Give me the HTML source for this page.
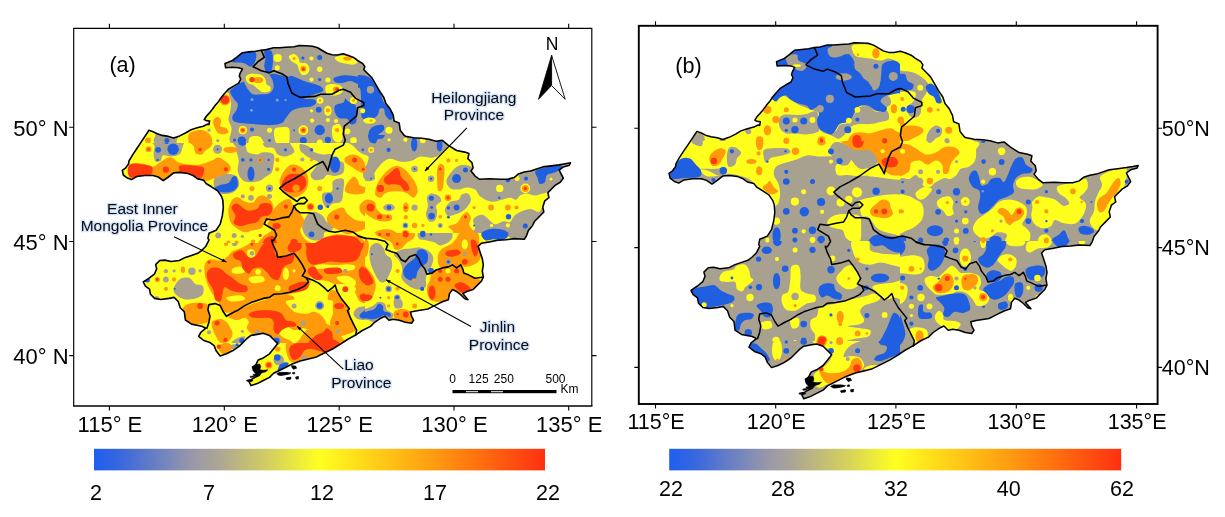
<!DOCTYPE html>
<html><head><meta charset="utf-8"><title>Figure</title>
<style>
html,body{margin:0;padding:0;background:#fff;}
body{width:1225px;height:517px;position:relative;overflow:hidden;font-family:"Liberation Sans",sans-serif;color:#000;}
text{font-family:"Liberation Sans",sans-serif;fill:#000;}
text.h{stroke:#d3e3f6;stroke-width:2.6px;paint-order:stroke;stroke-linejoin:round;fill:#0a0a14;}
</style></head><body>
<svg width="1225" height="517" viewBox="0 0 1225 517" style="position:absolute;left:0;top:0">
<defs><linearGradient id="cb" x1="0" x2="1" y1="0" y2="0"><stop offset="0" stop-color="#1f5ff0"/><stop offset="0.05" stop-color="#3565e0"/><stop offset="0.22" stop-color="#9a98a8"/><stop offset="0.27" stop-color="#aaa498"/><stop offset="0.40" stop-color="#d8d458"/><stop offset="0.5" stop-color="#ffff20"/><stop offset="0.75" stop-color="#ff9d10"/><stop offset="1" stop-color="#ff3010"/></linearGradient></defs>
<rect width="1225" height="517" fill="#fff"/>
<clipPath id="ca"><path d="M225.0,63.6L232.5,60.5L236.6,57.4L242.4,52.7L248.9,51.9L255.5,51.3L261.3,50.3L266.4,49.6L273.6,47.8L279.7,47.8L285.9,47.2L294.1,46.8L299.2,45.5L306.4,45.7L312.5,46.2L317.7,47.8L321.8,50.3L326.9,53.3L332.0,54.8L337.1,55.0L343.3,53.7L348.4,55.4L353.5,57.4L357.6,60.5L362.8,63.6L364.8,66.7L363.8,69.7L367.9,73.8L372.0,77.9L375.6,84.1L379.7,91.3L383.8,97.4L385.9,103.6L390.0,108.7L393.1,114.9L394.1,121.0L399.2,123.1L400.2,130.2L404.3,135.4L405.4,136.2L413.6,137.8L421.8,138.2L429.0,139.2L436.1,141.3L442.3,140.3L448.4,145.4L456.6,150.5L464.8,152.1L468.9,153.6L467.9,158.7L472.0,162.8L473.1,167.9L471.0,171.0L475.1,176.1L479.2,179.2L489.5,178.8L499.7,179.2L507.9,179.2L514.1,177.6L518.2,174.1L524.3,172.0L530.5,171.0L536.6,169.0L542.8,166.9L551.0,165.9L559.2,164.9L565.3,163.8L570.5,162.8L569.4,165.3L563.3,166.9L559.2,170.0L561.2,174.1L563.3,178.2L560.2,182.3L555.1,185.4L551.0,189.5L547.9,192.6L548.9,197.7L544.8,200.8L542.8,206.9L543.8,212.0L538.7,217.2L534.6,221.3L532.5,225.4L528.4,230.5L526.4,236.0L524.3,239.2L514.1,238.6L505.9,239.8L497.7,240.3L489.5,241.9L481.3,243.3L478.2,246.4L480.2,252.6L482.3,258.7L483.3,264.9L482.3,271.0L483.3,277.2L481.3,281.3L477.2,285.4L473.1,289.5L466.9,291.5L462.8,293.6L467.9,299.7L464.8,298.7L460.7,294.6L456.6,291.5L452.5,289.5L449.5,293.6L448.4,299.7L442.3,301.8L436.1,304.9L432.0,306.9L427.9,309.0L421.8,310.0L415.6,311.0L410.5,312.0L411.5,316.1L413.6,320.2L411.5,323.3L405.4,322.3L399.2,320.2L393.1,319.2L389.0,320.2L384.9,316.1L380.8,318.2L374.6,322.3L370.5,326.4L362.3,330.5L356.2,334.6L347.4,339.5L341.2,343.6L333.0,348.7L324.8,352.8L316.6,356.9L308.4,359.0L300.2,361.0L292.0,364.1L285.9,367.2L279.7,370.2L273.6,373.3L269.5,377.4L263.3,380.5L257.2,383.6L251.0,385.6L248.9,381.5L253.1,378.4L259.2,375.4L261.3,372.3L256.1,371.3L253.1,368.2L256.1,364.1L258.2,360.0L263.3,357.9L269.5,353.8L273.6,348.7L277.7,343.6L273.6,339.5L269.5,335.4L263.3,333.3L257.2,334.4L251.0,335.4L246.9,338.5L242.8,342.6L238.7,346.7L232.5,350.8L226.4,353.8L220.2,355.9L216.1,350.8L214.1,345.6L210.0,342.6L203.8,340.5L198.7,336.4L200.8,332.3L205.9,328.2L201.8,326.2L191.5,324.1L185.4,320.0L184.3,311.8L180.2,307.7L178.2,301.5L174.1,297.4L169.0,298.4L160.8,299.5L154.6,298.4L150.5,294.3L149.5,289.2L145.4,286.1L143.3,282.0L149.5,277.9L154.6,273.8L156.7,268.7L155.6,264.6L159.7,260.5L164.9,260.1L171.0,261.5L179.2,260.5L185.4,257.4L191.5,255.4L197.7,253.3L201.8,250.3L205.9,246.2L209.0,240.0L207.9,238.4L209.0,233.3L216.1,230.2L220.2,224.1L222.3,215.9L223.3,207.7L222.8,200.1L221.3,196.0L217.7,190.9L211.5,186.8L206.4,183.7L203.3,180.1L197.2,178.6L193.1,175.5L187.9,173.5L179.7,172.4L173.6,172.9L168.4,177.0L163.3,180.6L158.2,177.0L153.1,175.5L144.9,175.5L136.7,176.5L131.5,179.6L127.4,178.1L123.3,175.0L122.3,170.4L125.4,168.2L128.5,164.1L129.0,161.0L132.6,154.9L136.7,148.7L140.8,142.6L144.9,136.4L149.0,130.3L153.1,131.8L157.2,133.8L162.3,135.4L168.4,136.4L173.6,137.9L179.7,135.9L185.9,132.8L191.0,129.7L197.2,127.7L203.3,126.2L207.4,124.1L209.0,124.5L209.6,121.0L206.3,120.6L204.2,119.6L206.3,116.3L209.0,113.4L212.0,109.7L215.1,105.6L218.6,101.5L221.3,97.4L224.3,93.7L228.4,89.2L233.6,86.1L238.7,83.1L240.7,79.0L239.3,75.9L240.3,72.8L242.4,69.1L238.7,67.7L232.5,67.3L225.6,67.7Z"/></clipPath>
<g clip-path="url(#ca)"><path d="M225.0,63.6L232.5,60.5L236.6,57.4L242.4,52.7L248.9,51.9L255.5,51.3L261.3,50.3L266.4,49.6L273.6,47.8L279.7,47.8L285.9,47.2L294.1,46.8L299.2,45.5L306.4,45.7L312.5,46.2L317.7,47.8L321.8,50.3L326.9,53.3L332.0,54.8L337.1,55.0L343.3,53.7L348.4,55.4L353.5,57.4L357.6,60.5L362.8,63.6L364.8,66.7L363.8,69.7L367.9,73.8L372.0,77.9L375.6,84.1L379.7,91.3L383.8,97.4L385.9,103.6L390.0,108.7L393.1,114.9L394.1,121.0L399.2,123.1L400.2,130.2L404.3,135.4L405.4,136.2L413.6,137.8L421.8,138.2L429.0,139.2L436.1,141.3L442.3,140.3L448.4,145.4L456.6,150.5L464.8,152.1L468.9,153.6L467.9,158.7L472.0,162.8L473.1,167.9L471.0,171.0L475.1,176.1L479.2,179.2L489.5,178.8L499.7,179.2L507.9,179.2L514.1,177.6L518.2,174.1L524.3,172.0L530.5,171.0L536.6,169.0L542.8,166.9L551.0,165.9L559.2,164.9L565.3,163.8L570.5,162.8L569.4,165.3L563.3,166.9L559.2,170.0L561.2,174.1L563.3,178.2L560.2,182.3L555.1,185.4L551.0,189.5L547.9,192.6L548.9,197.7L544.8,200.8L542.8,206.9L543.8,212.0L538.7,217.2L534.6,221.3L532.5,225.4L528.4,230.5L526.4,236.0L524.3,239.2L514.1,238.6L505.9,239.8L497.7,240.3L489.5,241.9L481.3,243.3L478.2,246.4L480.2,252.6L482.3,258.7L483.3,264.9L482.3,271.0L483.3,277.2L481.3,281.3L477.2,285.4L473.1,289.5L466.9,291.5L462.8,293.6L467.9,299.7L464.8,298.7L460.7,294.6L456.6,291.5L452.5,289.5L449.5,293.6L448.4,299.7L442.3,301.8L436.1,304.9L432.0,306.9L427.9,309.0L421.8,310.0L415.6,311.0L410.5,312.0L411.5,316.1L413.6,320.2L411.5,323.3L405.4,322.3L399.2,320.2L393.1,319.2L389.0,320.2L384.9,316.1L380.8,318.2L374.6,322.3L370.5,326.4L362.3,330.5L356.2,334.6L347.4,339.5L341.2,343.6L333.0,348.7L324.8,352.8L316.6,356.9L308.4,359.0L300.2,361.0L292.0,364.1L285.9,367.2L279.7,370.2L273.6,373.3L269.5,377.4L263.3,380.5L257.2,383.6L251.0,385.6L248.9,381.5L253.1,378.4L259.2,375.4L261.3,372.3L256.1,371.3L253.1,368.2L256.1,364.1L258.2,360.0L263.3,357.9L269.5,353.8L273.6,348.7L277.7,343.6L273.6,339.5L269.5,335.4L263.3,333.3L257.2,334.4L251.0,335.4L246.9,338.5L242.8,342.6L238.7,346.7L232.5,350.8L226.4,353.8L220.2,355.9L216.1,350.8L214.1,345.6L210.0,342.6L203.8,340.5L198.7,336.4L200.8,332.3L205.9,328.2L201.8,326.2L191.5,324.1L185.4,320.0L184.3,311.8L180.2,307.7L178.2,301.5L174.1,297.4L169.0,298.4L160.8,299.5L154.6,298.4L150.5,294.3L149.5,289.2L145.4,286.1L143.3,282.0L149.5,277.9L154.6,273.8L156.7,268.7L155.6,264.6L159.7,260.5L164.9,260.1L171.0,261.5L179.2,260.5L185.4,257.4L191.5,255.4L197.7,253.3L201.8,250.3L205.9,246.2L209.0,240.0L207.9,238.4L209.0,233.3L216.1,230.2L220.2,224.1L222.3,215.9L223.3,207.7L222.8,200.1L221.3,196.0L217.7,190.9L211.5,186.8L206.4,183.7L203.3,180.1L197.2,178.6L193.1,175.5L187.9,173.5L179.7,172.4L173.6,172.9L168.4,177.0L163.3,180.6L158.2,177.0L153.1,175.5L144.9,175.5L136.7,176.5L131.5,179.6L127.4,178.1L123.3,175.0L122.3,170.4L125.4,168.2L128.5,164.1L129.0,161.0L132.6,154.9L136.7,148.7L140.8,142.6L144.9,136.4L149.0,130.3L153.1,131.8L157.2,133.8L162.3,135.4L168.4,136.4L173.6,137.9L179.7,135.9L185.9,132.8L191.0,129.7L197.2,127.7L203.3,126.2L207.4,124.1L209.0,124.5L209.6,121.0L206.3,120.6L204.2,119.6L206.3,116.3L209.0,113.4L212.0,109.7L215.1,105.6L218.6,101.5L221.3,97.4L224.3,93.7L228.4,89.2L233.6,86.1L238.7,83.1L240.7,79.0L239.3,75.9L240.3,72.8L242.4,69.1L238.7,67.7L232.5,67.3L225.6,67.7Z" fill="#a9a18f"/>
<clipPath id="cat0"><rect x="0" y="0" width="358" height="143"/></clipPath>
<g clip-path="url(#cat0)"><rect x="0" y="0" width="358" height="143" fill="#a9a18f"/>
<path d="M232.5,61.5C233.2,60.0 238.6,54.9 242.4,53.3C246.1,51.8 252.9,51.1 255.1,52.3C257.3,53.5 256.2,58.1 255.5,60.5C254.8,62.9 252.8,66.1 251.0,66.7C249.2,67.2 246.9,64.3 244.8,63.6C242.8,62.9 240.7,62.9 238.7,62.6C236.6,62.2 231.9,63.1 232.5,61.5Z" fill="#1f5fe0"/>
<path d="M264.3,51.3C265.4,50.1 270.1,49.7 271.5,51.3C272.9,52.8 272.9,57.3 272.9,60.5C272.9,63.8 272.4,68.5 271.5,70.8C270.6,73.0 268.6,74.5 267.4,73.8C266.2,73.2 264.7,69.2 264.3,66.7C264.0,64.1 265.4,61.0 265.4,58.5C265.4,55.9 263.3,52.5 264.3,51.3Z" fill="#1f5fe0"/>
<path d="M230.1,91.3C230.6,89.1 234.5,87.1 236.6,85.5C238.8,84.0 240.1,82.8 242.8,82.0C245.5,81.3 249.3,81.9 253.1,81.0C256.8,80.2 261.9,78.1 265.4,76.9C268.8,75.7 270.0,73.8 273.6,73.8C277.1,73.8 283.8,76.6 286.9,76.9C290.0,77.3 289.1,75.2 292.0,75.9C294.9,76.6 300.6,79.6 304.3,81.0C308.1,82.4 311.7,83.1 314.6,84.1C317.5,85.1 320.4,86.0 321.8,87.2C323.1,88.4 324.0,90.1 322.8,91.3C321.6,92.5 317.7,93.2 314.6,94.3C311.5,95.5 304.3,97.6 304.3,98.4C304.3,99.3 312.7,98.6 314.6,99.5C316.5,100.3 316.3,102.4 315.6,103.6C314.9,104.8 313.0,106.0 310.5,106.7C307.9,107.3 303.3,107.0 300.2,107.7C297.1,108.4 294.4,109.0 292.0,110.8C289.6,112.5 287.6,115.9 285.9,117.9C284.2,120.0 284.2,121.9 281.8,123.1C279.4,124.3 276.3,124.9 271.5,125.1C266.7,125.3 258.2,124.4 253.1,124.1C247.9,123.7 244.0,123.6 240.7,123.1C237.5,122.5 234.9,122.2 233.6,121.0C232.2,119.8 232.0,117.8 232.5,115.9C233.1,114.0 235.8,111.8 236.6,109.7C237.5,107.7 238.2,105.5 237.7,103.6C237.2,101.7 234.8,100.5 233.6,98.4C232.3,96.4 229.6,93.4 230.1,91.3Z" fill="#1f5fe0"/>
<path d="M241.8,72.8C243.3,71.1 249.1,70.8 253.1,70.8C257.0,70.8 262.3,71.6 265.4,72.8C268.4,74.0 270.1,75.5 271.5,77.9C272.9,80.3 273.9,84.6 273.6,87.2C273.2,89.7 271.5,92.1 269.5,93.3C267.4,94.5 264.0,94.2 261.3,94.3C258.5,94.5 255.3,95.2 253.1,94.3C250.8,93.5 249.5,91.4 247.9,89.2C246.4,87.0 244.8,83.8 243.8,81.0C242.8,78.3 240.2,74.5 241.8,72.8Z" fill="#a9a18f"/>
<path d="M245.9,76.9C246.4,75.4 248.4,74.2 251.0,73.8C253.6,73.5 258.9,74.0 261.3,74.9C263.6,75.7 264.5,77.4 265.4,79.0C266.2,80.5 265.5,82.7 266.4,84.1C267.2,85.5 270.0,86.0 270.5,87.2C271.0,88.4 270.7,90.4 269.5,91.3C268.3,92.1 265.2,92.6 263.3,92.3C261.4,92.0 259.9,90.4 258.2,89.2C256.5,88.0 254.8,86.1 253.1,85.1C251.3,84.1 249.1,84.4 247.9,83.1C246.7,81.7 245.4,78.5 245.9,76.9Z" fill="#ffff1e"/>
<ellipse cx="258.2" cy="80.0" rx="5.1" ry="3.1" fill="#ff9a0a"/>
<circle cx="252.0" cy="79.6" r="2.7" fill="#ff3a0e"/>
<path d="M334.1,77.9C335.8,76.8 341.4,75.5 345.3,75.3C349.3,75.0 354.2,76.5 357.6,76.5C361.1,76.5 364.0,74.9 365.8,75.3C367.7,75.7 369.6,77.5 368.9,79.0C368.2,80.4 364.0,83.4 361.7,84.1C359.5,84.8 357.5,83.6 355.6,83.1C353.7,82.6 352.9,81.0 350.5,81.0C348.1,81.0 343.8,82.9 341.2,83.1C338.7,83.2 336.3,82.9 335.1,82.0C333.9,81.2 332.4,79.1 334.1,77.9Z" fill="#1f5fe0"/>
<path d="M365.8,88.2C367.0,86.8 371.7,85.6 374.1,86.1C376.4,86.7 379.0,87.3 380.0,91.3C381.0,95.2 380.8,106.1 380.0,109.7C379.2,113.3 376.6,112.6 375.1,112.8C373.6,113.0 371.8,112.6 371.0,110.8C370.1,108.9 370.6,104.3 370.0,101.5C369.3,98.8 367.6,96.6 366.9,94.3C366.2,92.1 364.7,89.6 365.8,88.2Z" fill="#1f5fe0"/>
<circle cx="372.0" cy="90.2" r="3.7" fill="#a9a18f"/>
<path d="M335.1,105.6C336.5,103.9 341.6,103.7 343.3,102.6C345.0,101.4 344.5,98.6 345.3,98.4C346.2,98.3 346.7,100.3 348.4,101.5C350.1,102.7 354.2,103.2 355.6,105.6C357.0,108.0 356.6,113.0 356.6,115.9C356.6,118.8 356.6,121.7 355.6,123.1C354.6,124.4 351.8,124.8 350.5,124.1C349.1,123.4 349.3,120.0 347.4,119.0C345.5,117.9 341.2,119.0 339.2,117.9C337.1,116.9 335.8,114.9 335.1,112.8C334.4,110.8 333.7,107.3 335.1,105.6Z" fill="#1f5fe0"/>
<circle cx="319.7" cy="130.2" r="5.1" fill="#1f5fe0"/>
<circle cx="241.8" cy="140.5" r="4.1" fill="#1f5fe0"/>
<circle cx="303.3" cy="140.5" r="3.5" fill="#1f5fe0"/>
<circle cx="327.9" cy="139.9" r="3.1" fill="#1f5fe0"/>
<circle cx="234.6" cy="140.1" r="1.6" fill="#1f5fe0"/>
<circle cx="269.5" cy="140.5" r="1.4" fill="#1f5fe0"/>
<circle cx="252.0" cy="129.6" r="2.1" fill="#1f5fe0"/>
<circle cx="318.7" cy="109.7" r="2.9" fill="#1f5fe0"/>
<circle cx="319.7" cy="57.4" r="2.5" fill="#1f5fe0"/>
<circle cx="302.9" cy="58.0" r="1.6" fill="#1f5fe0"/>
<circle cx="319.7" cy="79.6" r="1.6" fill="#1f5fe0"/>
<circle cx="294.1" cy="130.2" r="1.0" fill="#1f5fe0"/>
<path d="M371.0,130.2C372.8,128.5 378.5,124.1 380.0,126.1C381.5,128.2 381.3,139.8 380.0,142.5C378.7,145.3 373.8,143.6 372.0,142.5C370.2,141.5 369.1,138.4 368.9,136.4C368.8,134.3 369.1,131.9 371.0,130.2Z" fill="#1f5fe0"/>
<circle cx="277.7" cy="58.0" r="4.1" fill="#ffff1e"/>
<circle cx="277.3" cy="67.7" r="2.5" fill="#ffff1e"/>
<path d="M288.9,56.4C289.3,55.1 292.5,53.8 294.1,53.9C295.6,54.1 297.1,56.0 298.2,57.4C299.2,58.9 298.9,61.5 300.2,62.6C301.6,63.6 304.8,62.6 306.4,63.6C307.9,64.6 309.3,67.0 309.5,68.7C309.6,70.4 308.6,72.8 307.4,73.8C306.2,74.9 303.6,75.4 302.3,74.9C300.9,74.4 300.1,72.5 299.2,70.8C298.3,69.1 298.3,66.1 297.1,64.6C295.9,63.1 293.4,62.9 292.0,61.5C290.7,60.2 288.6,57.7 288.9,56.4Z" fill="#ffff1e"/>
<circle cx="294.1" cy="58.5" r="1.6" fill="#ff9a0a"/>
<circle cx="303.3" cy="68.7" r="2.9" fill="#ff9a0a"/>
<circle cx="303.3" cy="69.1" r="1.6" fill="#ff3a0e"/>
<circle cx="311.5" cy="58.5" r="2.1" fill="#ffff1e"/>
<circle cx="319.7" cy="69.3" r="2.7" fill="#ffff1e"/>
<circle cx="311.5" cy="79.6" r="2.1" fill="#ffff1e"/>
<circle cx="327.9" cy="80.0" r="2.5" fill="#ffff1e"/>
<path d="M335.1,57.4C335.9,56.4 340.6,55.4 343.3,55.4C346.0,55.4 349.1,56.4 351.5,57.4C353.9,58.5 357.3,60.3 357.6,61.5C358.0,62.7 355.6,64.3 353.5,64.6C351.5,65.0 347.9,64.1 345.3,63.6C342.8,63.1 339.9,62.6 338.2,61.5C336.5,60.5 334.2,58.5 335.1,57.4Z" fill="#ffff1e"/>
<ellipse cx="347.4" cy="58.5" rx="4.1" ry="2.1" fill="#ff9a0a"/>
<path d="M325.9,86.1C326.9,84.5 330.5,84.1 333.0,84.1C335.6,84.1 339.7,84.8 341.2,86.1C342.8,87.5 343.3,90.8 342.3,92.3C341.2,93.8 337.6,95.1 335.1,95.4C332.5,95.6 328.4,95.3 326.9,93.7C325.3,92.2 324.8,87.8 325.9,86.1Z" fill="#ffff1e"/>
<circle cx="336.1" cy="89.6" r="3.1" fill="#ff9a0a"/>
<circle cx="337.1" cy="89.2" r="1.8" fill="#ff3a0e"/>
<circle cx="320.1" cy="100.5" r="3.3" fill="#ffff1e"/>
<circle cx="320.1" cy="100.5" r="1.2" fill="#ff9a0a"/>
<ellipse cx="327.9" cy="110.8" rx="3.7" ry="5.1" fill="#ffff1e"/>
<circle cx="327.9" cy="110.3" r="2.1" fill="#ff9a0a"/>
<circle cx="311.5" cy="110.8" r="1.6" fill="#ffff1e"/>
<circle cx="312.1" cy="120.6" r="2.1" fill="#ffff1e"/>
<circle cx="327.9" cy="120.0" r="2.1" fill="#ffff1e"/>
<circle cx="336.1" cy="121.0" r="2.1" fill="#ffff1e"/>
<circle cx="353.5" cy="100.5" r="3.5" fill="#ffff1e"/>
<circle cx="353.5" cy="100.5" r="1.4" fill="#ff9a0a"/>
<circle cx="362.8" cy="110.8" r="2.9" fill="#ffff1e"/>
<path d="M361.7,119.0C362.8,117.9 367.7,116.9 370.0,116.9C372.2,116.9 374.2,117.9 375.1,119.0C375.9,120.0 375.9,122.1 375.1,123.1C374.2,124.0 371.8,124.5 370.0,124.5C368.1,124.5 365.2,124.0 363.8,123.1C362.4,122.1 360.7,120.0 361.7,119.0Z" fill="#ffff1e"/>
<circle cx="371.0" cy="120.6" r="1.6" fill="#ff9a0a"/>
<circle cx="347.4" cy="131.3" r="2.9" fill="#ffff1e"/>
<circle cx="353.5" cy="140.5" r="3.3" fill="#ffff1e"/>
<path d="M333.0,126.1C334.2,124.6 337.6,123.4 339.2,124.1C340.7,124.8 341.8,127.8 342.3,130.2C342.8,132.6 342.8,136.4 342.3,138.4C341.8,140.5 340.6,142.2 339.2,142.5C337.8,142.9 335.3,142.0 334.1,140.5C332.9,139.0 332.2,135.7 332.0,133.3C331.8,130.9 331.8,127.7 333.0,126.1Z" fill="#ffff1e"/>
<circle cx="337.1" cy="130.2" r="2.1" fill="#ff9a0a"/>
<path d="M274.6,129.2C275.8,127.3 279.4,127.3 281.8,127.2C284.2,127.0 287.6,126.3 288.9,128.2C290.2,130.1 289.7,135.9 289.6,138.4C289.4,141.0 289.9,142.7 287.9,143.6C285.9,144.4 279.9,144.4 277.7,143.6C275.4,142.7 275.1,140.8 274.6,138.4C274.1,136.0 273.4,131.1 274.6,129.2Z" fill="#ffff1e"/>
<circle cx="269.5" cy="130.2" r="2.5" fill="#ffff1e"/>
<path d="M250.0,137.4C251.5,135.8 257.0,135.7 259.2,136.4C261.4,137.1 262.3,139.9 263.3,141.5C264.3,143.1 267.6,145.3 265.4,146.0C263.1,146.8 252.5,147.5 250.0,146.0C247.4,144.6 248.4,139.0 250.0,137.4Z" fill="#ffff1e"/>
<circle cx="303.3" cy="130.2" r="4.9" fill="#ffff1e"/>
<circle cx="303.3" cy="130.2" r="3.1" fill="#ff9a0a"/>
<circle cx="303.3" cy="130.2" r="1.6" fill="#ff3a0e"/>
<circle cx="242.8" cy="130.2" r="4.1" fill="#ffff1e"/>
<circle cx="242.8" cy="130.2" r="2.7" fill="#ff9a0a"/>
<circle cx="242.8" cy="130.2" r="1.4" fill="#ff3a0e"/>
<circle cx="319.7" cy="142.5" r="2.9" fill="#ffff1e"/>
<path d="M211.0,110.8C213.6,107.2 218.5,100.9 221.3,97.8C224.0,94.8 225.8,91.7 227.4,92.3C229.0,92.9 230.5,98.3 230.9,101.5C231.3,104.8 230.5,108.7 230.1,111.8C229.7,114.9 228.2,117.2 228.4,120.0C228.7,122.7 231.3,125.1 231.5,128.2C231.7,131.3 230.3,135.5 229.5,138.4C228.6,141.4 234.4,144.8 226.4,146.0C218.4,147.3 189.1,147.8 181.3,146.0C173.4,144.3 177.5,138.1 179.2,135.4C180.9,132.6 186.6,131.3 191.5,129.4C196.5,127.5 206.6,125.8 209.0,124.1C211.4,122.3 205.5,121.2 205.9,119.0C206.2,116.7 208.4,114.3 211.0,110.8Z" fill="#ffff1e"/>
<circle cx="225.0" cy="99.9" r="5.5" fill="#ff9a0a"/>
<circle cx="225.0" cy="99.9" r="4.1" fill="#ff3a0e"/>
<path d="M214.1,119.0C214.9,117.9 217.0,116.6 218.2,116.9C219.4,117.2 220.9,119.5 221.3,121.0C221.6,122.5 219.4,124.9 220.2,126.1C221.1,127.3 225.0,127.2 226.4,128.2C227.8,129.2 228.8,131.3 228.4,132.3C228.1,133.3 226.0,134.2 224.3,134.3C222.6,134.5 219.7,134.3 218.2,133.3C216.6,132.3 216.0,129.9 215.1,128.2C214.3,126.5 213.2,124.6 213.1,123.1C212.9,121.5 213.2,120.0 214.1,119.0Z" fill="#ff9a0a"/>
<path d="M189.5,133.3C191.0,131.6 194.9,130.6 197.7,130.2C200.4,129.9 203.7,130.2 205.9,131.3C208.1,132.3 210.0,134.5 211.0,136.4C212.0,138.3 212.5,140.9 212.0,142.5C211.5,144.1 211.4,145.4 207.9,146.0C204.5,146.6 194.8,147.0 191.5,146.0C188.3,145.1 188.8,142.6 188.4,140.5C188.1,138.4 187.9,135.0 189.5,133.3Z" fill="#ff9a0a"/>
<path d="M139.2,146.0C138.0,143.8 145.6,135.2 147.4,132.7C149.3,130.2 149.1,131.2 150.5,131.3C151.9,131.4 155.1,131.8 155.6,133.3C156.1,134.9 153.8,138.4 153.6,140.5C153.4,142.6 157.0,145.1 154.6,146.0C152.2,147.0 140.4,148.3 139.2,146.0Z" fill="#ffff1e"/>
<circle cx="148.0" cy="140.5" r="2.9" fill="#ff9a0a"/>
<circle cx="166.9" cy="140.5" r="2.5" fill="#1f5fe0"/>
<circle cx="209.0" cy="130.2" r="1.6" fill="#a9a18f"/>
<circle cx="217.8" cy="140.5" r="1.6" fill="#a9a18f"/>
<circle cx="277.3" cy="100.1" r="1.6" fill="#7f9fdc"/>
<circle cx="285.5" cy="100.1" r="1.2" fill="#7f9fdc"/>
<circle cx="251.4" cy="110.3" r="1.4" fill="#7f9fdc"/>
<circle cx="252.0" cy="99.5" r="1.6" fill="#7f9fdc"/></g>
<clipPath id="cat1"><rect x="0" y="143" width="365" height="100"/></clipPath>
<g clip-path="url(#cat1)"><rect x="0" y="143" width="365" height="100" fill="#ffff1e"/>
<path d="M152.6,140.0C157.0,139.0 176.3,138.6 181.3,140.0C186.2,141.4 182.6,145.8 182.3,148.2C182.0,150.6 181.1,153.0 179.2,154.4C177.3,155.7 173.8,156.2 171.0,156.4C168.3,156.6 164.5,154.7 162.8,155.4C161.1,156.1 162.0,159.5 160.8,160.5C159.6,161.5 156.8,162.6 155.6,161.5C154.4,160.5 153.8,156.9 153.6,154.4C153.4,151.8 154.8,148.5 154.6,146.2C154.4,143.8 148.1,141.0 152.6,140.0Z" fill="#a9a18f"/>
<circle cx="158.1" cy="149.8" r="2.9" fill="#1f5fe0"/>
<circle cx="173.1" cy="149.2" r="5.7" fill="#1f5fe0"/>
<circle cx="166.5" cy="141.6" r="2.5" fill="#1f5fe0"/>
<circle cx="157.7" cy="159.9" r="1.2" fill="#1f5fe0"/>
<circle cx="217.6" cy="149.2" r="4.5" fill="#a9a18f"/>
<circle cx="217.6" cy="149.2" r="1.0" fill="#1f5fe0"/>
<path d="M236.6,146.2C238.0,145.0 243.0,144.1 244.8,145.1C246.7,146.2 245.9,150.8 247.9,152.3C250.0,153.8 254.6,154.4 257.2,154.4C259.7,154.4 260.6,152.3 263.3,152.3C266.0,152.3 271.9,152.3 273.6,154.4C275.3,156.4 273.9,161.5 273.6,164.6C273.2,167.7 272.9,170.8 271.5,172.8C270.1,174.9 267.4,175.5 265.4,176.9C263.3,178.3 262.3,180.2 259.2,181.0C256.1,181.9 250.0,182.6 246.9,182.0C243.8,181.5 242.3,179.8 240.7,177.9C239.2,176.1 238.0,173.7 237.7,170.8C237.3,167.9 238.9,163.6 238.7,160.5C238.5,157.4 237.0,154.7 236.6,152.3C236.3,149.9 235.3,147.3 236.6,146.2Z" fill="#a9a18f"/>
<path d="M232.5,140.0C233.9,138.8 242.8,139.0 244.8,140.0C246.9,141.0 246.2,145.0 244.8,146.2C243.5,147.3 238.7,148.2 236.6,147.2C234.6,146.2 231.2,141.2 232.5,140.0Z" fill="#a9a18f"/>
<path d="M263.3,142.1C264.7,140.9 269.8,140.3 273.6,140.0C277.3,139.7 282.8,139.0 285.9,140.0C288.9,141.0 290.7,144.1 292.0,146.2C293.4,148.2 295.1,150.6 294.1,152.3C293.0,154.0 288.6,156.1 285.9,156.4C283.1,156.7 279.7,155.7 277.7,154.4C275.6,153.0 275.6,149.4 273.6,148.2C271.5,147.0 267.1,148.2 265.4,147.2C263.6,146.2 261.9,143.2 263.3,142.1Z" fill="#a9a18f"/>
<circle cx="242.4" cy="141.6" r="4.1" fill="#1f5fe0"/>
<circle cx="242.8" cy="159.9" r="1.8" fill="#1f5fe0"/>
<circle cx="251.0" cy="159.9" r="1.6" fill="#1f5fe0"/>
<circle cx="268.6" cy="159.9" r="1.2" fill="#1f5fe0"/>
<circle cx="268.6" cy="169.3" r="1.6" fill="#1f5fe0"/>
<circle cx="285.5" cy="149.8" r="1.6" fill="#1f5fe0"/>
<ellipse cx="251.0" cy="173.8" rx="3.5" ry="7.2" fill="#1f5fe0"/>
<path d="M214.1,179.0C215.0,176.7 217.8,175.7 220.2,174.9C222.6,174.0 225.7,173.6 228.4,173.8C231.2,174.1 234.9,174.6 236.6,176.5C238.4,178.4 239.8,182.4 239.1,185.1C238.4,187.8 235.7,191.3 232.5,192.7C229.4,194.1 223.2,194.4 220.2,193.7C217.3,193.0 215.7,191.1 214.7,188.6C213.7,186.1 213.2,181.3 214.1,179.0Z" fill="#a9a18f"/>
<path d="M215.1,188.2C214.8,187.0 218.0,186.0 220.2,185.1C222.5,184.3 226.4,184.4 228.4,183.1C230.5,181.7 231.2,177.9 232.5,176.9C233.9,175.9 235.8,175.4 236.6,176.9C237.5,178.5 238.4,183.8 237.7,186.1C237.0,188.5 235.1,190.2 232.5,191.3C230.0,192.3 225.2,192.8 222.3,192.3C219.4,191.8 215.5,189.4 215.1,188.2Z" fill="#1f5fe0"/>
<circle cx="269.5" cy="188.2" r="3.7" fill="#a9a18f"/>
<circle cx="269.5" cy="188.6" r="1.4" fill="#1f5fe0"/>
<circle cx="269.5" cy="196.4" r="2.5" fill="#a9a18f"/>
<path d="M300.2,144.1C301.6,143.4 306.0,144.8 308.4,146.2C310.8,147.5 312.2,150.9 314.6,152.3C317.0,153.7 319.9,154.0 322.8,154.4C325.7,154.7 330.0,153.3 332.0,154.4C334.1,155.4 333.2,159.1 335.1,160.5C337.0,161.9 341.9,160.5 343.3,162.6C344.7,164.6 344.7,170.6 343.3,172.8C341.9,175.0 337.8,175.5 335.1,175.9C332.4,176.2 328.9,174.4 326.9,174.9C324.8,175.4 324.8,178.1 322.8,179.0C320.7,179.8 316.6,180.7 314.6,180.0C312.5,179.3 310.5,176.7 310.5,174.9C310.5,173.0 313.2,170.8 314.6,168.7C315.9,166.7 319.4,164.3 318.7,162.6C318.0,160.9 312.9,159.8 310.5,158.5C308.1,157.1 306.0,155.7 304.3,154.4C302.6,153.0 300.9,152.0 300.2,150.3C299.5,148.5 298.9,144.8 300.2,144.1Z" fill="#a9a18f"/>
<ellipse cx="335.1" cy="164.6" rx="5.1" ry="8.2" fill="#1f5fe0"/>
<circle cx="311.5" cy="149.8" r="1.8" fill="#1f5fe0"/>
<circle cx="302.3" cy="159.5" r="2.1" fill="#a9a18f"/>
<path d="M347.4,140.0C351.8,139.0 374.6,139.0 380.0,140.0C385.4,141.0 381.3,144.8 380.0,146.2C378.7,147.5 374.4,146.8 372.0,148.2C369.6,149.6 367.9,153.7 365.8,154.4C363.8,155.0 361.7,153.7 359.7,152.3C357.6,150.9 355.6,148.2 353.5,146.2C351.5,144.1 343.0,141.0 347.4,140.0Z" fill="#a9a18f"/>
<circle cx="371.6" cy="141.0" r="3.5" fill="#1f5fe0"/>
<circle cx="362.8" cy="149.8" r="1.4" fill="#1f5fe0"/>
<path d="M333.0,181.0C334.9,179.0 341.6,177.3 343.3,179.0C345.0,180.7 343.6,187.5 343.3,191.3C342.9,195.0 342.9,199.5 341.2,201.5C339.5,203.6 335.4,202.6 333.0,203.6C330.6,204.6 328.6,208.0 326.9,207.7C325.2,207.3 323.5,203.9 322.8,201.5C322.1,199.1 321.2,195.0 322.8,193.3C324.3,191.6 330.3,193.3 332.0,191.3C333.7,189.2 331.2,183.1 333.0,181.0Z" fill="#a9a18f"/>
<ellipse cx="328.9" cy="198.4" rx="4.1" ry="5.1" fill="#1f5fe0"/>
<circle cx="320.3" cy="207.3" r="2.7" fill="#1f5fe0"/>
<circle cx="327.9" cy="206.7" r="1.4" fill="#1f5fe0"/>
<circle cx="337.5" cy="188.6" r="1.2" fill="#1f5fe0"/>
<path d="M308.4,213.8C310.1,212.5 312.2,211.4 314.6,211.8C317.0,212.1 320.7,214.2 322.8,215.9C324.8,217.6 325.2,220.7 326.9,222.0C328.6,223.4 332.2,222.7 333.0,224.1C333.9,225.5 333.4,228.9 332.0,230.2C330.6,231.6 326.4,230.9 324.8,232.3C323.3,233.7 324.5,237.1 322.8,238.4C321.1,239.8 317.3,240.8 314.6,240.5C311.8,240.2 308.4,238.4 306.4,236.4C304.3,234.3 302.6,230.9 302.3,228.2C301.9,225.5 303.3,222.4 304.3,220.0C305.3,217.6 306.7,215.2 308.4,213.8Z" fill="#a9a18f"/>
<circle cx="311.5" cy="234.3" r="2.9" fill="#1f5fe0"/>
<path d="M363.8,170.8C365.2,168.5 369.3,166.0 372.0,164.6C374.7,163.2 378.7,159.8 380.0,162.6C381.3,165.3 381.7,177.9 380.0,181.0C378.3,184.1 372.7,181.5 370.0,181.0C367.3,180.5 364.8,179.6 363.8,177.9C362.8,176.2 362.4,173.0 363.8,170.8Z" fill="#a9a18f"/>
<circle cx="371.0" cy="178.4" r="0.8" fill="#1f5fe0"/>
<circle cx="242.8" cy="196.4" r="2.1" fill="#a9a18f"/>
<circle cx="251.0" cy="197.8" r="2.9" fill="#a9a18f"/>
<circle cx="234.2" cy="235.4" r="2.5" fill="#a9a18f"/>
<circle cx="218.2" cy="235.4" r="2.9" fill="#a9a18f"/>
<circle cx="242.4" cy="236.4" r="1.6" fill="#a9a18f"/>
<path d="M188.4,140.0C191.5,139.0 208.3,139.0 212.0,140.0C215.8,141.0 212.0,144.4 211.0,146.2C210.0,147.9 207.4,148.9 205.9,150.3C204.3,151.6 203.5,153.8 201.8,154.4C200.1,154.9 197.0,154.7 195.6,153.3C194.3,152.0 194.8,148.4 193.6,146.2C192.4,143.9 185.4,141.0 188.4,140.0Z" fill="#ff9a0a"/>
<circle cx="200.1" cy="149.6" r="1.8" fill="#ff3a0e"/>
<ellipse cx="230.5" cy="149.8" rx="7.2" ry="3.1" fill="#ff9a0a"/>
<path d="M162.8,160.5C165.9,159.0 168.3,157.1 171.0,157.4C173.8,157.8 176.1,161.4 179.2,162.6C182.3,163.8 186.1,164.3 189.5,164.6C192.9,165.0 196.0,165.3 199.7,164.6C203.5,163.9 209.0,161.7 212.0,160.5C215.1,159.3 216.1,157.4 218.2,157.4C220.2,157.4 222.3,159.0 224.3,160.5C226.4,162.0 229.8,164.6 230.5,166.7C231.2,168.7 230.2,171.3 228.4,172.8C226.7,174.4 223.0,174.9 220.2,175.9C217.5,176.9 214.4,178.1 212.0,179.0C209.6,179.8 208.3,181.2 205.9,181.0C203.5,180.8 200.4,179.1 197.7,177.9C194.9,176.7 192.6,174.5 189.5,173.8C186.4,173.2 182.3,173.5 179.2,173.8C176.1,174.2 173.8,174.9 171.0,175.9C168.3,176.9 166.2,179.8 162.8,180.0C159.4,180.2 153.9,177.4 150.5,176.9C147.1,176.4 145.7,176.7 142.3,176.9C138.9,177.1 132.1,180.0 130.0,177.9C127.9,175.9 127.9,167.0 130.0,164.6C132.1,162.2 138.5,163.2 142.3,163.6C146.1,163.9 149.1,167.2 152.6,166.7C156.0,166.1 159.7,162.0 162.8,160.5Z" fill="#ff9a0a"/>
<path d="M130.0,164.6C133.2,162.7 145.7,164.6 149.5,165.6C153.2,166.7 152.7,169.1 152.6,170.8C152.4,172.5 152.2,174.9 148.5,175.9C144.7,176.9 133.1,178.8 130.0,176.9C126.9,175.0 126.8,166.5 130.0,164.6Z" fill="#ff3a0e"/>
<path d="M180.2,165.6C183.7,164.6 197.8,165.5 201.8,166.7C205.7,167.9 204.2,170.9 203.8,172.8C203.5,174.7 202.1,177.8 199.7,177.9C197.3,178.1 192.6,174.7 189.5,173.8C186.4,173.0 182.8,174.2 181.3,172.8C179.7,171.4 176.8,166.7 180.2,165.6Z" fill="#ff3a0e"/>
<circle cx="165.9" cy="169.7" r="3.1" fill="#ff3a0e"/>
<circle cx="226.0" cy="169.3" r="2.1" fill="#ff3a0e"/>
<circle cx="148.5" cy="149.2" r="2.9" fill="#ff9a0a"/>
<circle cx="148.5" cy="149.2" r="1.2" fill="#ff3a0e"/>
<circle cx="277.3" cy="159.9" r="2.1" fill="#ff9a0a"/>
<circle cx="260.2" cy="159.9" r="2.1" fill="#ff9a0a"/>
<circle cx="260.2" cy="159.9" r="1.0" fill="#ff3a0e"/>
<circle cx="277.3" cy="169.3" r="2.1" fill="#ff9a0a"/>
<path d="M281.8,174.9C282.8,172.8 284.2,170.4 285.9,168.7C287.6,167.0 289.6,165.0 292.0,164.6C294.4,164.3 297.8,165.3 300.2,166.7C302.6,168.0 305.0,170.4 306.4,172.8C307.7,175.2 308.4,178.3 308.4,181.0C308.4,183.8 307.7,186.8 306.4,189.2C305.0,191.6 302.6,194.0 300.2,195.4C297.8,196.7 294.4,197.8 292.0,197.4C289.6,197.1 287.7,194.9 285.9,193.3C284.0,191.8 281.8,190.2 280.7,188.2C279.7,186.1 279.5,183.2 279.7,181.0C279.9,178.8 280.7,176.9 281.8,174.9Z" fill="#ff9a0a"/>
<path d="M282.8,181.0C283.8,179.0 285.7,176.1 287.9,174.9C290.1,173.7 293.4,173.5 296.1,173.8C298.9,174.2 302.6,175.2 304.3,176.9C306.0,178.6 306.7,181.9 306.4,184.1C306.0,186.3 304.3,188.9 302.3,190.2C300.2,191.6 296.8,192.1 294.1,192.3C291.3,192.5 287.9,192.1 285.9,191.3C283.8,190.4 282.3,188.9 281.8,187.2C281.3,185.5 281.8,183.1 282.8,181.0Z" fill="#ff3a0e"/>
<circle cx="296.1" cy="188.2" r="3.7" fill="#ff9a0a"/>
<circle cx="294.1" cy="169.7" r="2.1" fill="#ff3a0e"/>
<circle cx="319.7" cy="188.6" r="2.5" fill="#ff9a0a"/>
<circle cx="311.5" cy="159.9" r="1.6" fill="#ff9a0a"/>
<path d="M345.3,157.4C346.7,156.1 350.8,154.2 353.5,154.4C356.3,154.5 359.7,156.4 361.7,158.5C363.8,160.5 365.5,164.3 365.8,166.7C366.2,169.1 365.2,172.1 363.8,172.8C362.4,173.5 359.7,171.8 357.6,170.8C355.6,169.7 353.5,168.0 351.5,166.7C349.4,165.3 346.4,164.1 345.3,162.6C344.3,161.0 344.0,158.8 345.3,157.4Z" fill="#ff9a0a"/>
<circle cx="354.6" cy="159.9" r="2.5" fill="#ff3a0e"/>
<circle cx="363.2" cy="169.3" r="1.6" fill="#ff3a0e"/>
<path d="M347.4,183.1C348.8,180.7 351.8,177.4 353.5,176.9C355.3,176.4 356.6,178.6 357.6,180.0C358.7,181.4 358.3,183.8 359.7,185.1C361.1,186.5 365.2,186.8 365.8,188.2C366.5,189.6 365.8,192.3 363.8,193.3C361.7,194.3 356.6,194.7 353.5,194.3C350.5,194.0 346.4,193.2 345.3,191.3C344.3,189.4 346.0,185.5 347.4,183.1Z" fill="#ff9a0a"/>
<path d="M374.1,189.2C375.4,186.5 379.0,175.5 380.0,181.0C381.0,186.5 381.3,215.5 380.0,222.0C378.7,228.5 375.0,221.4 372.0,220.0C369.0,218.6 363.8,216.2 361.7,213.8C359.7,211.4 359.0,208.0 359.7,205.6C360.4,203.2 363.8,200.8 365.8,199.5C367.9,198.1 370.6,199.1 372.0,197.4C373.4,195.7 372.7,192.0 374.1,189.2Z" fill="#ff9a0a"/>
<circle cx="370.4" cy="207.3" r="3.7" fill="#ff3a0e"/>
<circle cx="378.2" cy="188.2" r="3.1" fill="#ff3a0e"/>
<path d="M335.1,209.7C337.5,208.7 341.2,207.0 343.3,207.7C345.3,208.4 345.3,211.8 347.4,213.8C349.4,215.9 352.5,218.6 355.6,220.0C358.7,221.4 364.1,220.7 365.8,222.0C367.6,223.4 367.6,226.5 365.8,228.2C364.1,229.9 358.7,231.3 355.6,232.3C352.5,233.3 350.1,234.7 347.4,234.3C344.7,234.0 341.9,231.6 339.2,230.2C336.5,228.9 333.0,227.8 331.0,226.1C328.9,224.4 327.2,222.0 326.9,220.0C326.5,217.9 327.6,215.5 328.9,213.8C330.3,212.1 332.7,210.8 335.1,209.7Z" fill="#ff9a0a"/>
<circle cx="336.7" cy="216.9" r="2.5" fill="#ff3a0e"/>
<path d="M228.4,209.7C228.8,206.0 230.8,201.5 232.5,199.5C234.3,197.4 236.6,197.1 238.7,197.4C240.7,197.8 242.5,200.7 244.8,201.5C247.2,202.4 251.0,203.2 253.1,202.6C255.1,201.9 255.4,198.6 257.2,197.4C258.9,196.2 260.9,194.7 263.3,195.4C265.7,196.1 269.8,199.1 271.5,201.5C273.2,203.9 273.6,207.0 273.6,209.7C273.6,212.5 272.9,215.9 271.5,217.9C270.1,220.0 267.1,220.3 265.4,222.0C263.6,223.7 263.3,226.8 261.3,228.2C259.2,229.6 255.8,229.6 253.1,230.2C250.3,230.9 247.6,232.6 244.8,232.3C242.1,231.9 239.0,229.9 236.6,228.2C234.3,226.5 231.9,225.1 230.5,222.0C229.1,219.0 228.1,213.5 228.4,209.7Z" fill="#ff9a0a"/>
<path d="M231.5,207.7C231.7,205.6 234.8,203.6 236.6,203.6C238.5,203.6 240.7,206.5 242.8,207.7C244.8,208.9 246.6,210.6 248.9,210.8C251.3,210.9 255.1,209.9 257.2,208.7C259.2,207.5 259.2,204.4 261.3,203.6C263.3,202.7 267.6,202.7 269.5,203.6C271.3,204.4 272.5,206.8 272.5,208.7C272.5,210.6 271.3,213.5 269.5,214.9C267.6,216.2 263.3,215.7 261.3,216.9C259.2,218.1 259.2,220.8 257.2,222.0C255.1,223.2 251.7,223.4 248.9,224.1C246.2,224.8 243.3,226.3 240.7,226.1C238.2,226.0 234.4,224.8 233.6,223.1C232.7,221.4 236.0,218.4 235.6,215.9C235.3,213.3 231.3,209.7 231.5,207.7Z" fill="#ff3a0e"/>
<path d="M273.6,209.7C275.3,207.0 279.0,203.2 281.8,201.5C284.5,199.8 287.9,198.4 290.0,199.5C292.0,200.5 292.4,205.3 294.1,207.7C295.8,210.1 298.5,211.4 300.2,213.8C301.9,216.2 304.3,219.3 304.3,222.0C304.3,224.8 300.2,227.5 300.2,230.2C300.2,233.0 302.6,235.8 304.3,238.4C306.0,241.1 317.7,244.8 310.5,246.0C303.3,247.3 269.1,247.6 261.3,246.0C253.4,244.4 261.6,239.0 263.3,236.4C265.0,233.8 270.8,232.3 271.5,230.2C272.2,228.2 267.4,226.1 267.4,224.1C267.4,222.0 270.5,220.3 271.5,217.9C272.5,215.5 271.9,212.5 273.6,209.7Z" fill="#ff9a0a"/>
<circle cx="285.9" cy="206.7" r="2.1" fill="#ff3a0e"/>
<circle cx="310.5" cy="206.7" r="3.7" fill="#ff9a0a"/>
<circle cx="310.5" cy="206.7" r="2.5" fill="#ff3a0e"/>
<path d="M265.4,238.4C267.1,236.8 271.7,235.1 273.6,236.4C275.4,237.7 278.3,244.4 276.6,246.0C274.9,247.6 265.2,247.3 263.3,246.0C261.4,244.8 263.6,240.0 265.4,238.4Z" fill="#ff3a0e"/>
<circle cx="294.1" cy="242.5" r="3.7" fill="#ff3a0e"/>
<ellipse cx="276.6" cy="226.1" rx="4.1" ry="3.1" fill="#ff3a0e"/>
<path d="M320.7,246.0C314.2,244.8 324.5,240.4 326.9,238.4C329.3,236.5 331.7,234.9 335.1,234.3C338.5,233.8 343.6,235.0 347.4,235.4C351.2,235.7 354.9,235.5 357.6,236.4C360.4,237.2 362.4,238.9 363.8,240.5C365.2,242.1 373.0,245.1 365.8,246.0C358.7,247.0 327.2,247.3 320.7,246.0Z" fill="#ff9a0a"/>
<path d="M316.6,246.0C309.9,244.9 318.3,241.1 320.7,239.5C323.1,237.8 326.9,236.7 331.0,236.0C335.1,235.3 341.2,235.1 345.3,235.4C349.4,235.6 353.0,236.2 355.6,237.4C358.2,238.6 359.8,241.1 360.7,242.5C361.7,244.0 368.7,245.4 361.3,246.0C354.0,246.6 323.4,247.1 316.6,246.0Z" fill="#ff3a0e"/>
<circle cx="228.4" cy="242.5" r="2.1" fill="#ff9a0a"/>
<circle cx="236.6" cy="242.5" r="2.1" fill="#ff9a0a"/>
<circle cx="253.1" cy="241.5" r="2.1" fill="#ff9a0a"/>
<circle cx="260.2" cy="235.4" r="1.6" fill="#ff3a0e"/>
<circle cx="252.0" cy="188.6" r="2.5" fill="#ff9a0a"/></g>
<clipPath id="cat2"><rect x="0" y="243" width="365" height="100"/></clipPath>
<g clip-path="url(#cat2)"><rect x="0" y="243" width="365" height="100" fill="#ffff1e"/>
<path d="M174.1,287.2C175.1,284.9 177.7,280.5 180.2,279.0C182.8,277.4 186.9,277.1 189.5,277.9C192.0,278.8 193.4,282.7 195.6,284.1C197.8,285.5 201.6,284.4 202.8,286.1C204.0,287.9 204.0,292.3 202.8,294.3C201.6,296.4 198.5,297.6 195.6,298.4C192.7,299.3 188.3,299.8 185.4,299.5C182.5,299.1 180.1,297.6 178.2,296.4C176.3,295.2 174.8,293.8 174.1,292.3C173.4,290.8 173.1,289.4 174.1,287.2Z" fill="#a9a18f"/>
<circle cx="174.7" cy="288.8" r="1.0" fill="#1f5fe0"/>
<circle cx="191.9" cy="271.2" r="3.7" fill="#a9a18f"/>
<circle cx="165.9" cy="271.2" r="2.1" fill="#a9a18f"/>
<circle cx="174.1" cy="270.8" r="1.6" fill="#a9a18f"/>
<circle cx="200.1" cy="270.8" r="1.6" fill="#a9a18f"/>
<circle cx="165.9" cy="279.4" r="2.9" fill="#a9a18f"/>
<circle cx="156.7" cy="298.4" r="2.5" fill="#a9a18f"/>
<circle cx="234.6" cy="243.1" r="3.1" fill="#a9a18f"/>
<circle cx="318.7" cy="242.1" r="3.7" fill="#a9a18f"/>
<circle cx="147.4" cy="280.0" r="2.5" fill="#1f5fe0"/>
<circle cx="157.3" cy="279.4" r="2.5" fill="#ff9a0a"/>
<circle cx="157.3" cy="279.4" r="1.4" fill="#ff3a0e"/>
<ellipse cx="182.9" cy="269.7" rx="2.1" ry="3.3" fill="#ff9a0a"/>
<circle cx="174.1" cy="279.4" r="2.1" fill="#ff9a0a"/>
<circle cx="165.9" cy="288.8" r="2.1" fill="#ff9a0a"/>
<path d="M204.9,264.6C205.7,262.0 207.4,260.2 210.0,259.5C212.5,258.8 217.3,261.0 220.2,260.5C223.1,260.0 225.4,257.9 227.4,256.4C229.5,254.9 230.3,252.6 232.5,251.3C234.8,249.9 238.0,249.4 240.7,248.2C243.5,247.0 246.2,245.5 248.9,244.1C251.7,242.7 248.6,240.7 257.2,240.0C265.7,239.3 292.7,238.6 300.2,240.0C307.7,241.4 301.2,244.8 302.3,248.2C303.3,251.6 305.3,256.4 306.4,260.5C307.4,264.6 307.7,269.4 308.4,272.8C309.1,276.2 310.8,278.3 310.5,281.0C310.1,283.8 309.1,287.2 306.4,289.2C303.6,291.3 298.9,292.1 294.1,293.3C289.3,294.5 283.1,295.4 277.7,296.4C272.2,297.4 266.7,297.9 261.3,299.5C255.8,301.0 249.6,303.6 244.8,305.6C240.1,307.7 236.0,310.8 232.5,311.8C229.1,312.8 226.7,313.5 224.3,311.8C221.9,310.1 220.2,304.6 218.2,301.5C216.1,298.4 213.7,296.1 212.0,293.3C210.3,290.6 209.1,288.2 207.9,285.1C206.7,282.0 205.4,278.3 204.9,274.9C204.3,271.4 204.0,267.2 204.9,264.6Z" fill="#ff9a0a"/>
<path d="M232.5,268.7C233.9,267.7 238.7,266.1 240.7,266.7C242.8,267.2 245.2,270.6 244.8,271.8C244.5,273.0 240.7,273.7 238.7,273.8C236.6,274.0 233.6,273.7 232.5,272.8C231.5,272.0 231.2,269.7 232.5,268.7Z" fill="#ffff1e"/>
<path d="M248.9,277.9C250.3,276.7 258.7,275.4 261.3,275.9C263.8,276.4 265.7,279.8 264.3,281.0C263.0,282.2 255.6,283.6 253.1,283.1C250.5,282.6 247.6,279.1 248.9,277.9Z" fill="#ffff1e"/>
<circle cx="258.2" cy="271.8" r="2.9" fill="#ffff1e"/>
<ellipse cx="285.9" cy="273.8" rx="3.1" ry="6.2" fill="#ffff1e"/>
<circle cx="294.1" cy="270.8" r="1.6" fill="#ffff1e"/>
<circle cx="277.7" cy="288.2" r="2.9" fill="#ffff1e"/>
<path d="M226.4,297.4C227.8,296.4 237.7,295.0 240.7,295.4C243.8,295.7 246.2,298.4 244.8,299.5C243.5,300.5 235.6,301.9 232.5,301.5C229.5,301.2 225.0,298.4 226.4,297.4Z" fill="#ffff1e"/>
<circle cx="251.0" cy="253.3" r="4.1" fill="#ffff1e"/>
<circle cx="252.0" cy="253.3" r="2.3" fill="#a9a18f"/>
<path d="M182.3,309.7C183.0,307.0 185.5,304.6 189.5,303.6C193.4,302.6 202.6,302.6 205.9,303.6C209.1,304.6 208.6,306.7 209.0,309.7C209.3,312.8 210.8,319.6 207.9,322.0C205.0,324.4 195.3,324.4 191.5,324.1C187.8,323.7 186.9,322.4 185.4,320.0C183.8,317.6 181.6,312.5 182.3,309.7Z" fill="#ff9a0a"/>
<circle cx="200.1" cy="306.0" r="2.9" fill="#ff3a0e"/>
<path d="M228.4,316.3C228.8,314.6 234.6,311.8 238.7,309.7C242.8,307.6 247.9,305.5 253.1,303.6C258.2,301.7 264.0,299.9 269.5,298.4C274.9,297.0 281.8,295.1 285.9,295.0C290.0,294.8 293.0,295.6 294.1,297.4C295.1,299.2 292.0,303.2 292.0,305.6C292.0,308.0 291.7,310.4 294.1,311.8C296.5,313.1 303.0,313.8 306.4,313.8C309.8,313.8 311.8,311.3 314.6,311.8C317.3,312.3 320.7,314.5 322.8,316.9C324.8,319.3 327.1,323.2 326.9,326.1C326.7,329.0 324.1,332.5 321.8,334.3C319.4,336.2 314.7,338.1 312.5,337.4C310.3,336.7 310.1,331.8 308.4,330.2C306.7,328.7 304.7,328.2 302.3,328.2C299.9,328.2 296.8,330.6 294.1,330.2C291.3,329.9 288.6,326.1 285.9,326.1C283.1,326.1 278.3,328.5 277.7,330.2C277.0,331.9 279.7,334.7 281.8,336.4C283.8,338.1 287.9,338.9 290.0,340.5C292.0,342.1 297.1,345.1 294.1,346.0C291.0,347.0 275.3,347.3 271.5,346.0C267.7,344.8 272.9,340.6 271.5,338.4C270.1,336.3 266.4,334.0 263.3,333.3C260.2,332.6 255.8,335.2 253.1,334.3C250.3,333.5 247.6,330.2 246.9,328.2C246.2,326.1 249.3,323.7 248.9,322.0C248.6,320.3 246.9,318.3 244.8,317.9C242.8,317.6 239.4,320.3 236.6,320.0C233.9,319.7 228.1,318.0 228.4,316.3Z" fill="#ff9a0a"/>
<path d="M212.0,322.0C213.2,320.2 217.8,319.0 220.2,319.0C222.6,319.0 224.7,320.5 226.4,322.0C228.1,323.6 229.5,326.1 230.5,328.2C231.5,330.2 232.9,332.1 232.5,334.3C232.2,336.6 230.5,340.2 228.4,341.5C226.4,342.9 222.3,343.4 220.2,342.5C218.2,341.7 217.3,338.4 216.1,336.4C214.9,334.3 213.7,332.6 213.1,330.2C212.4,327.8 210.8,323.9 212.0,322.0Z" fill="#ff9a0a"/>
<path d="M300.2,240.0C311.2,238.3 356.3,237.9 367.9,240.0C379.5,242.1 369.3,247.9 370.0,252.3C370.6,256.7 371.0,262.2 372.0,266.7C373.0,271.1 375.8,275.5 376.1,279.0C376.4,282.4 373.4,285.1 374.1,287.2C374.7,289.2 379.0,288.9 380.0,291.3C381.0,293.7 381.7,299.5 380.0,301.5C378.3,303.6 373.3,303.6 370.0,303.6C366.6,303.6 362.1,303.2 359.7,301.5C357.3,299.8 357.0,296.1 355.6,293.3C354.2,290.6 353.5,286.7 351.5,285.1C349.4,283.6 346.0,284.3 343.3,284.1C340.6,283.9 337.8,284.6 335.1,284.1C332.4,283.6 330.3,281.9 326.9,281.0C323.5,280.2 317.7,280.7 314.6,279.0C311.5,277.3 310.1,273.8 308.4,270.8C306.7,267.7 305.3,263.9 304.3,260.5C303.3,257.1 303.0,253.7 302.3,250.3C301.6,246.8 289.3,241.7 300.2,240.0Z" fill="#ff9a0a"/>
<path d="M314.6,265.6C315.9,264.9 319.4,264.3 322.8,264.2C326.2,264.1 331.0,265.0 335.1,265.0C339.2,265.0 344.1,264.1 347.4,264.2C350.6,264.3 353.5,264.7 354.6,265.6C355.6,266.6 355.4,268.9 353.5,269.7C351.7,270.6 346.4,270.9 343.3,270.8C340.2,270.6 338.5,269.1 335.1,268.7C331.7,268.4 326.2,268.7 322.8,268.7C319.4,268.7 315.9,269.2 314.6,268.7C313.2,268.2 313.2,266.4 314.6,265.6Z" fill="#ffff1e"/>
<path d="M337.1,276.9C338.5,276.1 344.3,275.2 347.4,275.9C350.5,276.6 354.6,279.1 355.6,281.0C356.6,282.9 355.3,286.7 353.5,287.2C351.8,287.7 347.7,285.1 345.3,284.1C342.9,283.1 340.6,282.2 339.2,281.0C337.8,279.8 335.8,277.8 337.1,276.9Z" fill="#ffff1e"/>
<circle cx="353.5" cy="289.2" r="2.5" fill="#ffff1e"/>
<path d="M330.0,291.3C331.5,289.9 335.3,290.1 337.1,291.3C339.0,292.5 339.9,296.4 341.2,298.4C342.6,300.5 344.0,301.9 345.3,303.6C346.7,305.3 348.6,306.3 349.4,308.7C350.3,311.1 349.8,315.4 350.5,317.9C351.2,320.5 352.7,322.0 353.5,324.1C354.4,326.1 356.6,328.5 355.6,330.2C354.6,331.9 350.5,333.3 347.4,334.3C344.3,335.4 339.7,337.1 337.1,336.4C334.6,335.7 333.2,332.6 332.0,330.2C330.8,327.8 329.8,324.8 330.0,322.0C330.1,319.3 332.7,316.6 333.0,313.8C333.4,311.1 332.9,308.0 332.0,305.6C331.2,303.2 328.2,301.9 327.9,299.5C327.6,297.1 328.4,292.6 330.0,291.3Z" fill="#ff9a0a"/>
<ellipse cx="339.2" cy="306.0" rx="5.1" ry="3.1" fill="#ff3a0e"/>
<path d="M333.0,320.0C334.1,318.3 339.2,317.2 341.2,317.9C343.3,318.6 345.3,322.0 345.3,324.1C345.3,326.1 342.9,329.6 341.2,330.2C339.5,330.9 336.5,329.9 335.1,328.2C333.7,326.5 332.0,321.7 333.0,320.0Z" fill="#ff9a0a"/>
<circle cx="337.1" cy="323.1" r="2.1" fill="#ff3a0e"/>
<path d="M306.4,330.2C308.8,328.2 311.2,327.2 314.6,326.1C318.0,325.1 323.5,323.4 326.9,324.1C330.3,324.8 332.7,328.2 335.1,330.2C337.5,332.3 339.9,333.8 341.2,336.4C342.6,339.0 350.5,344.4 343.3,346.0C336.1,347.6 305.3,347.3 298.2,346.0C291.0,344.8 298.9,341.1 300.2,338.4C301.6,335.8 304.0,332.3 306.4,330.2Z" fill="#ff9a0a"/>
<path d="M308.4,346.0C304.7,344.4 312.2,338.7 314.6,336.4C317.0,334.1 320.7,333.7 322.8,332.3C324.8,330.9 325.3,328.2 326.9,328.2C328.4,328.2 331.0,330.6 332.0,332.3C333.0,334.0 331.8,336.7 333.0,338.4C334.2,340.2 338.5,341.3 339.2,342.5C339.9,343.8 342.3,345.4 337.1,346.0C332.0,346.6 312.2,347.6 308.4,346.0Z" fill="#ff3a0e"/>
<path d="M206.9,272.8C207.6,270.6 209.8,268.4 212.0,267.7C214.3,267.0 217.8,267.7 220.2,268.7C222.6,269.7 224.3,272.3 226.4,273.8C228.4,275.4 230.2,276.2 232.5,277.9C234.9,279.6 238.4,282.7 240.7,284.1C243.1,285.5 245.9,284.9 246.9,286.1C247.9,287.3 248.3,290.2 246.9,291.3C245.5,292.3 241.4,292.5 238.7,292.3C236.0,292.1 232.9,291.1 230.5,290.2C228.1,289.4 225.7,286.3 224.3,287.2C223.0,288.0 223.0,293.0 222.3,295.4C221.6,297.8 221.4,300.8 220.2,301.5C219.0,302.2 216.3,301.5 215.1,299.5C213.9,297.4 214.3,292.3 213.1,289.2C211.9,286.1 209.0,283.8 207.9,281.0C206.9,278.3 206.2,275.0 206.9,272.8Z" fill="#ff3a0e"/>
<path d="M233.6,253.3C234.8,252.0 239.2,249.6 241.8,250.3C244.3,250.9 246.7,256.4 248.9,257.4C251.2,258.5 253.4,257.6 255.1,256.4C256.8,255.2 257.8,252.3 259.2,250.3C260.6,248.2 261.3,245.8 263.3,244.1C265.4,242.4 269.8,239.3 271.5,240.0C273.2,240.7 272.7,245.6 273.6,248.2C274.4,250.8 274.6,254.0 276.6,255.4C278.7,256.7 283.0,256.6 285.9,256.4C288.8,256.2 293.0,253.3 294.1,254.4C295.1,255.4 293.7,260.5 292.0,262.6C290.3,264.6 285.7,264.6 283.8,266.7C281.9,268.7 281.8,272.6 280.7,274.9C279.7,277.1 279.2,279.5 277.7,280.0C276.1,280.5 273.2,279.1 271.5,277.9C269.8,276.7 269.1,274.5 267.4,272.8C265.7,271.1 263.6,268.4 261.3,267.7C258.9,267.0 255.1,267.7 253.1,268.7C251.0,269.7 250.7,273.8 248.9,273.8C247.2,273.8 244.2,270.8 242.8,268.7C241.4,266.7 242.1,263.2 240.7,261.5C239.4,259.8 235.8,259.8 234.6,258.5C233.4,257.1 232.4,254.7 233.6,253.3Z" fill="#ff3a0e"/>
<path d="M287.9,246.2C288.8,244.3 292.0,241.0 294.1,240.0C296.1,239.0 299.0,238.6 300.2,240.0C301.4,241.4 302.3,246.2 301.2,248.2C300.2,250.3 296.1,251.8 294.1,252.3C292.0,252.8 290.0,252.3 288.9,251.3C287.9,250.3 287.1,248.0 287.9,246.2Z" fill="#ff3a0e"/>
<path d="M290.0,286.1C291.8,284.8 297.1,282.6 300.2,282.0C303.3,281.5 307.4,281.9 308.4,283.1C309.5,284.3 308.8,287.7 306.4,289.2C304.0,290.8 297.0,292.1 294.1,292.3C291.2,292.5 289.6,291.3 288.9,290.2C288.3,289.2 288.1,287.5 290.0,286.1Z" fill="#ff3a0e"/>
<path d="M248.9,313.8C250.0,312.8 253.1,311.3 257.2,310.8C261.3,310.2 269.5,310.2 273.6,310.8C277.7,311.3 279.7,312.3 281.8,313.8C283.8,315.4 283.8,318.6 285.9,320.0C287.9,321.4 292.4,321.0 294.1,322.0C295.8,323.1 297.1,325.3 296.1,326.1C295.1,327.0 290.3,326.5 287.9,327.2C285.5,327.8 283.5,329.0 281.8,330.2C280.1,331.4 279.0,334.3 277.7,334.3C276.3,334.3 274.2,332.3 273.6,330.2C272.9,328.2 274.2,324.1 273.6,322.0C272.9,320.0 272.2,318.6 269.5,317.9C266.7,317.2 260.2,318.1 257.2,317.9C254.1,317.8 252.4,317.6 251.0,316.9C249.6,316.2 247.9,314.9 248.9,313.8Z" fill="#ff3a0e"/>
<path d="M310.5,240.0C319.4,238.6 351.3,237.9 359.7,240.0C368.1,242.1 361.4,248.9 360.7,252.3C360.0,255.7 358.5,258.8 355.6,260.5C352.7,262.2 347.4,262.4 343.3,262.6C339.2,262.7 334.7,261.4 331.0,261.5C327.2,261.7 323.8,263.1 320.7,263.6C317.7,264.1 314.7,265.3 312.5,264.6C310.3,263.9 308.4,262.2 307.4,259.5C306.4,256.7 305.9,251.5 306.4,248.2C306.9,245.0 301.6,241.4 310.5,240.0Z" fill="#ff3a0e"/>
<path d="M308.4,268.7C309.5,267.5 312.9,266.0 314.6,266.7C316.3,267.3 317.3,271.1 318.7,272.8C320.0,274.5 322.8,275.7 322.8,276.9C322.8,278.1 320.4,279.8 318.7,280.0C317.0,280.2 314.2,279.0 312.5,277.9C310.8,276.9 309.1,275.4 308.4,273.8C307.7,272.3 307.4,269.9 308.4,268.7Z" fill="#ff3a0e"/>
<path d="M324.8,268.7C326.9,267.7 336.5,267.0 339.2,267.7C341.9,268.4 343.3,271.8 341.2,272.8C339.2,273.8 329.6,274.5 326.9,273.8C324.1,273.2 322.8,269.7 324.8,268.7Z" fill="#ff3a0e"/>
<path d="M358.7,270.8C359.0,268.5 361.2,266.3 362.8,266.7C364.3,267.0 366.2,271.1 367.9,272.8C369.6,274.5 372.2,275.2 373.0,276.9C373.9,278.6 374.2,281.9 373.0,283.1C371.8,284.3 367.9,284.6 365.8,284.1C363.8,283.6 361.9,282.2 360.7,280.0C359.5,277.8 358.3,273.0 358.7,270.8Z" fill="#ff3a0e"/>
<path d="M359.7,295.4C360.4,294.2 363.8,293.2 365.8,293.3C367.9,293.5 371.7,295.2 372.0,296.4C372.3,297.6 369.6,299.8 367.9,300.5C366.2,301.2 363.1,301.4 361.7,300.5C360.4,299.6 359.0,296.6 359.7,295.4Z" fill="#ff3a0e"/>
<circle cx="345.3" cy="289.2" r="2.9" fill="#ff3a0e"/>
<circle cx="209.0" cy="262.1" r="1.6" fill="#ff3a0e"/>
<circle cx="217.2" cy="323.1" r="2.5" fill="#ff3a0e"/>
<circle cx="225.4" cy="339.9" r="2.1" fill="#ff3a0e"/>
<circle cx="252.0" cy="244.1" r="1.6" fill="#ff3a0e"/>
<circle cx="226.0" cy="244.1" r="2.1" fill="#ff9a0a"/>
<path d="M368.9,252.3C369.3,248.5 370.2,245.8 372.0,244.1C373.8,242.4 378.7,236.6 380.0,242.1C381.3,247.5 381.0,271.4 380.0,276.9C379.0,282.4 375.7,276.6 374.1,274.9C372.4,273.2 370.8,270.4 370.0,266.7C369.1,262.9 368.6,256.1 368.9,252.3Z" fill="#a9a18f"/>
<circle cx="371.6" cy="253.3" r="1.0" fill="#1f5fe0"/>
<path d="M353.5,313.8C353.5,312.0 355.3,309.0 357.6,307.7C360.0,306.3 364.8,306.7 367.9,305.6C371.0,304.6 374.1,302.2 376.1,301.5C378.1,300.8 379.4,298.8 380.0,301.5C380.6,304.3 382.0,314.9 380.0,317.9C378.0,321.0 371.6,319.8 367.9,320.0C364.2,320.2 360.0,320.0 357.6,319.0C355.3,317.9 353.5,315.7 353.5,313.8Z" fill="#a9a18f"/>
<path d="M359.7,314.9C360.4,313.4 363.1,311.1 365.8,309.7C368.6,308.4 373.7,307.3 376.1,306.7C378.5,306.0 379.4,304.1 380.0,305.6C380.6,307.2 381.7,313.8 380.0,315.9C378.3,317.9 373.0,317.5 370.0,317.9C366.9,318.3 363.5,318.9 361.7,318.3C360.0,317.8 359.0,316.3 359.7,314.9Z" fill="#1f5fe0"/>
<path d="M231.5,342.5C232.4,341.3 234.4,339.5 236.6,338.4C238.9,337.4 243.8,335.7 244.8,336.4C245.9,337.1 243.8,340.9 242.8,342.5C241.8,344.1 240.6,345.4 238.7,346.0C236.8,346.6 232.7,346.6 231.5,346.0C230.3,345.4 230.7,343.8 231.5,342.5Z" fill="#a9a18f"/>
<circle cx="241.8" cy="340.5" r="2.5" fill="#1f5fe0"/>
<circle cx="257.2" cy="332.3" r="2.5" fill="#a9a18f"/>
<circle cx="276.6" cy="340.9" r="4.5" fill="#a9a18f"/>
<circle cx="276.6" cy="340.9" r="3.1" fill="#1f5fe0"/>
<circle cx="319.7" cy="305.6" r="6.2" fill="#ffff1e"/>
<circle cx="319.7" cy="305.6" r="4.5" fill="#a9a18f"/>
<circle cx="319.7" cy="305.6" r="2.9" fill="#1f5fe0"/>
<circle cx="294.1" cy="306.0" r="2.5" fill="#a9a18f"/>
<circle cx="303.3" cy="323.1" r="2.5" fill="#a9a18f"/>
<circle cx="345.3" cy="270.8" r="2.1" fill="#a9a18f"/>
<circle cx="337.5" cy="331.3" r="2.1" fill="#a9a18f"/>
<circle cx="209.0" cy="332.3" r="2.1" fill="#a9a18f"/>
<circle cx="242.4" cy="331.3" r="1.6" fill="#a9a18f"/>
<path d="M285.9,301.5C286.5,300.2 291.0,300.2 294.1,299.5C297.1,298.8 301.9,298.8 304.3,297.4C306.7,296.1 306.7,292.6 308.4,291.3C310.1,289.9 312.5,288.9 314.6,289.2C316.6,289.6 318.7,291.6 320.7,293.3C322.8,295.0 324.8,298.1 326.9,299.5C328.9,300.8 332.4,299.8 333.0,301.5C333.7,303.2 332.7,307.7 331.0,309.7C329.3,311.8 325.5,313.7 322.8,313.8C320.0,314.0 317.3,310.9 314.6,310.8C311.8,310.6 309.5,312.6 306.4,312.8C303.3,313.0 298.9,312.6 296.1,311.8C293.4,310.9 291.7,309.4 290.0,307.7C288.3,306.0 285.2,302.9 285.9,301.5Z" fill="#ffff1e"/>
<circle cx="294.1" cy="306.0" r="2.5" fill="#a9a18f"/>
<circle cx="319.7" cy="305.6" r="6.2" fill="#ffff1e"/>
<circle cx="319.7" cy="305.6" r="4.5" fill="#a9a18f"/>
<circle cx="319.7" cy="305.6" r="2.9" fill="#1f5fe0"/></g>
<clipPath id="cat3"><rect x="0" y="343" width="380" height="83"/></clipPath>
<g clip-path="url(#cat3)"><rect x="0" y="343" width="380" height="83" fill="#ffff1e"/>
<path d="M218.2,346.7C218.9,344.8 224.0,342.6 226.4,342.6C228.8,342.6 232.2,345.0 232.5,346.7C232.9,348.4 230.2,351.6 228.4,352.8C226.7,354.0 224.0,354.9 222.3,353.8C220.6,352.8 217.5,348.5 218.2,346.7Z" fill="#ff9a0a"/>
<circle cx="218.8" cy="346.7" r="2.1" fill="#ff3a0e"/>
<circle cx="233.6" cy="346.7" r="2.5" fill="#a9a18f"/>
<circle cx="237.1" cy="345.0" r="1.8" fill="#1f5fe0"/>
<path d="M285.9,344.6C286.9,341.2 290.7,338.1 294.1,336.4C297.5,334.7 303.0,335.0 306.4,334.4C309.8,333.7 311.8,333.3 314.6,332.3C317.3,331.3 319.4,328.5 322.8,328.2C326.2,327.9 331.3,328.5 335.1,330.3C338.8,332.0 344.7,335.7 345.3,338.5C346.0,341.2 341.6,344.3 339.2,346.7C336.8,349.1 334.1,351.3 331.0,352.8C327.9,354.4 324.1,354.9 320.7,355.9C317.3,356.9 313.9,358.1 310.5,359.0C307.1,359.8 303.3,360.5 300.2,361.0C297.1,361.5 294.1,362.7 292.0,362.0C290.0,361.4 288.9,359.8 287.9,356.9C286.9,354.0 284.8,348.0 285.9,344.6Z" fill="#ff9a0a"/>
<path d="M290.0,346.7C291.3,344.6 295.4,343.8 298.2,342.6C300.9,341.4 303.6,339.5 306.4,339.5C309.1,339.5 311.8,343.1 314.6,342.6C317.3,342.0 320.7,338.5 322.8,336.4C324.8,334.4 324.8,330.6 326.9,330.3C328.9,329.9 332.7,332.6 335.1,334.4C337.5,336.1 341.2,338.1 341.2,340.5C341.2,342.9 337.5,346.7 335.1,348.7C332.7,350.8 329.6,352.5 326.9,352.8C324.1,353.2 321.4,351.4 318.7,350.8C315.9,350.1 312.9,348.7 310.5,348.7C308.1,348.7 306.0,349.4 304.3,350.8C302.6,352.1 301.9,355.4 300.2,356.9C298.5,358.5 295.8,360.3 294.1,360.0C292.4,359.6 290.7,357.1 290.0,354.9C289.3,352.6 288.6,348.7 290.0,346.7Z" fill="#ff3a0e"/>
<circle cx="276.6" cy="340.5" r="4.5" fill="#a9a18f"/>
<circle cx="276.6" cy="340.5" r="3.1" fill="#1f5fe0"/>
<circle cx="277.7" cy="349.1" r="2.7" fill="#ff9a0a"/>
<circle cx="278.7" cy="360.0" r="5.3" fill="#a9a18f"/>
<circle cx="277.3" cy="357.5" r="3.3" fill="#1f5fe0"/>
<circle cx="283.4" cy="365.5" r="4.1" fill="#a9a18f"/>
<path d="M280.7,364.1C282.4,362.8 287.4,362.1 288.3,362.7C289.2,363.2 288.0,366.3 286.3,367.6C284.6,368.9 279.0,371.0 278.1,370.5C277.1,369.9 279.0,365.4 280.7,364.1Z" fill="#1f5fe0"/>
<circle cx="268.8" cy="365.1" r="3.7" fill="#ff9a0a"/>
<circle cx="268.8" cy="365.1" r="2.3" fill="#ff3a0e"/>
<circle cx="303.9" cy="357.5" r="2.5" fill="#a9a18f"/></g>
<clipPath id="cat4"><rect x="358" y="0" width="242" height="135"/></clipPath>
<g clip-path="url(#cat4)"><rect x="358" y="0" width="242" height="135" fill="#a9a18f"/>
<path d="M356.2,75.9C358.2,74.1 365.2,75.4 368.5,76.9C371.7,78.5 373.6,82.2 375.6,85.1C377.7,88.0 379.4,91.4 380.8,94.3C382.1,97.3 382.3,100.0 383.8,102.6C385.4,105.1 388.5,107.3 390.0,109.7C391.5,112.1 392.7,115.2 392.7,116.9C392.7,118.6 391.2,120.3 390.0,120.0C388.8,119.6 386.3,116.7 385.3,114.9C384.2,113.0 384.8,109.7 383.8,108.7C382.9,107.7 380.8,107.7 379.7,108.7C378.7,109.7 379.1,113.1 377.7,114.9C376.3,116.6 374.1,118.4 371.5,119.0C369.0,119.5 364.0,119.8 362.3,117.9C360.6,116.1 361.6,112.5 361.3,107.7C360.9,102.9 361.1,92.6 360.3,89.2C359.4,85.9 356.8,89.8 356.2,87.6C355.5,85.4 354.1,77.7 356.2,75.9Z" fill="#1f5fe0"/>
<circle cx="370.5" cy="89.8" r="3.7" fill="#a9a18f"/>
<path d="M369.5,130.2C370.5,128.7 372.4,127.0 374.6,126.1C376.8,125.3 381.3,124.4 382.8,125.1C384.4,125.8 384.5,128.7 383.8,130.2C383.2,131.8 380.1,132.6 378.7,134.3C377.3,136.0 377.2,139.3 375.6,140.5C374.1,141.7 370.7,142.4 369.5,141.5C368.3,140.7 368.5,137.2 368.5,135.4C368.5,133.5 368.5,131.8 369.5,130.2Z" fill="#1f5fe0"/>
<circle cx="413.6" cy="141.5" r="2.9" fill="#1f5fe0"/>
<ellipse cx="369.5" cy="120.6" rx="6.2" ry="3.1" fill="#ffff1e"/>
<circle cx="371.1" cy="120.6" r="1.4" fill="#ff9a0a"/>
<circle cx="362.7" cy="110.8" r="2.5" fill="#ffff1e"/>
<circle cx="389.0" cy="130.2" r="3.5" fill="#ffff1e"/>
<circle cx="389.0" cy="140.1" r="1.6" fill="#ffff1e"/>
<circle cx="405.4" cy="140.1" r="2.1" fill="#ffff1e"/>
<circle cx="422.8" cy="140.5" r="2.9" fill="#ffff1e"/></g>
<clipPath id="cat5"><rect x="365" y="135" width="235" height="98"/></clipPath>
<g clip-path="url(#cat5)"><rect x="365" y="135" width="235" height="98" fill="#ffff1e"/>
<path d="M362.3,134.1C375.6,131.0 427.9,132.4 442.3,134.1C456.6,135.8 448.8,140.9 448.4,144.4C448.1,147.8 443.0,152.4 440.2,154.6C437.5,156.8 435.5,157.3 432.0,157.7C428.6,158.0 423.1,156.1 419.7,156.7C416.3,157.2 414.6,159.9 411.5,160.8C408.4,161.6 404.7,162.1 401.3,161.8C397.9,161.4 393.8,158.9 391.0,158.7C388.3,158.5 386.9,159.4 384.9,160.8C382.8,162.1 380.4,164.9 378.7,166.9C377.0,169.0 375.3,171.0 374.6,173.1C373.9,175.1 375.6,177.9 374.6,179.2C373.6,180.6 370.5,181.3 368.5,181.3C366.4,181.3 363.7,180.9 362.3,179.2C360.9,177.5 359.6,173.4 360.3,171.0C360.9,168.6 365.0,167.3 366.4,164.9C367.8,162.5 369.1,158.7 368.5,156.7C367.8,154.6 363.3,156.3 362.3,152.6C361.3,148.8 349.0,137.2 362.3,134.1Z" fill="#a9a18f"/>
<circle cx="371.1" cy="178.6" r="1.0" fill="#1f5fe0"/>
<path d="M369.5,134.1C372.0,133.4 381.6,133.4 383.8,134.1C386.1,134.8 383.8,137.3 382.8,138.2C381.8,139.1 378.9,138.4 377.7,139.2C376.5,140.1 376.8,142.8 375.6,143.3C374.4,143.8 371.7,143.2 370.5,142.3C369.3,141.5 368.6,139.6 368.5,138.2C368.3,136.8 366.9,134.8 369.5,134.1Z" fill="#1f5fe0"/>
<ellipse cx="414.2" cy="144.4" rx="3.1" ry="7.2" fill="#1f5fe0"/>
<ellipse cx="439.6" cy="145.4" rx="2.9" ry="6.2" fill="#1f5fe0"/>
<circle cx="388.6" cy="149.9" r="2.1" fill="#1f5fe0"/>
<circle cx="362.7" cy="149.9" r="1.2" fill="#1f5fe0"/>
<circle cx="389.0" cy="131.6" r="2.9" fill="#ffff1e"/>
<circle cx="389.0" cy="139.8" r="1.6" fill="#ffff1e"/>
<circle cx="405.4" cy="139.8" r="2.1" fill="#ffff1e"/>
<circle cx="422.8" cy="140.3" r="2.9" fill="#ffff1e"/>
<circle cx="371.1" cy="149.9" r="2.9" fill="#ffff1e"/>
<circle cx="371.1" cy="149.9" r="1.6" fill="#ff9a0a"/>
<circle cx="354.1" cy="140.3" r="2.9" fill="#ffff1e"/>
<path d="M446.4,181.3C446.4,178.7 448.8,175.5 450.5,173.1C452.2,170.7 454.3,168.3 456.6,166.9C459.0,165.5 462.1,164.7 464.8,164.9C467.6,165.0 471.3,166.1 473.1,167.9C474.8,169.8 473.7,174.3 475.1,176.1C476.5,178.0 474.8,178.9 481.3,179.2C487.7,179.6 507.6,179.0 514.1,178.2C520.6,177.3 516.8,175.5 520.2,174.1C523.6,172.7 528.8,171.4 534.6,170.0C540.4,168.6 549.1,167.1 555.1,165.9C561.1,164.7 569.1,160.8 570.5,162.8C571.8,164.9 565.9,174.4 563.3,178.2C560.7,182.0 557.5,183.2 555.1,185.4C552.7,187.6 551.0,190.2 548.9,191.5C546.9,192.9 545.2,192.9 542.8,193.6C540.4,194.3 537.3,195.6 534.6,195.6C531.8,195.6 528.8,193.6 526.4,193.6C524.0,193.6 521.9,194.6 520.2,195.6C518.5,196.7 517.8,199.4 516.1,199.7C514.4,200.1 512.4,197.7 510.0,197.7C507.6,197.7 504.5,199.0 501.8,199.7C499.0,200.4 496.3,201.8 493.6,201.8C490.8,201.8 487.7,200.8 485.4,199.7C483.0,198.7 480.9,197.3 479.2,195.6C477.5,193.9 477.2,190.8 475.1,189.5C473.1,188.1 469.6,187.4 466.9,187.4C464.2,187.4 461.4,189.3 458.7,189.5C456.0,189.6 452.5,189.8 450.5,188.4C448.4,187.1 446.4,183.8 446.4,181.3Z" fill="#a9a18f"/>
<circle cx="456.6" cy="178.6" r="4.5" fill="#1f5fe0"/>
<circle cx="465.5" cy="170.0" r="2.5" fill="#1f5fe0"/>
<path d="M535.6,171.0C537.1,169.1 542.6,167.9 546.9,166.9C551.2,166.0 559.2,164.8 561.2,165.3C563.3,165.8 560.6,168.7 559.2,170.0C557.8,171.3 555.1,172.2 553.0,173.1C551.0,173.9 548.2,173.6 546.9,175.1C545.5,176.7 546.0,180.9 544.8,182.3C543.6,183.7 540.9,184.4 539.7,183.7C538.5,183.0 538.3,180.3 537.7,178.2C537.0,176.1 534.1,172.9 535.6,171.0Z" fill="#1f5fe0"/>
<circle cx="526.0" cy="178.6" r="2.1" fill="#1f5fe0"/>
<circle cx="507.9" cy="179.8" r="2.5" fill="#1f5fe0"/>
<circle cx="499.3" cy="197.7" r="1.2" fill="#1f5fe0"/>
<circle cx="499.7" cy="188.4" r="3.7" fill="#ffff1e"/>
<circle cx="517.1" cy="178.6" r="2.5" fill="#ffff1e"/>
<circle cx="551.0" cy="179.2" r="1.4" fill="#ffff1e"/>
<circle cx="525.3" cy="188.4" r="4.9" fill="#ffff1e"/>
<circle cx="525.3" cy="188.4" r="3.5" fill="#ff9a0a"/>
<circle cx="525.3" cy="188.4" r="1.6" fill="#ff3a0e"/>
<path d="M426.9,197.7C427.4,195.6 429.1,193.9 431.0,193.6C432.9,193.2 436.5,194.4 438.2,195.6C439.9,196.8 441.6,199.0 441.3,200.8C440.9,202.5 436.8,204.0 436.1,205.9C435.5,207.8 437.3,209.6 437.2,212.0C437.0,214.4 436.5,218.7 435.1,220.2C433.7,221.8 430.5,222.3 429.0,221.3C427.4,220.2 426.1,216.6 425.9,214.1C425.7,211.5 427.8,208.6 427.9,205.9C428.1,203.1 426.4,199.7 426.9,197.7Z" fill="#a9a18f"/>
<circle cx="431.4" cy="198.3" r="2.5" fill="#1f5fe0"/>
<circle cx="431.6" cy="207.5" r="1.4" fill="#1f5fe0"/>
<circle cx="431.6" cy="216.1" r="3.3" fill="#1f5fe0"/>
<path d="M445.4,207.9C446.2,206.2 448.3,203.1 450.5,201.8C452.7,200.4 456.8,200.9 458.7,199.7C460.6,198.5 460.2,195.6 461.8,194.6C463.3,193.6 466.4,192.7 467.9,193.6C469.5,194.4 471.0,197.7 471.0,199.7C471.0,201.8 469.3,204.0 467.9,205.9C466.6,207.8 464.7,209.6 462.8,211.0C460.9,212.4 459.0,213.2 456.6,214.1C454.3,214.9 450.3,216.5 448.4,216.1C446.6,215.8 445.9,213.4 445.4,212.0C444.9,210.7 444.5,209.6 445.4,207.9Z" fill="#a9a18f"/>
<circle cx="456.6" cy="207.5" r="2.9" fill="#1f5fe0"/>
<circle cx="448.4" cy="207.9" r="1.6" fill="#1f5fe0"/>
<circle cx="448.4" cy="217.2" r="1.4" fill="#1f5fe0"/>
<path d="M473.1,220.2C473.4,218.2 475.4,217.0 477.2,216.1C478.9,215.3 481.3,214.4 483.3,215.1C485.4,215.8 487.4,218.7 489.5,220.2C491.5,221.8 493.2,224.2 495.6,224.3C498.0,224.5 501.4,221.6 503.8,221.3C506.2,220.9 508.3,223.1 510.0,222.3C511.7,221.4 512.4,217.8 514.1,216.1C515.8,214.4 517.5,213.2 520.2,212.0C523.0,210.8 527.4,209.0 530.5,209.0C533.6,209.0 536.6,212.4 538.7,212.0C540.7,211.7 541.4,206.9 542.8,206.9C544.1,206.9 548.2,209.6 546.9,212.0C545.5,214.4 537.7,218.2 534.6,221.3C531.5,224.3 529.8,228.0 528.4,230.5C527.1,233.0 535.6,235.1 526.4,236.0C517.1,237.0 481.6,237.3 473.1,236.0C464.5,234.8 475.1,231.1 475.1,228.4C475.1,225.8 472.7,222.3 473.1,220.2Z" fill="#a9a18f"/>
<circle cx="508.5" cy="216.8" r="2.7" fill="#1f5fe0"/>
<circle cx="525.3" cy="226.0" r="2.5" fill="#1f5fe0"/>
<path d="M481.3,236.0C477.0,235.3 481.6,232.7 483.3,231.5C485.0,230.3 488.4,229.2 491.5,228.9C494.6,228.5 499.0,228.9 501.8,229.5C504.5,230.1 506.7,231.4 507.9,232.5C509.1,233.6 513.4,235.4 508.9,236.0C504.5,236.6 485.5,236.8 481.3,236.0Z" fill="#1f5fe0"/>
<circle cx="507.9" cy="225.4" r="2.1" fill="#ffff1e"/>
<circle cx="491.5" cy="225.4" r="1.6" fill="#ffff1e"/>
<circle cx="474.1" cy="225.4" r="1.0" fill="#1f5fe0"/>
<circle cx="414.6" cy="207.5" r="3.1" fill="#a9a18f"/>
<circle cx="414.6" cy="169.0" r="3.3" fill="#a9a18f"/>
<circle cx="414.6" cy="169.0" r="1.0" fill="#1f5fe0"/>
<circle cx="431.0" cy="178.8" r="3.3" fill="#a9a18f"/>
<circle cx="431.0" cy="178.8" r="1.2" fill="#1f5fe0"/>
<ellipse cx="389.0" cy="207.5" rx="5.7" ry="3.7" fill="#a9a18f"/>
<circle cx="389.0" cy="207.5" r="2.3" fill="#1f5fe0"/>
<circle cx="440.2" cy="225.4" r="2.5" fill="#a9a18f"/>
<circle cx="440.2" cy="225.4" r="1.0" fill="#1f5fe0"/>
<circle cx="405.4" cy="225.4" r="2.9" fill="#a9a18f"/>
<circle cx="405.4" cy="225.4" r="1.8" fill="#1f5fe0"/>
<circle cx="422.8" cy="233.6" r="2.9" fill="#1f5fe0"/>
<path d="M375.6,189.5C376.1,187.1 377.2,184.0 378.7,181.3C380.3,178.5 382.8,175.3 384.9,173.1C386.9,170.8 388.8,169.1 391.0,167.9C393.2,166.7 395.8,165.5 398.2,165.9C400.6,166.2 403.2,168.1 405.4,170.0C407.6,171.9 409.8,174.9 411.5,177.2C413.2,179.4 414.6,180.9 415.6,183.3C416.7,185.7 418.0,189.1 417.7,191.5C417.3,193.9 415.3,197.3 413.6,197.7C411.9,198.0 409.5,194.6 407.4,193.6C405.4,192.6 404.0,191.9 401.3,191.5C398.5,191.2 393.8,191.2 391.0,191.5C388.3,191.9 386.6,192.6 384.9,193.6C383.2,194.6 382.3,197.3 380.8,197.7C379.2,198.0 376.5,197.0 375.6,195.6C374.8,194.3 375.1,191.9 375.6,189.5Z" fill="#ff9a0a"/>
<path d="M383.8,179.2C384.2,177.5 386.9,176.0 389.0,174.1C391.0,172.2 394.4,168.6 396.1,167.9C397.9,167.3 398.4,168.5 399.2,170.0C400.1,171.5 399.9,174.9 401.3,177.2C402.6,179.4 406.1,181.3 407.4,183.3C408.8,185.4 410.0,188.3 409.5,189.5C409.0,190.7 405.9,191.2 404.3,190.5C402.8,189.8 402.1,186.4 400.2,185.4C398.4,184.3 395.3,184.5 393.1,184.3C390.8,184.2 388.5,185.2 386.9,184.3C385.4,183.5 383.5,180.9 383.8,179.2Z" fill="#ff3a0e"/>
<circle cx="380.4" cy="188.4" r="3.7" fill="#ff3a0e"/>
<path d="M350.0,160.8C351.4,159.1 355.8,158.0 358.2,158.7C360.6,159.4 363.0,162.8 364.4,164.9C365.7,166.9 367.1,169.6 366.4,171.0C365.7,172.4 362.0,173.4 360.3,173.1C358.5,172.7 357.9,169.6 356.2,169.0C354.4,168.3 351.0,170.3 350.0,169.0C349.0,167.6 348.6,162.5 350.0,160.8Z" fill="#ff9a0a"/>
<circle cx="354.5" cy="160.4" r="2.5" fill="#ff3a0e"/>
<circle cx="362.7" cy="169.4" r="1.6" fill="#ff3a0e"/>
<path d="M350.0,179.2C351.7,176.8 357.7,179.9 360.3,181.3C362.8,182.6 365.0,185.4 365.4,187.4C365.7,189.5 364.9,192.2 362.3,193.6C359.7,194.9 352.1,198.0 350.0,195.6C347.9,193.2 348.3,181.6 350.0,179.2Z" fill="#ff9a0a"/>
<path d="M360.3,205.9C360.3,203.5 364.0,200.4 366.4,199.7C368.8,199.0 372.9,200.2 374.6,201.8C376.3,203.3 375.3,206.9 376.7,209.0C378.0,211.0 380.4,213.1 382.8,214.1C385.2,215.1 389.6,214.1 391.0,215.1C392.4,216.1 392.7,219.2 391.0,220.2C389.3,221.3 383.8,221.6 380.8,221.3C377.7,220.9 375.0,219.4 372.6,218.2C370.2,217.0 368.5,216.1 366.4,214.1C364.4,212.0 360.3,208.3 360.3,205.9Z" fill="#ff9a0a"/>
<circle cx="370.5" cy="207.5" r="4.1" fill="#ff3a0e"/>
<circle cx="379.7" cy="216.8" r="2.5" fill="#ff3a0e"/>
<circle cx="387.9" cy="216.8" r="1.6" fill="#ff3a0e"/>
<path d="M437.2,169.0C437.7,166.1 439.0,164.2 440.2,163.8C441.4,163.5 443.7,164.4 444.3,166.9C445.0,169.5 444.3,175.5 443.9,179.2C443.6,183.0 443.2,187.6 442.3,189.5C441.3,191.4 439.0,191.9 438.2,190.5C437.3,189.1 437.3,184.9 437.2,181.3C437.0,177.7 436.6,171.9 437.2,169.0Z" fill="#ff9a0a"/>
<circle cx="440.2" cy="169.0" r="1.6" fill="#ff3a0e"/>
<circle cx="448.4" cy="160.4" r="2.1" fill="#ff9a0a"/>
<circle cx="456.6" cy="160.4" r="1.6" fill="#ff9a0a"/>
<circle cx="448.0" cy="197.7" r="3.3" fill="#ff9a0a"/>
<circle cx="448.0" cy="197.7" r="1.6" fill="#ff3a0e"/>
<path d="M448.4,226.4C449.1,225.2 454.4,225.0 456.6,223.3C458.9,221.6 460.1,218.0 461.8,216.1C463.5,214.3 465.4,211.7 466.9,212.0C468.4,212.4 470.7,216.1 471.0,218.2C471.3,220.2 468.6,222.3 468.9,224.3C469.3,226.4 471.7,228.5 473.1,230.5C474.4,232.4 479.9,235.1 477.2,236.0C474.4,237.0 460.7,237.0 456.6,236.0C452.5,235.1 453.9,232.1 452.5,230.5C451.2,228.9 447.8,227.6 448.4,226.4Z" fill="#ff9a0a"/>
<circle cx="465.5" cy="216.8" r="1.6" fill="#ff3a0e"/>
<circle cx="474.5" cy="234.6" r="1.6" fill="#ff3a0e"/>
<circle cx="491.1" cy="207.5" r="2.9" fill="#ff9a0a"/>
<circle cx="507.9" cy="207.5" r="2.9" fill="#ff9a0a"/>
<circle cx="516.5" cy="207.5" r="2.1" fill="#ff9a0a"/>
<circle cx="474.1" cy="207.5" r="1.6" fill="#ff9a0a"/>
<circle cx="440.2" cy="216.8" r="1.8" fill="#ff9a0a"/>
<circle cx="414.6" cy="225.4" r="2.7" fill="#ff9a0a"/>
<circle cx="422.8" cy="225.4" r="1.6" fill="#ff9a0a"/>
<ellipse cx="405.8" cy="207.5" rx="2.9" ry="5.1" fill="#ff9a0a"/>
<circle cx="405.8" cy="207.5" r="1.6" fill="#ff3a0e"/>
<circle cx="405.8" cy="217.2" r="2.1" fill="#ff9a0a"/>
<path d="M374.6,232.5C376.0,231.4 379.7,229.8 382.8,229.5C385.9,229.1 390.7,229.4 393.1,230.5C395.5,231.6 400.2,235.1 397.2,236.0C394.1,237.0 378.4,236.6 374.6,236.0C370.9,235.4 373.2,233.6 374.6,232.5Z" fill="#ff9a0a"/>
<circle cx="405.4" cy="233.6" r="3.7" fill="#ff9a0a"/>
<circle cx="405.4" cy="233.6" r="2.5" fill="#ff3a0e"/>
<circle cx="379.7" cy="234.6" r="1.6" fill="#ff3a0e"/>
<circle cx="387.9" cy="234.6" r="1.6" fill="#ff3a0e"/></g>
<clipPath id="cat6"><rect x="365" y="233" width="235" height="112"/></clipPath>
<g clip-path="url(#cat6)"><rect x="365" y="233" width="235" height="112" fill="#ffff1e"/>
<path d="M369.5,250.5C369.8,247.4 371.0,245.6 372.6,244.4C374.1,243.2 376.8,242.6 378.7,243.3C380.6,244.0 382.6,246.6 383.8,248.5C385.0,250.3 384.7,252.9 385.9,254.6C387.1,256.3 390.0,256.7 391.0,258.7C392.0,260.8 392.4,264.2 392.0,266.9C391.7,269.6 390.0,272.7 389.0,275.1C387.9,277.5 387.3,280.1 385.9,281.3C384.5,282.5 382.3,283.0 380.8,282.3C379.2,281.6 377.9,279.0 376.7,277.2C375.5,275.3 374.6,273.4 373.6,271.0C372.6,268.6 371.2,266.2 370.5,262.8C369.8,259.4 369.1,253.6 369.5,250.5Z" fill="#a9a18f"/>
<circle cx="371.9" cy="254.2" r="1.0" fill="#1f5fe0"/>
<path d="M394.1,254.6C394.4,252.7 398.4,250.5 401.3,249.5C404.2,248.5 408.4,248.8 411.5,248.5C414.6,248.1 417.0,247.1 419.7,247.4C422.5,247.8 425.7,249.0 427.9,250.5C430.2,252.0 432.4,254.3 433.1,256.7C433.7,259.1 432.9,262.5 432.0,264.9C431.2,267.3 429.0,268.6 427.9,271.0C426.9,273.4 426.2,276.7 425.9,279.2C425.5,281.8 426.9,284.7 425.9,286.4C424.9,288.1 422.1,289.3 419.7,289.5C417.3,289.6 413.9,288.4 411.5,287.4C409.1,286.4 407.1,285.0 405.4,283.3C403.7,281.6 401.8,279.6 401.3,277.2C400.8,274.8 402.6,271.7 402.3,269.0C402.0,266.2 400.6,263.2 399.2,260.8C397.9,258.4 393.8,256.5 394.1,254.6Z" fill="#a9a18f"/>
<path d="M417.7,250.5C419.0,249.3 422.1,248.8 423.8,249.5C425.5,250.2 427.4,252.4 427.9,254.6C428.4,256.8 427.9,260.9 426.9,262.8C425.9,264.7 423.3,264.5 421.8,265.9C420.2,267.3 418.7,269.0 417.7,271.0C416.7,273.1 417.0,276.7 415.6,278.2C414.3,279.7 411.4,280.6 409.5,280.2C407.6,279.9 405.4,277.9 404.3,276.1C403.3,274.4 403.0,271.9 403.3,270.0C403.7,268.1 405.0,266.4 406.4,264.9C407.8,263.3 410.0,262.1 411.5,260.8C413.1,259.4 414.6,258.4 415.6,256.7C416.7,255.0 416.3,251.7 417.7,250.5Z" fill="#1f5fe0"/>
<circle cx="431.0" cy="270.6" r="2.9" fill="#1f5fe0"/>
<circle cx="422.2" cy="288.9" r="2.1" fill="#1f5fe0"/>
<path d="M417.7,234.1C418.4,232.6 418.7,230.7 423.8,230.0C429.0,229.3 443.7,229.0 448.4,230.0C453.2,231.0 452.5,234.1 452.5,236.2C452.5,238.2 450.5,240.8 448.4,242.3C446.4,243.8 442.6,245.4 440.2,245.4C437.8,245.4 436.5,243.2 434.1,242.3C431.7,241.5 428.3,240.8 425.9,240.3C423.5,239.7 421.1,240.3 419.7,239.2C418.4,238.2 417.0,235.6 417.7,234.1Z" fill="#a9a18f"/>
<circle cx="422.8" cy="234.5" r="2.7" fill="#1f5fe0"/>
<circle cx="431.0" cy="234.5" r="1.2" fill="#1f5fe0"/>
<path d="M505.9,230.0C509.3,229.0 525.3,228.5 528.4,230.0C531.5,231.5 526.7,237.8 524.3,239.2C521.9,240.7 516.8,239.1 514.1,238.6C511.3,238.1 509.3,237.6 507.9,236.2C506.5,234.7 502.4,231.0 505.9,230.0Z" fill="#a9a18f"/>
<path d="M481.3,234.1C481.6,232.4 483.3,230.7 487.4,230.0C491.5,229.3 502.4,229.0 505.9,230.0C509.3,231.0 508.6,234.4 507.9,236.2C507.2,237.9 504.2,239.7 501.8,240.3C499.4,240.8 496.3,239.2 493.6,239.2C490.8,239.2 487.4,241.1 485.4,240.3C483.3,239.4 480.9,235.8 481.3,234.1Z" fill="#1f5fe0"/>
<circle cx="388.6" cy="288.9" r="3.3" fill="#a9a18f"/>
<circle cx="388.6" cy="288.9" r="2.1" fill="#1f5fe0"/>
<circle cx="397.2" cy="297.7" r="3.3" fill="#a9a18f"/>
<circle cx="397.2" cy="297.7" r="2.1" fill="#1f5fe0"/>
<path d="M394.1,299.7C395.1,298.4 399.9,298.5 401.3,299.7C402.6,300.9 403.3,305.5 402.3,306.9C401.3,308.3 396.5,309.1 395.1,307.9C393.8,306.7 393.1,301.1 394.1,299.7Z" fill="#a9a18f"/>
<path d="M356.2,312.0C357.7,310.8 361.6,310.0 364.4,309.0C367.1,307.9 370.2,307.1 372.6,305.9C375.0,304.7 376.7,302.1 378.7,301.8C380.8,301.4 383.5,302.5 384.9,303.8C386.2,305.2 385.5,308.3 386.9,310.0C388.3,311.7 392.4,312.5 393.1,314.1C393.8,315.6 392.4,318.7 391.0,319.2C389.6,319.7 386.6,317.3 384.9,317.2C383.2,317.1 382.5,317.7 380.8,318.6C379.1,319.5 376.7,322.0 374.6,322.3C372.6,322.6 370.9,320.9 368.5,320.2C366.1,319.6 362.5,318.9 360.3,318.2C358.0,317.5 355.8,317.2 355.1,316.1C354.4,315.1 354.6,313.2 356.2,312.0Z" fill="#a9a18f"/>
<path d="M360.3,314.1C361.6,313.1 366.1,311.9 368.5,311.0C370.9,310.2 372.9,310.2 374.6,309.0C376.3,307.8 377.3,304.3 378.7,303.8C380.1,303.3 382.0,304.7 382.8,305.9C383.7,307.1 382.6,309.8 383.8,311.0C385.0,312.2 389.0,312.0 390.0,313.1C391.0,314.1 390.8,316.8 390.0,317.2C389.1,317.5 386.6,315.1 384.9,315.1C383.2,315.1 381.8,316.5 379.7,317.2C377.7,317.8 375.1,319.0 372.6,319.2C370.0,319.4 366.4,318.5 364.4,318.2C362.3,317.8 360.9,317.8 360.3,317.2C359.6,316.5 358.9,315.1 360.3,314.1Z" fill="#1f5fe0"/>
<circle cx="380.4" cy="297.7" r="1.0" fill="#1f5fe0"/>
<path d="M350.0,328.4C351.4,327.3 357.2,328.4 358.2,329.5C359.2,330.5 357.5,333.5 356.2,334.6C354.8,335.7 351.0,337.1 350.0,336.0C349.0,335.0 348.6,329.5 350.0,328.4Z" fill="#a9a18f"/>
<path d="M350.0,233.1C352.1,222.8 359.2,234.6 362.3,236.2C365.4,237.7 367.6,239.2 368.5,242.3C369.3,245.4 368.5,251.5 367.4,254.6C366.4,257.7 362.5,258.7 362.3,260.8C362.1,262.8 364.7,264.5 366.4,266.9C368.1,269.3 371.0,272.4 372.6,275.1C374.1,277.9 375.3,280.6 375.6,283.3C376.0,286.1 375.5,288.8 374.6,291.5C373.8,294.3 372.6,298.0 370.5,299.7C368.5,301.4 365.0,301.8 362.3,301.8C359.6,301.8 356.2,300.4 354.1,299.7C352.1,299.0 350.7,308.8 350.0,297.7C349.3,286.6 347.9,243.3 350.0,233.1Z" fill="#ff9a0a"/>
<path d="M350.0,238.2C351.4,235.5 356.5,238.5 358.2,240.3C359.9,242.0 360.3,245.7 360.3,248.5C360.3,251.2 359.9,255.3 358.2,256.7C356.5,258.0 351.4,259.7 350.0,256.7C348.6,253.6 348.6,240.9 350.0,238.2Z" fill="#ff3a0e"/>
<path d="M359.2,269.0C360.3,267.4 363.5,266.9 365.4,267.9C367.3,269.0 369.1,272.7 370.5,275.1C371.9,277.5 373.9,280.6 373.6,282.3C373.2,284.0 370.3,285.2 368.5,285.4C366.6,285.5 363.8,284.7 362.3,283.3C360.8,282.0 359.7,279.6 359.2,277.2C358.7,274.8 358.2,270.5 359.2,269.0Z" fill="#ff3a0e"/>
<path d="M360.3,295.6C361.3,294.8 365.4,294.4 367.4,294.6C369.5,294.8 372.4,295.6 372.6,296.7C372.7,297.7 370.3,300.2 368.5,300.8C366.6,301.3 362.6,300.6 361.3,299.7C359.9,298.9 359.2,296.5 360.3,295.6Z" fill="#ff3a0e"/>
<path d="M376.7,233.1C381.4,232.1 405.4,231.2 411.5,232.1C417.7,232.9 414.3,236.5 413.6,238.2C412.9,239.9 409.5,240.6 407.4,242.3C405.4,244.0 403.3,247.3 401.3,248.5C399.2,249.7 396.8,250.5 395.1,249.5C393.4,248.5 393.1,244.2 391.0,242.3C389.0,240.4 385.2,239.7 382.8,238.2C380.4,236.7 371.9,234.1 376.7,233.1Z" fill="#ff9a0a"/>
<circle cx="379.7" cy="234.5" r="1.6" fill="#ff3a0e"/>
<circle cx="387.9" cy="234.5" r="2.1" fill="#ff3a0e"/>
<circle cx="405.8" cy="234.5" r="2.9" fill="#ff3a0e"/>
<circle cx="397.2" cy="243.9" r="1.6" fill="#ff3a0e"/>
<path d="M438.2,254.6C438.9,252.0 440.2,250.2 442.3,248.5C444.3,246.7 448.1,246.1 450.5,244.4C452.9,242.6 454.9,240.1 456.6,238.2C458.4,236.3 457.3,233.9 460.7,233.1C464.2,232.2 474.1,231.5 477.2,233.1C480.2,234.6 478.5,239.1 479.2,242.3C479.9,245.6 481.3,249.5 481.3,252.6C481.3,255.6 480.6,258.7 479.2,260.8C477.8,262.8 475.4,263.8 473.1,264.9C470.7,265.9 466.9,266.9 464.8,266.9C462.8,266.9 462.1,264.7 460.7,264.9C459.4,265.0 458.0,267.9 456.6,267.9C455.3,267.9 454.9,264.9 452.5,264.9C450.2,264.9 444.7,268.1 442.3,267.9C439.9,267.8 438.9,266.1 438.2,263.8C437.5,261.6 437.5,257.2 438.2,254.6Z" fill="#ff9a0a"/>
<path d="M446.4,251.5C448.1,250.5 454.3,249.1 456.6,249.5C459.0,249.8 461.4,252.4 460.7,253.6C460.1,254.8 454.9,256.3 452.5,256.7C450.2,257.0 447.4,256.5 446.4,255.6C445.4,254.8 444.7,252.6 446.4,251.5Z" fill="#ff3a0e"/>
<path d="M471.0,240.3C471.7,238.7 474.9,239.6 476.1,241.3C477.3,243.0 478.3,247.9 478.2,250.5C478.0,253.1 476.1,256.7 475.1,256.7C474.1,256.7 472.7,253.2 472.0,250.5C471.3,247.8 470.3,241.8 471.0,240.3Z" fill="#ff3a0e"/>
<circle cx="464.8" cy="261.8" r="2.9" fill="#ff3a0e"/>
<ellipse cx="464.8" cy="244.4" rx="3.1" ry="5.1" fill="#ffff1e"/>
<circle cx="464.8" cy="253.6" r="2.1" fill="#a9a18f"/>
<circle cx="448.4" cy="261.8" r="2.9" fill="#a9a18f"/>
<circle cx="448.4" cy="261.8" r="1.6" fill="#1f5fe0"/>
<path d="M432.0,273.1C434.1,271.0 438.9,269.1 442.3,267.9C445.7,266.7 449.5,266.4 452.5,265.9C455.6,265.4 458.9,263.7 460.7,264.9C462.6,266.1 461.4,270.8 463.8,273.1C466.2,275.3 472.2,276.8 475.1,278.2C478.0,279.6 481.6,279.4 481.3,281.3C480.9,283.2 476.1,287.4 473.1,289.5C470.0,291.5 466.2,293.6 462.8,293.6C459.4,293.6 454.8,289.3 452.5,289.5C450.3,289.6 450.2,292.9 449.5,294.6C448.8,296.3 450.0,298.5 448.4,299.7C446.9,300.9 443.0,301.6 440.2,301.8C437.5,302.0 434.1,301.8 432.0,300.8C430.0,299.7 428.8,297.8 427.9,295.6C427.1,293.4 426.6,290.0 426.9,287.4C427.2,284.9 429.1,282.6 430.0,280.2C430.8,277.9 430.0,275.1 432.0,273.1Z" fill="#ff9a0a"/>
<circle cx="440.2" cy="279.2" r="2.5" fill="#ff3a0e"/>
<circle cx="448.0" cy="279.2" r="2.5" fill="#ff3a0e"/>
<path d="M454.6,285.4C454.9,284.0 458.4,282.1 460.7,282.3C463.1,282.5 467.4,285.0 468.9,286.4C470.5,287.8 470.8,289.3 470.0,290.5C469.1,291.7 465.7,293.6 463.8,293.6C461.9,293.6 460.2,291.9 458.7,290.5C457.2,289.1 454.3,286.7 454.6,285.4Z" fill="#ff3a0e"/>
<ellipse cx="432.0" cy="292.6" rx="3.5" ry="7.2" fill="#ff3a0e"/>
<circle cx="456.6" cy="271.0" r="2.5" fill="#ff3a0e"/>
<circle cx="440.2" cy="271.0" r="2.1" fill="#ff3a0e"/>
<circle cx="448.0" cy="271.0" r="2.5" fill="#ffff1e"/>
<path d="M394.1,312.0C395.1,310.3 398.7,309.1 401.3,309.0C403.8,308.8 407.4,309.5 409.5,311.0C411.5,312.5 413.2,316.1 413.6,318.2C413.9,320.2 413.2,322.6 411.5,323.3C409.8,324.0 406.1,323.0 403.3,322.3C400.6,321.6 396.7,320.9 395.1,319.2C393.6,317.5 393.1,313.7 394.1,312.0Z" fill="#ff9a0a"/>
<circle cx="405.8" cy="314.5" r="2.9" fill="#ff3a0e"/>
<circle cx="397.6" cy="314.1" r="1.2" fill="#ff3a0e"/>
<circle cx="397.6" cy="271.0" r="2.1" fill="#ff9a0a"/>
<circle cx="397.6" cy="288.4" r="2.1" fill="#ff9a0a"/>
<circle cx="413.6" cy="279.8" r="1.6" fill="#ff9a0a"/>
<circle cx="414.6" cy="305.9" r="2.5" fill="#ff9a0a"/>
<circle cx="388.6" cy="297.7" r="1.6" fill="#ff9a0a"/>
<circle cx="388.6" cy="305.9" r="1.6" fill="#ff9a0a"/></g>
</g>
<path d="M225.0,63.6L232.5,60.5L236.6,57.4L242.4,52.7L248.9,51.9L255.5,51.3L261.3,50.3L266.4,49.6L273.6,47.8L279.7,47.8L285.9,47.2L294.1,46.8L299.2,45.5L306.4,45.7L312.5,46.2L317.7,47.8L321.8,50.3L326.9,53.3L332.0,54.8L337.1,55.0L343.3,53.7L348.4,55.4L353.5,57.4L357.6,60.5L362.8,63.6L364.8,66.7L363.8,69.7L367.9,73.8L372.0,77.9L375.6,84.1L379.7,91.3L383.8,97.4L385.9,103.6L390.0,108.7L393.1,114.9L394.1,121.0L399.2,123.1L400.2,130.2L404.3,135.4L405.4,136.2L413.6,137.8L421.8,138.2L429.0,139.2L436.1,141.3L442.3,140.3L448.4,145.4L456.6,150.5L464.8,152.1L468.9,153.6L467.9,158.7L472.0,162.8L473.1,167.9L471.0,171.0L475.1,176.1L479.2,179.2L489.5,178.8L499.7,179.2L507.9,179.2L514.1,177.6L518.2,174.1L524.3,172.0L530.5,171.0L536.6,169.0L542.8,166.9L551.0,165.9L559.2,164.9L565.3,163.8L570.5,162.8L569.4,165.3L563.3,166.9L559.2,170.0L561.2,174.1L563.3,178.2L560.2,182.3L555.1,185.4L551.0,189.5L547.9,192.6L548.9,197.7L544.8,200.8L542.8,206.9L543.8,212.0L538.7,217.2L534.6,221.3L532.5,225.4L528.4,230.5L526.4,236.0L524.3,239.2L514.1,238.6L505.9,239.8L497.7,240.3L489.5,241.9L481.3,243.3L478.2,246.4L480.2,252.6L482.3,258.7L483.3,264.9L482.3,271.0L483.3,277.2L481.3,281.3L477.2,285.4L473.1,289.5L466.9,291.5L462.8,293.6L467.9,299.7L464.8,298.7L460.7,294.6L456.6,291.5L452.5,289.5L449.5,293.6L448.4,299.7L442.3,301.8L436.1,304.9L432.0,306.9L427.9,309.0L421.8,310.0L415.6,311.0L410.5,312.0L411.5,316.1L413.6,320.2L411.5,323.3L405.4,322.3L399.2,320.2L393.1,319.2L389.0,320.2L384.9,316.1L380.8,318.2L374.6,322.3L370.5,326.4L362.3,330.5L356.2,334.6L347.4,339.5L341.2,343.6L333.0,348.7L324.8,352.8L316.6,356.9L308.4,359.0L300.2,361.0L292.0,364.1L285.9,367.2L279.7,370.2L273.6,373.3L269.5,377.4L263.3,380.5L257.2,383.6L251.0,385.6L248.9,381.5L253.1,378.4L259.2,375.4L261.3,372.3L256.1,371.3L253.1,368.2L256.1,364.1L258.2,360.0L263.3,357.9L269.5,353.8L273.6,348.7L277.7,343.6L273.6,339.5L269.5,335.4L263.3,333.3L257.2,334.4L251.0,335.4L246.9,338.5L242.8,342.6L238.7,346.7L232.5,350.8L226.4,353.8L220.2,355.9L216.1,350.8L214.1,345.6L210.0,342.6L203.8,340.5L198.7,336.4L200.8,332.3L205.9,328.2L201.8,326.2L191.5,324.1L185.4,320.0L184.3,311.8L180.2,307.7L178.2,301.5L174.1,297.4L169.0,298.4L160.8,299.5L154.6,298.4L150.5,294.3L149.5,289.2L145.4,286.1L143.3,282.0L149.5,277.9L154.6,273.8L156.7,268.7L155.6,264.6L159.7,260.5L164.9,260.1L171.0,261.5L179.2,260.5L185.4,257.4L191.5,255.4L197.7,253.3L201.8,250.3L205.9,246.2L209.0,240.0L207.9,238.4L209.0,233.3L216.1,230.2L220.2,224.1L222.3,215.9L223.3,207.7L222.8,200.1L221.3,196.0L217.7,190.9L211.5,186.8L206.4,183.7L203.3,180.1L197.2,178.6L193.1,175.5L187.9,173.5L179.7,172.4L173.6,172.9L168.4,177.0L163.3,180.6L158.2,177.0L153.1,175.5L144.9,175.5L136.7,176.5L131.5,179.6L127.4,178.1L123.3,175.0L122.3,170.4L125.4,168.2L128.5,164.1L129.0,161.0L132.6,154.9L136.7,148.7L140.8,142.6L144.9,136.4L149.0,130.3L153.1,131.8L157.2,133.8L162.3,135.4L168.4,136.4L173.6,137.9L179.7,135.9L185.9,132.8L191.0,129.7L197.2,127.7L203.3,126.2L207.4,124.1L209.0,124.5L209.6,121.0L206.3,120.6L204.2,119.6L206.3,116.3L209.0,113.4L212.0,109.7L215.1,105.6L218.6,101.5L221.3,97.4L224.3,93.7L228.4,89.2L233.6,86.1L238.7,83.1L240.7,79.0L239.3,75.9L240.3,72.8L242.4,69.1L238.7,67.7L232.5,67.3L225.6,67.7Z" fill="none" stroke="#000" stroke-width="1.6" stroke-linejoin="round"/>
<path d="M261.3,50.3L264.3,57.4L258.2,61.5L253.1,66.7L261.3,70.8L269.5,72.8L273.6,70.8L281.8,73.8L286.9,76.9L287.9,83.1L292.0,93.3L300.2,97.4L314.6,96.4L320.7,94.3L332.0,94.3L339.2,90.2L343.3,89.2L350.5,92.3L355.6,98.4L363.8,102.6L363.8,105.6L357.6,107.7L356.6,115.9L349.4,122.0L344.3,126.1L343.3,134.3L345.3,140.0L343.3,145.1L335.1,149.2L332.0,155.4L330.0,162.6L327.9,170.8L325.9,166.7L322.8,161.5L314.6,165.6L304.3,172.8L294.1,179.0L285.9,183.1L279.7,188.2L282.8,191.3L287.9,195.4L294.1,199.5L297.1,201.5L300.2,198.4L304.3,197.4L307.4,200.5L304.3,203.6L298.2,203.6L294.1,206.0" fill="none" stroke="#000" stroke-width="1.6" stroke-linejoin="round" stroke-linecap="round"/>
<path d="M294.1,206.0L296.1,209.7L300.2,212.8L308.4,212.8L313.6,213.8L315.6,219.0L317.7,224.1L322.8,228.2L328.9,231.3L335.1,232.3L345.3,230.2L353.5,232.3L357.6,235.4L365.8,238.4L358.2,236.2L366.4,238.2L376.7,239.2L384.9,241.3L387.9,244.4L385.9,249.5L391.0,251.5L397.2,253.6L401.3,259.7L405.4,261.8L409.5,256.7L415.6,254.6L418.7,258.7L420.8,263.8L424.9,269.0L426.9,274.1L432.0,273.1L436.1,270.0L442.3,267.9L448.4,266.9L452.5,264.9L456.6,267.9L460.7,264.9L462.8,269.0L463.8,273.1L468.9,275.1L475.1,278.2L482.3,277.2" fill="none" stroke="#000" stroke-width="1.6" stroke-linejoin="round" stroke-linecap="round"/>
<path d="M294.1,206.0L292.0,211.8L288.9,216.9L281.8,217.9L273.6,220.0L266.4,219.0L264.3,224.1L269.5,227.2L274.6,230.2L276.6,235.4L273.6,240.5L271.5,240.0L273.6,246.2L276.6,252.3L277.7,257.4L285.9,256.0L294.1,253.3L298.2,258.5L302.3,264.6L305.3,270.8L302.3,275.9L306.4,277.9" fill="none" stroke="#000" stroke-width="1.6" stroke-linejoin="round" stroke-linecap="round"/>
<path d="M306.4,277.9L308.4,282.0L304.3,286.1L298.2,289.2L290.0,292.3L281.8,293.7L273.6,294.3L269.5,297.4L263.3,298.4L257.2,300.5L251.0,302.6L244.8,305.6L238.7,309.7L232.5,312.8L226.4,316.3L223.3,311.8L220.2,305.6L215.1,303.6L209.0,304.6L207.9,309.7L210.0,315.9L209.0,322.0L206.9,328.2" fill="none" stroke="#000" stroke-width="1.6" stroke-linejoin="round" stroke-linecap="round"/>
<path d="M306.4,277.9L312.5,280.0L318.7,283.1L324.8,288.2L327.9,291.3L332.0,288.2L335.1,285.1L337.1,291.3L341.2,298.4L345.3,303.6L349.4,308.7L347.4,310.8L350.5,317.9L353.5,324.1L356.6,330.2L355.6,335.4" fill="none" stroke="#000" stroke-width="1.6" stroke-linejoin="round" stroke-linecap="round"/>
<path d="M252.6,366.8L255.5,365.5L257.6,367.6L256.7,370.2L253.9,370.5Z" fill="#000" stroke="#000" stroke-width="0.6"/>
<path d="M247.3,380.7L251.0,379.5L253.1,380.7L250.0,381.9Z" fill="#000" stroke="#000" stroke-width="0.6"/>
<path d="M277.7,373.7L285.9,372.5L291.0,372.9L285.9,374.6L280.7,375.4Z" fill="#000" stroke="#000" stroke-width="0.6"/>
<path d="M286.9,378.0L291.0,377.4L290.0,379.5Z" fill="#000" stroke="#000" stroke-width="0.6"/>
<path d="M292.0,366.8L295.7,366.3L294.1,368.8Z" fill="#000" stroke="#000" stroke-width="0.6"/>
<path d="M295.7,377.0L298.6,376.6L297.4,379.1Z" fill="#000" stroke="#000" stroke-width="0.6"/>
<path d="M253.1,374.3L258.2,373.7L259.2,375.8L254.1,376.4Z" fill="#000" stroke="#000" stroke-width="0.6"/>
<path d="M252.0,366.7L255.6,364.6L259.7,364.1L260.8,366.7L259.7,369.7L263.8,370.3L267.9,369.7L265.9,371.8L261.8,372.8L258.7,375.4L255.6,373.8L253.1,370.8Z" fill="#000" stroke="#000" stroke-width="0.6"/>
<path d="M250.0,376.4L253.6,375.9L254.1,377.1L250.5,377.5Z" fill="#000" stroke="#000" stroke-width="0.6"/>
<path d="M246.4,380.2L250.5,379.5L250.5,381.0L246.9,381.2Z" fill="#000" stroke="#000" stroke-width="0.6"/>
<path d="M291.5,365.6L295.6,366.1L296.7,368.2L293.6,369.2L292.0,367.7Z" fill="#000" stroke="#000" stroke-width="0.6"/>
<path d="M276.7,373.8L279.2,372.3L287.4,372.6L290.0,373.8L285.4,374.7L279.2,375.4Z" fill="#000" stroke="#000" stroke-width="0.6"/>
<path d="M285.9,378.1L290.5,377.1L291.0,378.8L286.9,379.8Z" fill="#000" stroke="#000" stroke-width="0.6"/>
<path d="M295.6,377.4L298.2,376.9L298.5,378.8L296.1,379.2Z" fill="#000" stroke="#000" stroke-width="0.6"/>
<path d="M292.6,372.6L294.6,372.3L294.8,373.8L292.8,374.0Z" fill="#000" stroke="#000" stroke-width="0.6"/>

<clipPath id="cbp"><path d="M776.5,61.6L784.4,58.4L788.7,55.2L794.7,50.2L801.6,49.4L808.5,48.7L814.5,47.6L819.9,47.0L827.4,45.1L833.8,45.1L840.3,44.4L848.8,44.0L854.2,42.7L861.7,42.9L868.2,43.3L873.5,45.1L877.8,47.6L883.2,50.9L888.6,52.4L893.9,52.6L900.4,51.3L905.8,53.0L911.1,55.2L915.4,58.4L920.8,61.6L922.9,64.8L921.9,68.0L926.1,72.3L930.4,76.6L934.2,83.1L938.5,90.6L942.8,97.0L945.0,103.5L949.3,108.8L952.5,115.3L953.6,121.7L958.9,123.9L960.0,131.4L964.3,136.7L965.4,137.6L974.0,139.3L982.6,139.7L990.1,140.8L997.6,142.9L1004.0,141.9L1010.5,147.2L1019.1,152.6L1027.7,154.3L1031.9,155.8L1030.9,161.2L1035.2,165.5L1036.2,170.9L1034.1,174.1L1038.4,179.4L1042.7,182.7L1053.4,182.2L1064.2,182.7L1072.7,182.7L1079.2,180.9L1083.5,177.3L1089.9,175.2L1096.4,174.1L1102.8,171.9L1109.2,169.8L1117.8,168.7L1126.4,167.6L1132.9,166.6L1138.2,165.5L1137.2,168.1L1130.7,169.8L1126.4,173.0L1128.6,177.3L1130.7,181.6L1127.5,185.9L1122.1,189.1L1117.8,193.4L1114.6,196.6L1115.7,202.0L1111.4,205.2L1109.2,211.7L1110.3,217.0L1105.0,222.4L1100.7,226.7L1098.5,231.0L1094.2,236.3L1092.1,242.1L1089.9,245.5L1079.2,244.9L1070.6,246.1L1062.0,246.6L1053.4,248.3L1044.8,249.8L1041.6,253.0L1043.8,259.5L1045.9,265.9L1047.0,272.3L1045.9,278.8L1047.0,285.2L1044.8,289.5L1040.5,293.8L1036.2,298.1L1029.8,300.2L1025.5,302.4L1030.9,308.8L1027.7,307.8L1023.4,303.5L1019.1,300.2L1014.8,298.1L1011.5,302.4L1010.5,308.8L1004.0,311.0L997.6,314.2L993.3,316.4L989.0,318.5L982.6,319.6L976.1,320.6L970.8,321.7L971.8,326.0L974.0,330.3L971.8,333.5L965.4,332.5L958.9,330.3L952.5,329.2L948.2,330.3L943.9,326.0L939.6,328.2L933.2,332.5L928.9,336.8L920.3,341.0L913.8,345.3L904.7,350.5L898.2,354.8L889.6,360.1L881.1,364.4L872.5,368.7L863.9,370.9L855.3,373.0L846.7,376.2L840.3,379.4L833.8,382.7L827.4,385.9L823.1,390.2L816.6,393.4L810.2,396.6L803.8,398.8L801.6,394.5L805.9,391.3L812.3,388.0L814.5,384.8L809.1,383.7L805.9,380.5L809.1,376.2L811.3,371.9L816.6,369.8L823.1,365.5L827.4,360.1L831.7,354.8L827.4,350.5L823.1,346.2L816.6,344.0L810.2,345.1L803.8,346.2L799.5,349.4L795.2,353.7L790.9,358.0L784.4,362.3L778.0,365.5L771.5,367.6L767.3,362.3L765.1,356.9L760.8,353.7L754.4,351.5L749.0,347.2L751.1,342.9L756.5,338.7L752.2,336.5L741.5,334.4L735.0,330.1L734.0,321.5L729.7,317.2L727.5,310.7L723.2,306.4L717.9,307.5L709.3,308.6L702.8,307.5L698.5,303.2L697.5,297.8L693.2,294.6L691.0,290.3L697.5,286.0L702.8,281.7L705.0,276.4L703.9,272.1L708.2,267.8L713.6,267.3L720.0,268.8L728.6,267.8L735.0,264.6L741.5,262.4L747.9,260.3L752.2,257.0L756.5,252.7L759.7,246.3L758.7,244.7L759.7,239.3L767.3,236.1L771.5,229.6L773.7,221.0L774.8,212.5L774.2,204.5L772.6,200.3L768.9,194.9L762.4,190.6L757.0,187.4L753.8,183.6L747.4,182.0L743.1,178.8L737.7,176.6L729.1,175.6L722.7,176.1L717.3,180.4L712.0,184.1L706.6,180.4L701.2,178.8L692.6,178.8L684.0,179.9L678.7,183.1L674.4,181.5L670.1,178.2L669.0,173.4L672.2,171.1L675.5,166.8L676.0,163.6L679.7,157.2L684.0,150.7L688.3,144.3L692.6,137.8L696.9,131.4L701.2,133.0L705.5,135.2L710.9,136.8L717.3,137.8L722.7,139.5L729.1,137.3L735.6,134.1L740.9,130.9L747.4,128.7L753.8,127.1L758.1,125.0L759.7,125.4L760.4,121.7L756.9,121.3L754.8,120.2L756.9,116.8L759.7,113.8L763.0,109.9L766.2,105.6L769.8,101.3L772.6,97.0L775.8,93.2L780.1,88.4L785.5,85.2L790.9,82.0L793.0,77.7L791.5,74.5L792.6,71.3L794.7,67.4L790.9,65.9L784.4,65.5L777.1,65.9Z"/></clipPath>
<g clip-path="url(#cbp)"><path d="M776.5,61.6L784.4,58.4L788.7,55.2L794.7,50.2L801.6,49.4L808.5,48.7L814.5,47.6L819.9,47.0L827.4,45.1L833.8,45.1L840.3,44.4L848.8,44.0L854.2,42.7L861.7,42.9L868.2,43.3L873.5,45.1L877.8,47.6L883.2,50.9L888.6,52.4L893.9,52.6L900.4,51.3L905.8,53.0L911.1,55.2L915.4,58.4L920.8,61.6L922.9,64.8L921.9,68.0L926.1,72.3L930.4,76.6L934.2,83.1L938.5,90.6L942.8,97.0L945.0,103.5L949.3,108.8L952.5,115.3L953.6,121.7L958.9,123.9L960.0,131.4L964.3,136.7L965.4,137.6L974.0,139.3L982.6,139.7L990.1,140.8L997.6,142.9L1004.0,141.9L1010.5,147.2L1019.1,152.6L1027.7,154.3L1031.9,155.8L1030.9,161.2L1035.2,165.5L1036.2,170.9L1034.1,174.1L1038.4,179.4L1042.7,182.7L1053.4,182.2L1064.2,182.7L1072.7,182.7L1079.2,180.9L1083.5,177.3L1089.9,175.2L1096.4,174.1L1102.8,171.9L1109.2,169.8L1117.8,168.7L1126.4,167.6L1132.9,166.6L1138.2,165.5L1137.2,168.1L1130.7,169.8L1126.4,173.0L1128.6,177.3L1130.7,181.6L1127.5,185.9L1122.1,189.1L1117.8,193.4L1114.6,196.6L1115.7,202.0L1111.4,205.2L1109.2,211.7L1110.3,217.0L1105.0,222.4L1100.7,226.7L1098.5,231.0L1094.2,236.3L1092.1,242.1L1089.9,245.5L1079.2,244.9L1070.6,246.1L1062.0,246.6L1053.4,248.3L1044.8,249.8L1041.6,253.0L1043.8,259.5L1045.9,265.9L1047.0,272.3L1045.9,278.8L1047.0,285.2L1044.8,289.5L1040.5,293.8L1036.2,298.1L1029.8,300.2L1025.5,302.4L1030.9,308.8L1027.7,307.8L1023.4,303.5L1019.1,300.2L1014.8,298.1L1011.5,302.4L1010.5,308.8L1004.0,311.0L997.6,314.2L993.3,316.4L989.0,318.5L982.6,319.6L976.1,320.6L970.8,321.7L971.8,326.0L974.0,330.3L971.8,333.5L965.4,332.5L958.9,330.3L952.5,329.2L948.2,330.3L943.9,326.0L939.6,328.2L933.2,332.5L928.9,336.8L920.3,341.0L913.8,345.3L904.7,350.5L898.2,354.8L889.6,360.1L881.1,364.4L872.5,368.7L863.9,370.9L855.3,373.0L846.7,376.2L840.3,379.4L833.8,382.7L827.4,385.9L823.1,390.2L816.6,393.4L810.2,396.6L803.8,398.8L801.6,394.5L805.9,391.3L812.3,388.0L814.5,384.8L809.1,383.7L805.9,380.5L809.1,376.2L811.3,371.9L816.6,369.8L823.1,365.5L827.4,360.1L831.7,354.8L827.4,350.5L823.1,346.2L816.6,344.0L810.2,345.1L803.8,346.2L799.5,349.4L795.2,353.7L790.9,358.0L784.4,362.3L778.0,365.5L771.5,367.6L767.3,362.3L765.1,356.9L760.8,353.7L754.4,351.5L749.0,347.2L751.1,342.9L756.5,338.7L752.2,336.5L741.5,334.4L735.0,330.1L734.0,321.5L729.7,317.2L727.5,310.7L723.2,306.4L717.9,307.5L709.3,308.6L702.8,307.5L698.5,303.2L697.5,297.8L693.2,294.6L691.0,290.3L697.5,286.0L702.8,281.7L705.0,276.4L703.9,272.1L708.2,267.8L713.6,267.3L720.0,268.8L728.6,267.8L735.0,264.6L741.5,262.4L747.9,260.3L752.2,257.0L756.5,252.7L759.7,246.3L758.7,244.7L759.7,239.3L767.3,236.1L771.5,229.6L773.7,221.0L774.8,212.5L774.2,204.5L772.6,200.3L768.9,194.9L762.4,190.6L757.0,187.4L753.8,183.6L747.4,182.0L743.1,178.8L737.7,176.6L729.1,175.6L722.7,176.1L717.3,180.4L712.0,184.1L706.6,180.4L701.2,178.8L692.6,178.8L684.0,179.9L678.7,183.1L674.4,181.5L670.1,178.2L669.0,173.4L672.2,171.1L675.5,166.8L676.0,163.6L679.7,157.2L684.0,150.7L688.3,144.3L692.6,137.8L696.9,131.4L701.2,133.0L705.5,135.2L710.9,136.8L717.3,137.8L722.7,139.5L729.1,137.3L735.6,134.1L740.9,130.9L747.4,128.7L753.8,127.1L758.1,125.0L759.7,125.4L760.4,121.7L756.9,121.3L754.8,120.2L756.9,116.8L759.7,113.8L763.0,109.9L766.2,105.6L769.8,101.3L772.6,97.0L775.8,93.2L780.1,88.4L785.5,85.2L790.9,82.0L793.0,77.7L791.5,74.5L792.6,71.3L794.7,67.4L790.9,65.9L784.4,65.5L777.1,65.9Z" fill="#a9a18f"/>
<clipPath id="cbpt0"><rect x="600" y="0" width="300" height="141"/></clipPath>
<g clip-path="url(#cbpt0)"><rect x="600" y="0" width="300" height="141" fill="#a9a18f"/>
<path d="M769.8,99.5C773.3,96.8 778.7,95.4 782.2,95.4C785.6,95.4 787.6,98.0 790.4,99.5C793.1,101.1 795.1,102.9 798.6,104.7C802.0,106.4 807.4,108.2 810.9,109.8C814.3,111.3 817.7,110.8 819.1,113.9C820.4,117.0 817.0,124.8 819.1,128.2C821.1,131.7 828.0,135.1 831.4,134.4C834.8,133.7 836.2,126.9 839.6,124.1C843.0,121.4 848.5,121.1 851.9,118.0C855.3,114.9 856.0,106.9 860.1,105.7C864.2,104.5 872.0,110.5 876.5,110.8C880.9,111.1 886.1,109.6 886.7,107.7C887.4,105.8 877.6,101.9 880.6,99.5C883.6,97.1 900.9,86.0 905.0,93.4C909.1,100.8 941.5,135.6 905.0,144.0C868.5,152.5 720.6,146.0 685.8,144.0C650.9,142.1 690.9,133.6 696.0,132.3C701.1,131.1 708.3,137.1 716.5,136.4C724.7,135.8 737.7,132.3 745.2,128.2C752.8,124.1 757.5,116.6 761.6,111.8C765.7,107.0 766.4,102.3 769.8,99.5Z" fill="#ffff1e"/>
<path d="M779.1,120.0C779.6,117.8 779.9,115.8 783.2,114.9C786.4,114.1 794.6,115.1 798.6,114.9C802.5,114.7 803.7,114.4 806.8,113.9C809.8,113.4 815.0,109.4 817.0,111.8C819.1,114.2 819.1,124.8 819.1,128.2C819.1,131.7 819.1,131.3 817.0,132.3C815.0,133.4 810.2,134.2 806.8,134.4C803.3,134.6 799.9,133.5 796.5,133.4C793.1,133.2 789.0,134.2 786.3,133.4C783.5,132.5 781.3,130.5 780.1,128.2C778.9,126.0 778.6,122.3 779.1,120.0Z" fill="#a9a18f"/>
<path d="M819.1,128.2C817.7,127.7 822.5,132.9 825.2,133.4C828.0,133.9 833.1,132.7 835.5,131.3C837.9,129.9 837.5,126.5 839.6,125.2C841.6,123.8 845.7,124.3 847.8,123.1C849.8,121.9 850.3,120.0 851.9,118.0C853.4,115.9 855.6,112.7 857.0,110.8C858.4,108.9 858.2,107.4 860.1,106.7C862.0,106.0 865.6,105.8 868.3,106.7C871.0,107.6 873.4,111.1 876.5,111.8C879.6,112.5 884.7,109.6 886.7,110.8C888.8,112.0 889.8,117.1 888.8,119.0C887.8,120.9 883.7,121.2 880.6,122.1C877.5,122.9 873.8,123.8 870.3,124.1C866.9,124.5 863.2,123.8 860.1,124.1C857.0,124.5 854.1,124.8 851.9,126.2C849.7,127.6 848.8,130.3 846.8,132.3C844.7,134.4 841.8,137.8 839.6,138.5C837.4,139.2 836.8,138.2 833.4,136.4C830.0,134.7 820.4,128.8 819.1,128.2Z" fill="#a9a18f"/>
<path d="M880.6,97.5C882.0,96.3 887.1,95.4 888.8,96.4C890.5,97.5 891.5,101.7 890.8,103.6C890.2,105.5 886.4,107.7 884.7,107.7C883.0,107.7 881.3,105.3 880.6,103.6C879.9,101.9 879.2,98.7 880.6,97.5Z" fill="#a9a18f"/>
<path d="M687.8,144.0C686.8,142.3 693.3,134.6 696.0,133.4C698.8,132.1 703.2,134.7 704.2,136.4C705.2,138.2 704.9,142.8 702.2,144.0C699.4,145.3 688.8,145.8 687.8,144.0Z" fill="#a9a18f"/>
<circle cx="722.7" cy="139.5" r="3.1" fill="#a9a18f"/>
<circle cx="748.3" cy="131.3" r="2.9" fill="#a9a18f"/>
<path d="M776.0,60.6C777.4,59.0 782.8,58.5 786.3,56.5C789.7,54.4 792.4,50.0 796.5,48.3C800.6,46.5 805.1,46.9 810.9,46.2C816.7,45.5 828.3,43.1 831.4,44.2C834.5,45.2 828.0,50.3 829.3,52.4C830.7,54.4 836.5,56.3 839.6,56.5C842.7,56.6 845.4,52.7 847.8,53.4C850.2,54.1 852.7,58.0 853.9,60.6C855.1,63.1 853.9,66.7 855.0,68.8C856.0,70.8 858.2,71.2 860.1,72.9C862.0,74.6 864.2,76.6 866.2,79.0C868.3,81.4 870.3,85.9 872.4,87.2C874.4,88.6 877.2,88.6 878.5,87.2C879.9,85.9 880.3,82.1 880.6,79.0C880.9,75.9 879.9,71.5 880.6,68.8C881.3,66.0 882.1,64.0 884.7,62.6C887.3,61.2 892.6,60.6 896.0,60.6C899.4,60.6 903.5,57.5 905.0,62.6C906.5,67.7 906.3,86.2 905.0,91.3C903.7,96.4 900.4,92.5 897.0,93.4C893.6,94.2 887.4,95.1 884.7,96.4C882.0,97.8 880.3,99.7 880.6,101.6C880.9,103.5 886.1,106.0 886.7,107.7C887.4,109.4 886.4,111.3 884.7,111.8C883.0,112.3 879.2,111.8 876.5,110.8C873.8,109.8 871.0,106.5 868.3,105.7C865.6,104.8 862.1,105.0 860.1,105.7C858.0,106.4 857.4,107.7 856.0,109.8C854.6,111.8 853.2,115.9 851.9,118.0C850.5,120.0 849.8,121.1 847.8,122.1C845.7,123.1 841.6,122.8 839.6,124.1C837.5,125.5 836.8,128.6 835.5,130.3C834.1,132.0 833.1,134.0 831.4,134.4C829.7,134.7 827.3,133.4 825.2,132.3C823.2,131.3 820.4,130.3 819.1,128.2C817.7,126.2 817.0,122.4 817.0,120.0C817.0,117.6 819.1,115.9 819.1,113.9C819.1,111.8 818.4,108.4 817.0,107.7C815.7,107.0 812.6,110.1 810.9,109.8C809.2,109.4 808.8,106.7 806.8,105.7C804.7,104.7 801.3,104.7 798.6,103.6C795.8,102.6 792.4,100.9 790.4,99.5C788.3,98.2 788.0,95.8 786.3,95.4C784.5,95.1 781.8,96.4 780.1,97.5C778.4,98.5 777.4,101.6 776.0,101.6C774.6,101.6 771.6,99.5 771.9,97.5C772.2,95.4 775.7,91.7 778.1,89.3C780.4,86.9 784.0,85.2 786.3,83.1C788.5,81.1 790.4,79.0 791.4,77.0C792.4,74.9 792.9,72.5 792.4,70.8C791.9,69.1 790.7,67.6 788.3,66.7C785.9,65.9 780.1,66.7 778.1,65.7C776.0,64.7 774.6,62.1 776.0,60.6Z" fill="#1f5fe0"/>
<path d="M786.3,56.5C787.6,54.7 794.5,53.7 796.5,54.4C798.6,55.1 796.9,58.9 798.6,60.6C800.3,62.3 806.1,63.0 806.8,64.7C807.4,66.4 804.7,70.1 802.7,70.8C800.6,71.5 796.9,69.8 794.5,68.8C792.1,67.7 789.7,66.7 788.3,64.7C786.9,62.6 784.9,58.2 786.3,56.5Z" fill="#a9a18f"/>
<ellipse cx="796.9" cy="65.7" rx="4.1" ry="1.4" fill="#ffff1e"/>
<path d="M828.3,48.3C830.0,46.7 835.6,46.2 839.6,46.2C843.5,46.2 849.8,47.1 851.9,48.3C853.9,49.5 853.2,52.4 851.9,53.4C850.5,54.4 846.4,53.7 843.7,54.4C840.9,55.1 837.9,57.3 835.5,57.5C833.1,57.7 830.5,57.0 829.3,55.4C828.1,53.9 826.6,49.8 828.3,48.3Z" fill="#a9a18f"/>
<circle cx="829.9" cy="98.9" r="4.1" fill="#a9a18f"/>
<ellipse cx="843.7" cy="77.0" rx="8.2" ry="3.7" fill="#a9a18f"/>
<circle cx="820.1" cy="108.8" r="3.7" fill="#a9a18f"/>
<path d="M855.0,62.6C856.0,60.9 859.2,59.0 862.1,58.5C865.0,58.0 869.3,59.2 872.4,59.5C875.5,59.9 879.1,59.0 880.6,60.6C882.1,62.1 881.6,65.7 881.6,68.8C881.6,71.8 881.1,75.9 880.6,79.0C880.1,82.1 879.7,85.3 878.5,87.2C877.3,89.1 874.8,91.0 873.4,90.3C872.0,89.6 871.9,85.0 870.3,83.1C868.8,81.2 865.9,80.7 864.2,79.0C862.5,77.3 861.5,74.6 860.1,72.9C858.7,71.2 856.8,70.5 856.0,68.8C855.1,67.1 853.9,64.3 855.0,62.6Z" fill="#a9a18f"/>
<circle cx="875.9" cy="66.3" r="2.5" fill="#1f5fe0"/>
<circle cx="893.3" cy="76.4" r="4.5" fill="#a9a18f"/>
<path d="M851.9,46.2C852.7,44.3 856.7,44.3 860.1,44.2C863.5,44.0 868.3,44.5 872.4,45.2C876.5,45.9 880.9,47.2 884.7,48.3C888.5,49.3 891.6,50.6 895.0,51.3C898.3,52.0 903.3,49.8 905.0,52.4C906.7,54.9 906.3,65.2 905.0,66.7C903.7,68.3 899.7,63.0 897.0,61.6C894.3,60.2 891.5,58.7 888.8,58.5C886.1,58.3 883.7,60.6 880.6,60.6C877.5,60.6 873.4,59.0 870.3,58.5C867.3,58.0 864.7,58.0 862.1,57.5C859.6,57.0 856.7,57.3 855.0,55.4C853.2,53.6 851.0,48.1 851.9,46.2Z" fill="#ffff1e"/>
<ellipse cx="875.9" cy="53.4" rx="3.7" ry="5.1" fill="#ff9a0a"/>
<circle cx="858.0" cy="54.8" r="1.2" fill="#ff9a0a"/>
<circle cx="786.3" cy="121.1" r="3.5" fill="#1f5fe0"/>
<circle cx="803.7" cy="121.1" r="3.5" fill="#1f5fe0"/>
<circle cx="794.9" cy="129.7" r="3.7" fill="#1f5fe0"/>
<circle cx="786.3" cy="130.3" r="1.6" fill="#1f5fe0"/>
<circle cx="794.9" cy="120.0" r="2.5" fill="#ffff1e"/>
<circle cx="812.5" cy="120.0" r="2.9" fill="#ffff1e"/>
<circle cx="803.7" cy="109.8" r="2.5" fill="#ffff1e"/>
<circle cx="847.8" cy="129.7" r="3.5" fill="#1f5fe0"/>
<circle cx="857.4" cy="119.6" r="2.1" fill="#1f5fe0"/>
<circle cx="857.4" cy="109.8" r="2.9" fill="#ffff1e"/>
<circle cx="848.8" cy="120.6" r="2.9" fill="#ffff1e"/>
<circle cx="767.4" cy="109.8" r="4.1" fill="#ff9a0a"/>
<circle cx="776.0" cy="119.6" r="3.7" fill="#ff9a0a"/>
<circle cx="786.3" cy="109.8" r="2.5" fill="#ff9a0a"/>
<ellipse cx="767.4" cy="130.3" rx="3.7" ry="5.1" fill="#ff9a0a"/>
<circle cx="759.6" cy="139.9" r="3.7" fill="#ff9a0a"/>
<circle cx="786.3" cy="140.5" r="2.9" fill="#ff9a0a"/>
<ellipse cx="893.9" cy="108.8" rx="3.1" ry="4.5" fill="#ff9a0a"/>
<circle cx="901.1" cy="120.0" r="3.7" fill="#ff9a0a"/>
<path d="M847.8,140.5C848.5,138.9 849.8,135.8 851.9,134.4C853.9,133.0 857.0,132.5 860.1,132.3C863.2,132.2 866.9,133.7 870.3,133.4C873.8,133.0 877.2,131.1 880.6,130.3C884.0,129.4 887.8,127.9 890.8,128.2C893.9,128.6 896.7,132.3 899.1,132.3C901.4,132.3 904.0,126.3 905.0,128.2C906.0,130.2 914.5,141.4 905.0,144.0C895.5,146.7 857.3,144.6 847.8,144.0C838.2,143.4 847.1,142.1 847.8,140.5Z" fill="#ff9a0a"/>
<circle cx="857.0" cy="139.5" r="4.5" fill="#ff3a0e"/>
<circle cx="884.7" cy="140.5" r="2.5" fill="#ff3a0e"/>
<circle cx="821.5" cy="139.9" r="3.7" fill="#ff9a0a"/>
<circle cx="821.5" cy="139.9" r="1.6" fill="#ff3a0e"/>
<ellipse cx="903.2" cy="109.8" rx="3.1" ry="2.1" fill="#1f5fe0"/></g>
<clipPath id="cbpt1"><rect x="600" y="141" width="300" height="100"/></clipPath>
<g clip-path="url(#cbpt1)"><rect x="600" y="141" width="300" height="100" fill="#a9a18f"/>
<path d="M675.5,164.7C675.9,161.8 662.5,145.0 689.9,141.1C717.2,137.1 814.6,139.9 839.6,141.1C864.5,142.3 838.2,146.4 839.6,148.3C840.9,150.1 845.7,150.3 847.8,152.4C849.8,154.4 849.8,157.8 851.9,160.6C853.9,163.3 856.7,167.7 860.1,168.8C863.5,169.8 869.3,167.7 872.4,166.7C875.5,165.7 877.5,161.6 878.5,162.6C879.6,163.6 881.6,170.6 878.5,172.9C875.5,175.1 865.2,175.6 860.1,175.9C855.0,176.3 851.5,175.1 847.8,174.9C844.0,174.7 839.6,176.3 837.5,174.9C835.5,173.5 835.1,169.1 835.5,166.7C835.8,164.3 840.3,162.3 839.6,160.6C838.9,158.9 834.8,157.1 831.4,156.5C828.0,155.8 823.2,156.6 819.1,156.5C815.0,156.3 810.5,154.9 806.8,155.4C803.0,155.9 799.9,158.3 796.5,159.5C793.1,160.7 789.7,161.4 786.3,162.6C782.8,163.8 778.1,164.7 776.0,166.7C773.9,168.8 773.6,172.2 773.9,174.9C774.3,177.6 777.0,180.0 778.1,183.1C779.1,186.2 780.1,190.0 780.1,193.4C780.1,196.8 779.1,201.6 778.1,203.6C777.0,205.7 775.3,206.7 773.9,205.7C772.6,204.7 771.9,200.2 769.8,197.5C767.8,194.7 764.0,191.3 761.6,189.3C759.3,187.2 757.5,186.9 755.5,185.2C753.4,183.5 752.4,180.7 749.3,179.0C746.3,177.3 740.8,175.8 737.0,174.9C733.3,174.1 730.2,173.7 726.8,173.9C723.4,174.1 719.9,175.6 716.5,175.9C713.1,176.3 709.3,177.1 706.3,175.9C703.2,174.7 701.1,171.7 698.1,168.8C695.0,165.9 691.6,159.2 687.8,158.5C684.1,157.8 675.2,167.6 675.5,164.7Z" fill="#ffff1e"/>
<path d="M691.9,141.1C693.3,140.6 700.6,140.2 702.2,141.1C703.7,141.9 702.5,145.7 701.1,146.2C699.8,146.7 695.5,145.0 694.0,144.2C692.4,143.3 690.5,141.6 691.9,141.1Z" fill="#a9a18f"/>
<path d="M728.8,148.3C730.2,146.4 732.9,146.5 735.0,147.2C737.0,147.9 740.8,150.5 741.1,152.4C741.5,154.2 738.1,156.5 737.0,158.5C736.0,160.6 736.4,163.3 735.0,164.7C733.6,166.0 730.2,167.7 728.8,166.7C727.5,165.7 726.8,161.6 726.8,158.5C726.8,155.4 727.5,150.1 728.8,148.3Z" fill="#a9a18f"/>
<circle cx="731.9" cy="151.3" r="2.1" fill="#1f5fe0"/>
<path d="M763.7,150.3C765.1,148.9 768.1,148.6 771.9,148.3C775.7,147.9 783.2,147.6 786.3,148.3C789.3,148.9 791.0,151.2 790.4,152.4C789.7,153.6 785.2,154.6 782.2,155.4C779.1,156.3 774.6,156.3 771.9,157.5C769.2,158.7 767.1,162.8 765.7,162.6C764.4,162.4 764.0,158.5 763.7,156.5C763.4,154.4 762.3,151.7 763.7,150.3Z" fill="#a9a18f"/>
<circle cx="767.4" cy="161.6" r="1.2" fill="#1f5fe0"/>
<circle cx="785.6" cy="151.3" r="1.2" fill="#1f5fe0"/>
<path d="M700.1,168.8C698.8,169.1 705.6,169.8 708.3,170.8C711.1,171.8 714.1,174.2 716.5,174.9C718.9,175.6 720.9,175.6 722.7,174.9C724.5,174.2 727.0,172.2 727.2,170.8C727.4,169.4 725.5,167.1 723.7,166.7C721.9,166.4 720.5,168.4 716.5,168.8C712.6,169.1 701.5,168.4 700.1,168.8Z" fill="#a9a18f"/>
<path d="M835.5,142.1C838.6,141.4 845.0,143.8 847.8,146.2C850.5,148.6 851.9,153.4 851.9,156.5C851.9,159.5 849.8,163.3 847.8,164.7C845.7,166.0 842.0,165.7 839.6,164.7C837.2,163.6 835.1,160.9 833.4,158.5C831.7,156.1 829.0,153.0 829.3,150.3C829.7,147.6 832.4,142.8 835.5,142.1Z" fill="#a9a18f"/>
<circle cx="831.0" cy="151.3" r="2.9" fill="#1f5fe0"/>
<circle cx="839.6" cy="161.0" r="3.1" fill="#1f5fe0"/>
<circle cx="831.0" cy="161.6" r="2.1" fill="#ffff1e"/>
<path d="M668.3,173.9C669.4,171.7 673.3,167.2 675.5,164.7C677.7,162.1 679.3,159.5 681.7,158.5C684.1,157.5 687.5,157.5 689.9,158.5C692.3,159.5 694.1,162.6 696.0,164.7C697.9,166.7 700.6,168.8 701.1,170.8C701.7,172.9 701.7,175.8 699.1,177.0C696.5,178.2 689.7,177.6 685.8,178.0C681.8,178.3 678.2,179.0 675.5,179.0C672.8,179.0 670.6,178.8 669.4,178.0C668.2,177.1 667.3,176.1 668.3,173.9Z" fill="#1f5fe0"/>
<circle cx="713.4" cy="180.0" r="2.1" fill="#1f5fe0"/>
<circle cx="723.3" cy="170.8" r="3.7" fill="#1f5fe0"/>
<circle cx="732.5" cy="170.8" r="3.3" fill="#ffff1e"/>
<path d="M709.3,158.5C709.3,156.3 710.5,154.1 712.4,152.4C714.3,150.6 718.4,148.4 720.6,148.3C722.8,148.1 725.4,149.6 725.8,151.3C726.1,153.0 723.9,156.3 722.7,158.5C721.5,160.7 720.3,163.5 718.6,164.7C716.9,165.9 714.0,166.7 712.4,165.7C710.9,164.7 709.3,160.7 709.3,158.5Z" fill="#ff9a0a"/>
<circle cx="713.9" cy="161.0" r="3.3" fill="#ff3a0e"/>
<ellipse cx="759.6" cy="143.1" rx="3.7" ry="7.2" fill="#ff9a0a"/>
<circle cx="758.6" cy="153.4" r="2.1" fill="#ff9a0a"/>
<ellipse cx="751.4" cy="161.6" rx="5.1" ry="2.5" fill="#ff9a0a"/>
<ellipse cx="759.2" cy="170.8" rx="3.1" ry="4.5" fill="#ff9a0a"/>
<path d="M766.8,184.1C768.0,183.1 768.7,180.6 769.8,181.1C771.0,181.6 772.6,185.5 773.9,187.2C775.3,188.9 778.4,190.1 778.1,191.3C777.7,192.5 773.9,194.4 771.9,194.4C769.8,194.4 767.3,192.5 765.7,191.3C764.2,190.1 762.5,188.4 762.7,187.2C762.8,186.0 765.6,185.2 766.8,184.1Z" fill="#ff9a0a"/>
<circle cx="786.3" cy="141.1" r="2.9" fill="#ff9a0a"/>
<circle cx="795.5" cy="151.3" r="3.7" fill="#ff9a0a"/>
<circle cx="821.5" cy="141.1" r="4.5" fill="#ff9a0a"/>
<circle cx="821.5" cy="141.1" r="1.6" fill="#ff3a0e"/>
<path d="M845.7,141.1C855.3,140.2 895.1,135.4 905.0,141.1C914.9,146.7 907.4,169.3 905.0,174.9C902.6,180.6 894.6,175.6 890.8,174.9C887.1,174.2 884.7,172.9 882.6,170.8C880.6,168.8 879.9,165.3 878.5,162.6C877.2,159.9 876.2,156.5 874.4,154.4C872.7,152.4 871.4,151.0 868.3,150.3C865.2,149.6 859.4,151.0 856.0,150.3C852.6,149.6 849.5,147.7 847.8,146.2C846.1,144.7 836.2,141.9 845.7,141.1Z" fill="#ff9a0a"/>
<circle cx="858.0" cy="142.1" r="5.7" fill="#ff3a0e"/>
<circle cx="884.7" cy="141.1" r="2.5" fill="#ff3a0e"/>
<path d="M881.6,160.6C882.0,159.0 884.5,158.0 886.7,157.5C889.0,157.0 893.1,156.6 895.0,157.5C896.8,158.3 898.0,161.1 898.0,162.6C898.0,164.1 897.2,166.0 895.0,166.7C892.7,167.4 886.9,167.7 884.7,166.7C882.5,165.7 881.3,162.1 881.6,160.6Z" fill="#ff3a0e"/>
<circle cx="882.6" cy="151.3" r="2.1" fill="#ffff1e"/>
<circle cx="866.2" cy="151.3" r="2.1" fill="#a9a18f"/>
<path d="M870.3,170.8C872.4,169.6 877.2,168.1 880.6,168.8C884.0,169.4 886.8,173.7 890.8,174.9C894.9,176.1 902.6,175.1 905.0,175.9C907.4,176.8 907.4,179.5 905.0,180.0C902.6,180.6 895.6,179.5 890.8,179.0C886.1,178.5 880.3,177.5 876.5,177.0C872.7,176.5 869.3,177.0 868.3,175.9C867.3,174.9 868.3,172.0 870.3,170.8Z" fill="#ffff1e"/>
<circle cx="876.1" cy="191.3" r="3.7" fill="#1f5fe0"/>
<circle cx="903.2" cy="191.7" r="2.1" fill="#1f5fe0"/>
<circle cx="857.0" cy="192.3" r="5.1" fill="#ffff1e"/>
<circle cx="831.0" cy="190.9" r="4.5" fill="#ffff1e"/>
<circle cx="840.6" cy="202.6" r="4.1" fill="#ffff1e"/>
<circle cx="848.8" cy="199.5" r="3.7" fill="#ffff1e"/>
<path d="M862.1,199.5C869.6,197.6 897.9,191.0 905.0,196.4C912.1,201.9 907.4,226.2 905.0,232.3C902.6,238.5 895.3,233.9 890.8,233.4C886.4,232.9 881.6,231.1 878.5,229.3C875.5,227.4 874.1,224.1 872.4,222.1C870.7,220.0 870.0,218.0 868.3,217.0C866.6,215.9 863.5,217.5 862.1,215.9C860.8,214.4 860.1,210.5 860.1,207.7C860.1,205.0 854.7,201.4 862.1,199.5Z" fill="#ffff1e"/>
<path d="M827.3,222.1C827.6,220.5 829.3,218.3 831.4,217.0C833.4,215.7 836.2,214.7 839.6,214.3C843.0,213.8 848.5,213.8 851.9,214.3C855.3,214.7 858.5,214.6 860.1,217.0C861.6,219.3 861.1,224.3 861.1,228.2C861.1,232.2 861.6,238.3 860.1,240.5C858.5,242.8 854.3,242.1 851.9,241.6C849.5,241.1 847.3,239.3 845.7,237.5C844.2,235.6 844.4,231.8 842.7,230.3C840.9,228.8 837.7,228.9 835.5,228.2C833.3,227.6 830.7,227.2 829.3,226.2C828.0,225.2 826.9,223.6 827.3,222.1Z" fill="#ffff1e"/>
<path d="M870.3,209.8C871.2,207.9 874.4,205.3 876.5,203.6C878.5,201.9 880.6,199.9 882.6,199.5C884.7,199.2 887.4,200.2 888.8,201.6C890.2,202.9 890.2,205.7 890.8,207.7C891.5,209.8 893.6,212.2 892.9,213.9C892.2,215.6 889.5,217.5 886.7,218.0C884.0,218.5 879.1,217.5 876.5,217.0C873.9,216.4 872.4,216.1 871.4,214.9C870.3,213.7 869.5,211.7 870.3,209.8Z" fill="#ff9a0a"/>
<circle cx="876.1" cy="211.4" r="2.1" fill="#ff3a0e"/>
<circle cx="884.3" cy="211.4" r="2.9" fill="#ff3a0e"/>
<circle cx="901.1" cy="211.4" r="2.5" fill="#ff9a0a"/>
<path d="M870.3,244.0C864.9,242.8 870.7,238.0 872.4,236.4C874.1,234.8 877.5,234.4 880.6,234.4C883.7,234.4 886.8,235.8 890.8,236.4C894.9,237.1 902.6,237.2 905.0,238.5C907.4,239.8 910.8,243.1 905.0,244.0C899.2,245.0 875.8,245.3 870.3,244.0Z" fill="#1f5fe0"/>
<circle cx="786.3" cy="171.8" r="2.1" fill="#1f5fe0"/>
<circle cx="786.3" cy="181.5" r="3.3" fill="#1f5fe0"/>
<circle cx="812.5" cy="181.5" r="2.5" fill="#1f5fe0"/>
<circle cx="821.1" cy="202.0" r="4.1" fill="#1f5fe0"/>
<circle cx="804.3" cy="211.8" r="4.7" fill="#1f5fe0"/>
<circle cx="786.3" cy="211.4" r="3.3" fill="#1f5fe0"/>
<circle cx="794.9" cy="230.7" r="2.9" fill="#1f5fe0"/>
<circle cx="812.5" cy="230.3" r="3.7" fill="#1f5fe0"/>
<circle cx="821.1" cy="239.5" r="3.7" fill="#1f5fe0"/>
<circle cx="794.9" cy="239.9" r="2.5" fill="#1f5fe0"/>
<ellipse cx="776.6" cy="235.4" rx="4.1" ry="8.2" fill="#1f5fe0"/>
<circle cx="803.7" cy="191.7" r="2.5" fill="#ffff1e"/>
<circle cx="794.9" cy="201.6" r="4.1" fill="#ffff1e"/>
<circle cx="822.1" cy="211.8" r="2.1" fill="#ffff1e"/>
<circle cx="776.4" cy="221.1" r="3.7" fill="#ffff1e"/>
<circle cx="803.7" cy="231.3" r="2.1" fill="#ffff1e"/>
<circle cx="812.5" cy="239.9" r="2.9" fill="#ffff1e"/>
<circle cx="767.4" cy="239.5" r="2.1" fill="#ffff1e"/></g>
<clipPath id="cbpt2"><rect x="600" y="241" width="300" height="100"/></clipPath>
<g clip-path="url(#cbpt2)"><rect x="600" y="241" width="300" height="100" fill="#a9a18f"/>
<path d="M689.9,292.3C690.0,290.6 693.3,289.3 696.0,288.2C698.8,287.2 703.2,286.7 706.3,286.2C709.3,285.7 712.1,284.5 714.5,285.2C716.9,285.9 718.6,288.9 720.6,290.3C722.7,291.7 724.6,292.3 726.8,293.4C729.0,294.4 732.9,295.1 734.0,296.4C735.0,297.8 734.5,300.2 732.9,301.6C731.4,302.9 727.8,303.8 724.7,304.7C721.7,305.5 717.6,306.2 714.5,306.7C711.4,307.2 708.8,308.1 706.3,307.7C703.7,307.4 701.0,306.2 699.1,304.7C697.2,303.1 696.5,300.6 695.0,298.5C693.5,296.4 689.7,294.1 689.9,292.3Z" fill="#1f5fe0"/>
<circle cx="704.2" cy="304.7" r="2.5" fill="#ffff1e"/>
<path d="M756.5,305.7C757.0,304.3 761.3,302.9 763.7,302.6C766.1,302.3 769.3,302.4 770.9,303.6C772.4,304.8 773.1,307.6 772.9,309.8C772.8,312.0 771.4,315.9 769.8,317.0C768.3,318.0 765.2,317.0 763.7,315.9C762.2,314.9 761.8,312.5 760.6,310.8C759.4,309.1 756.0,307.0 756.5,305.7Z" fill="#1f5fe0"/>
<path d="M737.0,315.9C738.4,313.4 740.5,313.2 743.2,312.9C745.9,312.5 752.1,312.9 753.4,313.9C754.8,314.9 752.8,318.0 751.4,319.0C750.0,320.0 746.9,319.2 745.2,320.0C743.5,320.9 742.2,322.4 741.1,324.1C740.1,325.8 740.1,329.6 739.1,330.3C738.1,331.0 735.3,330.6 735.0,328.2C734.6,325.8 735.7,318.5 737.0,315.9Z" fill="#1f5fe0"/>
<circle cx="748.3" cy="332.7" r="3.7" fill="#1f5fe0"/>
<ellipse cx="766.8" cy="250.3" rx="5.1" ry="3.7" fill="#1f5fe0"/>
<ellipse cx="777.4" cy="241.1" rx="4.5" ry="5.1" fill="#1f5fe0"/>
<circle cx="758.6" cy="259.1" r="2.7" fill="#1f5fe0"/>
<circle cx="794.9" cy="240.5" r="2.1" fill="#1f5fe0"/>
<circle cx="812.5" cy="249.9" r="3.1" fill="#1f5fe0"/>
<circle cx="821.1" cy="240.5" r="2.9" fill="#1f5fe0"/>
<circle cx="785.2" cy="268.8" r="3.3" fill="#1f5fe0"/>
<ellipse cx="776.6" cy="281.1" rx="3.7" ry="8.2" fill="#1f5fe0"/>
<circle cx="759.0" cy="287.2" r="3.1" fill="#1f5fe0"/>
<circle cx="750.4" cy="287.2" r="1.8" fill="#1f5fe0"/>
<circle cx="731.9" cy="278.0" r="1.4" fill="#1f5fe0"/>
<path d="M819.1,287.2C820.1,285.6 822.8,284.0 825.2,283.5C827.6,283.0 831.7,283.0 833.4,284.1C835.1,285.3 834.1,288.6 835.5,290.3C836.8,292.0 840.8,292.9 841.6,294.4C842.5,295.9 842.0,298.8 840.6,299.5C839.2,300.2 835.6,299.2 833.4,298.5C831.2,297.8 829.2,295.6 827.3,295.4C825.4,295.3 823.5,297.8 822.1,297.5C820.8,297.1 819.6,295.1 819.1,293.4C818.6,291.7 818.0,288.9 819.1,287.2Z" fill="#1f5fe0"/>
<circle cx="831.0" cy="269.8" r="3.7" fill="#1f5fe0"/>
<circle cx="866.2" cy="287.8" r="2.5" fill="#1f5fe0"/>
<ellipse cx="880.0" cy="278.0" rx="9.2" ry="4.5" fill="#1f5fe0"/>
<circle cx="866.9" cy="268.8" r="1.6" fill="#1f5fe0"/>
<circle cx="903.2" cy="278.0" r="2.1" fill="#1f5fe0"/>
<path d="M870.3,241.1C871.4,239.7 874.8,238.5 880.6,238.0C886.4,237.5 900.9,235.9 905.0,238.0C909.1,240.1 906.3,247.9 905.0,250.3C903.7,252.7 899.7,252.5 897.0,252.4C894.3,252.2 891.2,250.5 888.8,249.3C886.4,248.1 885.0,245.7 882.6,245.2C880.3,244.7 876.5,246.9 874.4,246.2C872.4,245.5 869.3,242.4 870.3,241.1Z" fill="#1f5fe0"/>
<circle cx="803.7" cy="324.1" r="3.3" fill="#1f5fe0"/>
<circle cx="831.0" cy="314.9" r="1.6" fill="#1f5fe0"/>
<circle cx="866.9" cy="315.5" r="2.5" fill="#1f5fe0"/>
<circle cx="803.7" cy="340.5" r="2.9" fill="#1f5fe0"/>
<circle cx="786.3" cy="341.6" r="1.4" fill="#1f5fe0"/>
<path d="M882.6,336.4C883.7,333.8 885.4,331.3 886.7,328.2C888.1,325.2 889.7,320.5 890.8,318.0C892.0,315.4 892.6,313.2 893.9,312.9C895.3,312.5 897.9,314.1 899.1,315.9C900.2,317.8 900.1,321.7 901.1,324.1C902.1,326.5 904.4,327.0 905.0,330.3C905.6,333.6 909.1,341.7 905.0,344.0C900.9,346.3 884.3,345.3 880.6,344.0C876.9,342.8 881.6,339.1 882.6,336.4Z" fill="#1f5fe0"/>
<circle cx="848.8" cy="250.3" r="1.6" fill="#1f5fe0"/>
<path d="M719.6,277.0C720.1,275.4 721.5,273.0 723.7,271.8C725.9,270.6 730.7,270.8 732.9,269.8C735.2,268.8 735.0,266.5 737.0,265.7C739.1,264.8 743.2,263.8 745.2,264.7C747.3,265.5 748.5,268.8 749.3,270.8C750.2,272.9 749.7,275.4 750.4,277.0C751.0,278.5 753.6,278.8 753.4,280.0C753.3,281.2 750.7,282.9 749.3,284.1C748.0,285.3 746.4,286.0 745.2,287.2C744.0,288.4 743.5,291.0 742.2,291.3C740.8,291.7 738.2,290.8 737.0,289.3C735.8,287.7 736.7,283.3 735.0,282.1C733.3,280.9 729.2,282.3 726.8,282.1C724.4,281.9 721.8,281.9 720.6,281.1C719.4,280.2 719.1,278.5 719.6,277.0Z" fill="#ffff1e"/>
<circle cx="731.9" cy="278.0" r="1.4" fill="#1f5fe0"/>
<circle cx="750.0" cy="297.5" r="3.7" fill="#ffff1e"/>
<circle cx="731.9" cy="305.7" r="1.6" fill="#ffff1e"/>
<circle cx="777.0" cy="259.1" r="2.1" fill="#ffff1e"/>
<circle cx="795.1" cy="249.9" r="2.5" fill="#ffff1e"/>
<circle cx="812.5" cy="240.5" r="2.5" fill="#ffff1e"/>
<circle cx="767.4" cy="240.5" r="2.1" fill="#ffff1e"/>
<path d="M791.4,266.7C792.7,264.5 797.0,264.3 798.6,265.7C800.1,267.1 800.3,271.0 800.6,274.9C801.0,278.8 799.6,286.2 800.6,289.3C801.6,292.3 804.4,292.3 806.8,293.4C809.2,294.4 813.6,294.1 815.0,295.4C816.3,296.8 816.3,300.2 815.0,301.6C813.6,302.9 809.2,302.6 806.8,303.6C804.4,304.7 802.7,306.5 800.6,307.7C798.6,308.9 796.9,310.5 794.5,310.8C792.1,311.1 788.3,311.0 786.3,309.8C784.2,308.6 782.8,306.0 782.2,303.6C781.5,301.2 781.1,297.5 782.2,295.4C783.2,293.4 786.9,294.1 788.3,291.3C789.7,288.6 789.8,283.1 790.4,279.0C790.9,274.9 790.0,268.9 791.4,266.7Z" fill="#ffff1e"/>
<circle cx="795.1" cy="296.4" r="3.7" fill="#a9a18f"/>
<circle cx="795.1" cy="305.7" r="1.6" fill="#ff9a0a"/>
<path d="M836.5,277.0C837.0,275.3 839.1,273.5 840.6,271.8C842.1,270.1 843.9,267.7 845.7,266.7C847.6,265.7 850.0,264.7 851.9,265.7C853.8,266.7 855.6,270.3 857.0,272.9C858.4,275.4 860.3,278.7 860.1,281.1C859.9,283.5 858.0,285.9 856.0,287.2C853.9,288.6 850.2,289.4 847.8,289.3C845.4,289.1 843.3,287.4 841.6,286.2C839.9,285.0 838.4,283.6 837.5,282.1C836.7,280.6 836.0,278.7 836.5,277.0Z" fill="#ffff1e"/>
<circle cx="848.8" cy="278.6" r="1.4" fill="#ff9a0a"/>
<path d="M851.9,241.1C854.3,238.9 865.2,239.5 868.3,241.1C871.4,242.6 868.3,248.3 870.3,250.3C872.4,252.4 876.2,252.7 880.6,253.4C885.0,254.1 892.9,254.4 897.0,254.4C901.1,254.4 903.7,251.3 905.0,253.4C906.3,255.4 907.4,264.8 905.0,266.7C902.6,268.6 894.9,265.3 890.8,264.7C886.8,264.0 884.0,262.6 880.6,262.6C877.2,262.6 873.8,264.7 870.3,264.7C866.9,264.7 862.8,264.3 860.1,262.6C857.4,260.9 855.3,258.0 853.9,254.4C852.6,250.8 849.5,243.3 851.9,241.1Z" fill="#ffff1e"/>
<circle cx="857.6" cy="259.5" r="2.1" fill="#ff9a0a"/>
<circle cx="832.4" cy="258.5" r="2.9" fill="#ffff1e"/>
<path d="M872.4,287.2C872.4,285.3 877.5,284.8 880.6,284.1C883.7,283.5 886.8,283.6 890.8,283.1C894.9,282.6 902.6,278.3 905.0,281.1C907.4,283.8 906.7,296.8 905.0,299.5C903.3,302.3 898.0,297.5 895.0,297.5C891.9,297.5 889.1,299.9 886.7,299.5C884.4,299.2 883.0,297.5 880.6,295.4C878.2,293.4 872.4,289.1 872.4,287.2Z" fill="#ffff1e"/>
<circle cx="902.1" cy="287.8" r="2.1" fill="#ff9a0a"/>
<path d="M810.9,320.0C811.9,318.0 815.7,318.0 817.0,315.9C818.4,313.9 817.7,309.4 819.1,307.7C820.4,306.0 822.5,306.4 825.2,305.7C828.0,305.0 831.4,304.7 835.5,303.6C839.6,302.6 845.0,300.7 849.8,299.5C854.6,298.3 860.1,297.5 864.2,296.4C868.3,295.4 871.7,293.2 874.4,293.4C877.2,293.5 880.3,296.1 880.6,297.5C880.9,298.8 879.2,300.2 876.5,301.6C873.8,302.9 866.9,304.0 864.2,305.7C861.5,307.4 860.1,309.4 860.1,311.8C860.1,314.2 864.2,318.0 864.2,320.0C864.2,322.1 862.8,323.1 860.1,324.1C857.4,325.2 847.8,325.5 847.8,326.2C847.8,326.9 856.3,327.6 860.1,328.2C863.8,328.9 869.0,328.9 870.3,330.3C871.7,331.7 870.7,335.1 868.3,336.4C865.9,337.8 859.4,337.8 856.0,338.5C852.6,339.2 850.5,339.6 847.8,340.5C845.0,341.5 844.7,343.4 839.6,344.0C834.5,344.6 821.1,345.6 817.0,344.0C812.9,342.4 816.0,337.0 815.0,334.4C813.9,331.8 811.5,330.6 810.9,328.2C810.2,325.8 809.8,322.1 810.9,320.0Z" fill="#ffff1e"/>
<ellipse cx="840.2" cy="317.0" rx="3.5" ry="6.2" fill="#ff9a0a"/>
<circle cx="840.2" cy="324.1" r="2.1" fill="#ff9a0a"/>
<circle cx="857.6" cy="333.4" r="2.9" fill="#ff9a0a"/>
<circle cx="839.6" cy="340.5" r="3.3" fill="#ff9a0a"/>
<circle cx="822.1" cy="340.5" r="5.3" fill="#ff9a0a"/>
<circle cx="822.1" cy="340.5" r="4.1" fill="#ff3a0e"/>
<circle cx="866.9" cy="333.4" r="1.4" fill="#ff9a0a"/>
<circle cx="831.0" cy="314.9" r="1.6" fill="#1f5fe0"/>
<circle cx="884.7" cy="314.9" r="2.9" fill="#ffff1e"/>
<path d="M790.4,320.0C791.4,318.3 797.2,317.0 798.6,318.0C799.9,319.0 799.6,324.5 798.6,326.2C797.5,327.9 793.8,329.3 792.4,328.2C791.0,327.2 789.3,321.7 790.4,320.0Z" fill="#ffff1e"/>
<path d="M760.6,323.1C761.6,321.7 768.0,320.4 769.8,321.1C771.7,321.7 772.9,325.8 771.9,327.2C770.9,328.6 765.6,329.9 763.7,329.3C761.8,328.6 759.6,324.5 760.6,323.1Z" fill="#ffff1e"/>
<circle cx="776.0" cy="340.5" r="3.7" fill="#ffff1e"/>
<circle cx="795.1" cy="341.6" r="1.6" fill="#ffff1e"/></g>
<clipPath id="cbpt3"><rect x="600" y="341" width="305" height="89"/></clipPath>
<g clip-path="url(#cbpt3)"><rect x="600" y="341" width="305" height="89" fill="#a9a18f"/>
<path d="M749.3,344.6C749.7,343.4 753.4,342.9 755.5,343.6C757.5,344.3 759.8,347.0 761.6,348.7C763.5,350.4 765.4,352.0 766.8,353.8C768.1,355.7 770.0,358.8 769.8,360.0C769.7,361.2 767.1,361.9 765.7,361.0C764.4,360.2 763.7,356.6 761.6,354.9C759.6,353.2 755.5,352.5 753.4,350.8C751.4,349.1 749.0,345.8 749.3,344.6Z" fill="#1f5fe0"/>
<ellipse cx="777.0" cy="349.7" rx="5.1" ry="11.3" fill="#ffff1e"/>
<circle cx="777.4" cy="360.0" r="1.6" fill="#ff9a0a"/>
<circle cx="785.2" cy="359.0" r="1.2" fill="#ff9a0a"/>
<circle cx="786.3" cy="350.8" r="2.9" fill="#1f5fe0"/>
<circle cx="786.3" cy="342.1" r="1.6" fill="#1f5fe0"/>
<circle cx="803.7" cy="341.5" r="3.3" fill="#1f5fe0"/>
<path d="M815.0,339.5C821.8,338.3 853.9,338.6 860.1,339.5C866.2,340.3 854.3,342.7 851.9,344.6C849.5,346.5 847.1,348.7 845.7,350.8C844.4,352.8 842.7,356.1 843.7,356.9C844.7,357.8 849.1,355.7 851.9,355.9C854.6,356.1 858.0,356.4 860.1,357.9C862.1,359.5 864.2,362.9 864.2,365.1C864.2,367.3 862.1,369.6 860.1,371.3C858.0,373.0 855.3,374.0 851.9,375.4C848.5,376.7 843.3,378.1 839.6,379.5C835.8,380.8 832.7,382.2 829.3,383.6C825.9,384.9 821.8,388.0 819.1,387.7C816.3,387.3 813.6,383.9 812.9,381.5C812.2,379.1 813.3,375.7 815.0,373.3C816.7,370.9 820.8,369.2 823.2,367.2C825.6,365.1 828.0,363.1 829.3,361.0C830.7,359.0 831.7,356.9 831.4,354.9C831.0,352.8 829.3,350.1 827.3,348.7C825.2,347.3 821.1,348.2 819.1,346.7C817.0,345.1 808.1,340.7 815.0,339.5Z" fill="#ffff1e"/>
<circle cx="821.5" cy="341.5" r="5.3" fill="#ff9a0a"/>
<circle cx="821.5" cy="341.5" r="3.7" fill="#ff3a0e"/>
<circle cx="831.0" cy="350.8" r="2.9" fill="#1f5fe0"/>
<circle cx="839.6" cy="341.5" r="3.5" fill="#ff9a0a"/>
<circle cx="831.0" cy="342.6" r="1.6" fill="#a9a18f"/>
<path d="M819.1,370.2C819.4,369.0 822.8,371.8 825.2,372.3C827.6,372.8 830.3,373.5 833.4,373.3C836.5,373.2 840.9,372.5 843.7,371.3C846.4,370.1 848.5,368.0 849.8,366.1C851.2,364.3 850.5,361.4 851.9,360.0C853.2,358.6 856.3,357.4 858.0,357.9C859.7,358.5 861.6,361.0 862.1,363.1C862.6,365.1 862.8,368.3 861.1,370.2C859.4,372.2 855.5,373.4 851.9,375.0C848.3,376.5 843.3,378.0 839.6,379.5C835.8,380.9 832.1,383.6 829.3,383.6C826.6,383.6 824.9,381.7 823.2,379.5C821.5,377.3 818.7,371.4 819.1,370.2Z" fill="#ff9a0a"/>
<circle cx="857.0" cy="368.2" r="3.7" fill="#ff3a0e"/>
<circle cx="821.5" cy="369.2" r="2.1" fill="#ff3a0e"/>
<circle cx="847.8" cy="359.0" r="2.1" fill="#a9a18f"/>
<circle cx="857.6" cy="350.8" r="2.5" fill="#1f5fe0"/>
<path d="M880.6,339.5C884.7,338.6 900.9,337.6 905.0,339.5C909.1,341.4 906.3,348.2 905.0,350.8C903.7,353.3 899.7,353.7 897.0,354.9C894.3,356.1 891.5,356.9 888.8,357.9C886.1,359.0 883.0,360.7 880.6,361.0C878.2,361.4 875.1,360.8 874.4,360.0C873.8,359.1 874.8,357.1 876.5,355.9C878.2,354.7 883.0,354.4 884.7,352.8C886.4,351.3 887.4,348.0 886.7,346.7C886.1,345.3 881.6,345.8 880.6,344.6C879.6,343.4 876.5,340.3 880.6,339.5Z" fill="#1f5fe0"/>
<path d="M864.2,368.2C864.9,367.2 869.7,365.5 872.4,365.1C875.1,364.8 879.9,365.3 880.6,366.1C881.3,367.0 878.5,369.4 876.5,370.2C874.4,371.1 870.3,371.6 868.3,371.3C866.2,370.9 863.5,369.2 864.2,368.2Z" fill="#ffff1e"/></g>
<clipPath id="cbpt4"><rect x="900" y="0" width="250" height="141"/></clipPath>
<g clip-path="url(#cbpt4)"><rect x="900" y="0" width="250" height="141" fill="#ffff1e"/>
<path d="M895.0,72.3C896.4,69.1 903.5,70.9 907.3,71.3C911.1,71.6 914.5,72.8 917.6,74.4C920.6,75.9 923.9,78.5 925.8,80.5C927.6,82.6 928.8,84.4 928.8,86.7C928.8,88.9 927.0,91.4 925.8,93.8C924.6,96.2 922.5,97.8 921.7,101.0C920.8,104.3 921.7,110.6 920.6,113.3C919.6,116.1 917.4,117.1 915.5,117.4C913.6,117.8 910.7,117.1 909.4,115.4C908.0,113.7 906.6,109.6 907.3,107.2C908.0,104.8 912.1,103.4 913.5,101.0C914.8,98.6 916.5,94.5 915.5,92.8C914.5,91.1 910.0,91.1 907.3,90.8C904.6,90.4 901.2,93.8 899.1,90.8C897.1,87.7 893.6,75.6 895.0,72.3Z" fill="#a9a18f"/>
<path d="M895.0,78.5C895.7,75.7 897.4,75.0 899.1,74.4C900.8,73.7 903.9,73.3 905.3,74.4C906.6,75.4 905.9,78.8 907.3,80.5C908.7,82.2 912.8,83.1 913.5,84.6C914.1,86.1 913.1,88.9 911.4,89.7C909.7,90.6 905.9,89.6 903.2,89.7C900.5,89.9 896.4,92.6 895.0,90.8C893.6,88.9 894.3,81.2 895.0,78.5Z" fill="#1f5fe0"/>
<path d="M925.8,86.7C926.1,85.0 929.2,83.4 930.9,83.6C932.6,83.8 934.6,86.0 936.0,87.7C937.4,89.4 938.1,91.4 939.1,93.8C940.1,96.2 942.1,100.5 941.8,102.0C941.4,103.6 938.3,103.9 937.0,103.1C935.7,102.2 935.3,98.5 934.0,96.9C932.6,95.4 930.2,95.5 928.8,93.8C927.5,92.1 925.4,88.4 925.8,86.7Z" fill="#1f5fe0"/>
<circle cx="920.2" cy="87.7" r="2.9" fill="#ffff1e"/>
<circle cx="910.4" cy="109.2" r="4.1" fill="#1f5fe0"/>
<circle cx="903.2" cy="109.2" r="2.5" fill="#1f5fe0"/>
<circle cx="929.9" cy="109.8" r="2.9" fill="#ff9a0a"/>
<circle cx="938.1" cy="109.8" r="1.6" fill="#ff9a0a"/>
<circle cx="902.2" cy="99.0" r="2.1" fill="#ff9a0a"/>
<ellipse cx="901.2" cy="121.5" rx="3.1" ry="5.1" fill="#ff9a0a"/>
<path d="M899.9,129.7C901.2,127.2 904.0,126.1 907.3,125.6C910.6,125.1 916.9,125.8 919.6,126.7C922.3,127.5 923.7,129.4 923.7,130.8C923.7,132.1 921.3,133.7 919.6,134.9C917.9,136.1 915.5,136.9 913.5,137.9C911.4,139.0 909.6,140.5 907.3,141.0C905.0,141.5 901.2,142.9 899.9,141.0C898.7,139.1 898.7,132.3 899.9,129.7Z" fill="#ff9a0a"/>
<path d="M926.8,135.9C927.3,133.8 928.3,131.4 929.9,129.7C931.4,128.0 934.0,125.8 936.0,125.6C938.0,125.5 940.9,127.2 941.8,128.7C942.6,130.2 942.3,133.1 941.1,134.9C940.0,136.6 936.5,137.6 935.0,139.0C933.5,140.3 933.3,142.5 931.9,143.1C930.5,143.6 927.6,143.2 926.8,142.0C925.9,140.8 926.3,137.9 926.8,135.9Z" fill="#a9a18f"/>
<circle cx="938.1" cy="130.8" r="2.1" fill="#1f5fe0"/>
<circle cx="948.7" cy="130.3" r="3.5" fill="#ff9a0a"/>
<circle cx="946.9" cy="140.6" r="2.5" fill="#a9a18f"/>
<path d="M974.0,139.0C975.3,136.8 981.3,137.0 985.2,137.5C989.2,138.0 994.1,141.3 997.5,142.0C1001.0,142.8 1003.0,140.7 1005.7,142.0C1008.5,143.4 1018.7,148.9 1013.9,150.2C1009.2,151.6 983.7,152.1 977.0,150.2C970.4,148.4 972.6,141.1 974.0,139.0Z" fill="#a9a18f"/></g>
<clipPath id="cbpt5"><rect x="900" y="141" width="250" height="100"/></clipPath>
<g clip-path="url(#cbpt5)"><rect x="900" y="141" width="250" height="100" fill="#a9a18f"/>
<path d="M899.9,141.1C912.9,141.1 960.3,139.5 972.9,141.1C985.6,142.6 975.7,147.1 976.0,150.3C976.4,153.6 976.2,157.8 975.0,160.6C973.8,163.3 971.2,165.3 968.8,166.7C966.4,168.1 962.7,167.4 960.6,168.8C958.6,170.1 958.2,173.2 956.5,174.9C954.8,176.6 952.4,178.5 950.4,179.0C948.3,179.5 946.6,177.5 944.2,178.0C941.8,178.5 938.4,180.6 936.0,182.1C933.6,183.6 931.9,186.5 929.9,187.2C927.8,187.9 925.4,187.6 923.7,186.2C922.0,184.8 921.0,180.9 919.6,179.0C918.2,177.1 917.2,174.9 915.5,174.9C913.8,174.9 911.4,178.5 909.4,179.0C907.3,179.5 905.6,178.3 903.2,178.0C900.8,177.6 896.4,183.1 895.0,177.0C893.6,170.8 894.2,147.1 895.0,141.1C895.8,135.1 886.9,141.1 899.9,141.1Z" fill="#ffff1e"/>
<circle cx="929.9" cy="140.1" r="2.9" fill="#a9a18f"/>
<circle cx="947.3" cy="140.5" r="2.9" fill="#a9a18f"/>
<circle cx="920.6" cy="171.8" r="2.5" fill="#a9a18f"/>
<circle cx="938.1" cy="171.8" r="2.1" fill="#a9a18f"/>
<circle cx="956.5" cy="161.6" r="1.6" fill="#a9a18f"/>
<circle cx="919.6" cy="181.5" r="3.7" fill="#a9a18f"/>
<path d="M895.0,146.2C897.1,141.1 903.9,143.8 907.3,144.2C910.7,144.5 912.4,146.5 915.5,148.3C918.6,150.0 922.3,153.7 925.8,154.4C929.2,155.1 932.9,153.6 936.0,152.4C939.1,151.2 941.1,148.1 944.2,147.2C947.3,146.4 951.9,146.4 954.5,147.2C957.0,148.1 959.6,150.5 959.6,152.4C959.6,154.2 956.0,156.5 954.5,158.5C952.9,160.6 951.4,162.3 950.4,164.7C949.3,167.1 949.5,171.5 948.3,172.9C947.1,174.2 944.2,174.2 943.2,172.9C942.2,171.5 943.4,166.7 942.2,164.7C941.0,162.6 938.4,160.6 936.0,160.6C933.6,160.6 930.5,164.7 927.8,164.7C925.1,164.7 922.3,160.9 919.6,160.6C916.9,160.2 913.1,160.9 911.4,162.6C909.7,164.3 910.7,168.8 909.4,170.8C908.0,172.9 905.6,174.2 903.2,174.9C900.8,175.6 896.4,179.7 895.0,174.9C893.6,170.1 892.9,151.3 895.0,146.2Z" fill="#ff9a0a"/>
<circle cx="895.0" cy="161.6" r="4.1" fill="#ff3a0e"/>
<circle cx="929.9" cy="181.1" r="3.3" fill="#ff9a0a"/>
<circle cx="902.6" cy="151.3" r="2.5" fill="#ffff1e"/>
<path d="M895.0,197.5C897.1,191.3 903.9,195.1 907.3,195.4C910.7,195.8 913.1,198.2 915.5,199.5C917.9,200.9 920.3,201.6 921.7,203.6C923.0,205.7 923.7,209.1 923.7,211.8C923.7,214.6 923.0,217.6 921.7,220.0C920.3,222.4 917.9,224.5 915.5,226.2C913.1,227.9 910.7,229.3 907.3,230.3C903.9,231.3 897.1,237.8 895.0,232.3C892.9,226.9 892.9,203.6 895.0,197.5Z" fill="#ffff1e"/>
<circle cx="901.8" cy="211.4" r="2.1" fill="#ff9a0a"/>
<path d="M915.5,193.4C916.2,191.3 921.0,187.9 923.7,187.2C926.4,186.5 931.6,187.6 931.9,189.3C932.3,191.0 927.8,195.8 925.8,197.5C923.7,199.2 921.3,200.2 919.6,199.5C917.9,198.8 914.8,195.4 915.5,193.4Z" fill="#ffff1e"/>
<path d="M937.0,201.6C937.7,200.0 940.1,198.3 942.2,197.5C944.2,196.6 947.5,195.8 949.3,196.4C951.2,197.1 952.9,199.7 953.4,201.6C954.0,203.5 952.4,205.7 952.4,207.7C952.4,209.8 954.3,212.5 953.4,213.9C952.6,215.2 949.0,216.4 947.3,215.9C945.6,215.4 944.7,212.3 943.2,210.8C941.7,209.3 939.1,208.2 938.1,206.7C937.0,205.2 936.4,203.1 937.0,201.6Z" fill="#ffff1e"/>
<circle cx="947.3" cy="202.6" r="1.6" fill="#ff9a0a"/>
<circle cx="965.3" cy="201.6" r="4.5" fill="#ffff1e"/>
<circle cx="965.3" cy="201.6" r="1.2" fill="#ff9a0a"/>
<circle cx="965.3" cy="221.1" r="3.3" fill="#ffff1e"/>
<circle cx="956.5" cy="230.9" r="2.5" fill="#ffff1e"/>
<circle cx="956.5" cy="239.9" r="2.9" fill="#ffff1e"/>
<path d="M1016.0,182.1C1016.3,180.6 1017.7,178.8 1020.1,178.0C1022.5,177.1 1027.3,176.5 1030.4,177.0C1033.4,177.5 1036.5,179.7 1038.6,181.1C1040.6,182.4 1043.0,183.9 1042.7,185.2C1042.3,186.5 1039.2,188.2 1036.5,188.9C1033.8,189.5 1029.3,189.5 1026.3,189.3C1023.2,189.0 1019.8,188.4 1018.1,187.2C1016.3,186.0 1015.7,183.6 1016.0,182.1Z" fill="#ffff1e"/>
<circle cx="1001.6" cy="151.3" r="3.7" fill="#ffff1e"/>
<circle cx="992.4" cy="171.8" r="3.7" fill="#ffff1e"/>
<path d="M972.9,228.2C973.1,225.8 975.0,222.4 977.0,220.0C979.1,217.6 982.5,215.9 985.2,213.9C988.0,211.8 991.0,209.8 993.4,207.7C995.8,205.7 996.9,202.9 999.6,201.6C1002.3,200.2 1006.4,199.4 1009.8,199.5C1013.3,199.7 1017.4,201.2 1020.1,202.6C1022.8,204.0 1025.2,205.5 1026.3,207.7C1027.3,210.0 1026.9,213.2 1026.3,215.9C1025.6,218.7 1022.2,222.1 1022.2,224.1C1022.2,226.2 1024.9,226.5 1026.3,228.2C1027.6,229.9 1030.4,231.8 1030.4,234.4C1030.4,237.0 1030.4,242.4 1026.3,244.0C1022.2,245.6 1009.0,245.6 1005.7,244.0C1002.5,242.4 1008.1,236.3 1006.8,234.4C1005.4,232.4 1000.1,232.0 997.5,232.3C995.0,232.7 993.8,235.4 991.4,236.4C989.0,237.5 985.8,238.8 983.2,238.5C980.6,238.2 977.7,236.1 976.0,234.4C974.3,232.7 972.8,230.6 972.9,228.2Z" fill="#ffff1e"/>
<path d="M997.5,211.8C997.2,210.3 999.9,207.9 1001.6,207.7C1003.4,207.6 1006.1,209.6 1007.8,210.8C1009.5,212.0 1010.5,215.2 1011.9,214.9C1013.3,214.6 1014.5,210.0 1016.0,208.8C1017.5,207.6 1019.8,207.0 1021.1,207.7C1022.5,208.4 1024.4,211.0 1024.2,212.9C1024.0,214.7 1021.8,217.5 1020.1,219.0C1018.4,220.5 1015.7,221.1 1013.9,222.1C1012.2,223.1 1011.2,225.2 1009.8,225.2C1008.5,225.2 1006.8,223.5 1005.7,222.1C1004.7,220.7 1005.1,218.7 1003.7,217.0C1002.3,215.2 997.9,213.4 997.5,211.8Z" fill="#ff9a0a"/>
<circle cx="1019.1" cy="211.4" r="2.5" fill="#ff3a0e"/>
<circle cx="1001.0" cy="221.1" r="1.6" fill="#a9a18f"/>
<circle cx="992.4" cy="230.9" r="1.6" fill="#ff9a0a"/>
<circle cx="983.2" cy="239.5" r="2.5" fill="#ff9a0a"/>
<path d="M1032.4,201.6C1033.4,199.7 1036.2,197.1 1038.6,196.4C1041.0,195.8 1044.0,197.0 1046.8,197.5C1049.5,198.0 1052.2,198.2 1055.0,199.5C1057.7,200.9 1060.8,205.0 1063.2,205.7C1065.6,206.4 1069.0,205.0 1069.3,203.6C1069.7,202.3 1066.9,199.2 1065.2,197.5C1063.5,195.8 1060.4,195.1 1059.1,193.4C1057.7,191.7 1056.0,188.8 1057.0,187.2C1058.0,185.7 1062.1,185.0 1065.2,184.1C1068.3,183.3 1072.1,182.9 1075.5,182.1C1078.9,181.2 1083.7,178.2 1085.7,179.0C1087.8,179.9 1088.1,184.8 1087.8,187.2C1087.4,189.6 1085.0,191.7 1083.7,193.4C1082.3,195.1 1079.2,195.8 1079.6,197.5C1079.9,199.2 1084.9,201.2 1085.7,203.6C1086.6,206.0 1085.7,209.1 1084.7,211.8C1083.7,214.6 1081.5,218.0 1079.6,220.0C1077.7,222.1 1076.2,223.6 1073.4,224.1C1070.7,224.6 1066.2,223.8 1063.2,223.1C1060.1,222.4 1057.0,219.5 1055.0,220.0C1052.9,220.5 1052.9,224.8 1050.9,226.2C1048.8,227.6 1045.4,228.6 1042.7,228.2C1039.9,227.9 1036.3,226.2 1034.5,224.1C1032.6,222.1 1031.7,218.7 1031.4,215.9C1031.0,213.2 1032.2,210.1 1032.4,207.7C1032.6,205.3 1031.4,203.5 1032.4,201.6Z" fill="#ffff1e"/>
<circle cx="1073.0" cy="191.3" r="2.9" fill="#ff9a0a"/>
<circle cx="1037.1" cy="202.0" r="2.1" fill="#ff9a0a"/>
<circle cx="1046.4" cy="211.4" r="2.1" fill="#ff9a0a"/>
<circle cx="1081.6" cy="202.0" r="1.2" fill="#ff9a0a"/>
<circle cx="1046.4" cy="191.7" r="1.6" fill="#1f5fe0"/>
<circle cx="1046.4" cy="221.1" r="1.2" fill="#1f5fe0"/>
<circle cx="1046.4" cy="230.7" r="2.1" fill="#1f5fe0"/>
<path d="M1100.1,177.0C1101.1,174.7 1105.2,173.2 1108.3,171.8C1111.4,170.5 1115.6,169.4 1118.5,168.8C1121.4,168.1 1124.4,166.7 1125.7,167.7C1127.1,168.8 1126.9,172.0 1126.7,174.9C1126.6,177.8 1126.1,181.8 1124.7,185.2C1123.3,188.6 1120.3,192.0 1118.5,195.4C1116.8,198.8 1115.8,202.3 1114.4,205.7C1113.1,209.1 1112.0,212.9 1110.3,215.9C1108.6,219.0 1106.2,221.7 1104.2,224.1C1102.1,226.5 1100.1,229.9 1098.0,230.3C1096.0,230.6 1093.2,227.9 1091.9,226.2C1090.5,224.5 1089.5,222.4 1089.8,220.0C1090.2,217.6 1093.1,214.9 1093.9,211.8C1094.8,208.8 1094.3,204.7 1095.0,201.6C1095.6,198.5 1096.8,196.1 1098.0,193.4C1099.2,190.6 1101.8,187.9 1102.1,185.2C1102.5,182.4 1099.1,179.2 1100.1,177.0Z" fill="#ffff1e"/>
<path d="M1097.0,203.6C1097.2,201.2 1098.5,199.2 1100.1,197.5C1101.6,195.8 1104.5,195.1 1106.2,193.4C1107.9,191.7 1109.0,189.3 1110.3,187.2C1111.7,185.2 1113.1,182.6 1114.4,181.1C1115.8,179.5 1117.5,177.6 1118.5,178.0C1119.6,178.3 1120.8,180.9 1120.6,183.1C1120.4,185.3 1118.9,188.9 1117.5,191.3C1116.2,193.7 1113.9,195.4 1112.4,197.5C1110.9,199.5 1109.7,201.4 1108.3,203.6C1106.9,205.8 1105.7,209.4 1104.2,210.8C1102.6,212.2 1100.3,213.0 1099.1,211.8C1097.9,210.6 1096.8,206.0 1097.0,203.6Z" fill="#ff9a0a"/>
<circle cx="1126.7" cy="181.7" r="2.1" fill="#1f5fe0"/>
<circle cx="1091.5" cy="202.0" r="1.0" fill="#1f5fe0"/>
<path d="M1038.6,244.0C1036.5,242.8 1038.2,238.0 1039.6,236.4C1041.0,234.8 1044.9,234.0 1046.8,234.4C1048.6,234.7 1050.0,236.9 1050.9,238.5C1051.7,240.1 1053.9,243.1 1051.9,244.0C1049.8,245.0 1040.6,245.3 1038.6,244.0Z" fill="#ffff1e"/>
<circle cx="1046.4" cy="239.9" r="2.5" fill="#ff9a0a"/>
<path d="M968.8,179.0C968.7,176.5 970.7,173.2 971.9,171.8C973.1,170.5 974.8,170.0 976.0,170.8C977.2,171.7 978.2,174.6 979.1,177.0C979.9,179.4 979.8,184.0 981.1,185.2C982.5,186.4 985.6,185.2 987.3,184.1C989.0,183.1 989.3,180.0 991.4,179.0C993.4,178.0 997.5,177.5 999.6,178.0C1001.6,178.5 1002.3,182.6 1003.7,182.1C1005.1,181.6 1006.4,177.8 1007.8,174.9C1009.2,172.0 1010.5,167.4 1011.9,164.7C1013.3,161.9 1014.3,159.7 1016.0,158.5C1017.7,157.3 1020.4,156.5 1022.2,157.5C1023.9,158.5 1024.5,162.8 1026.3,164.7C1028.0,166.5 1031.7,167.4 1032.4,168.8C1033.1,170.1 1032.1,172.0 1030.4,172.9C1028.6,173.7 1024.5,173.0 1022.2,173.9C1019.8,174.7 1017.5,176.1 1016.0,178.0C1014.5,179.9 1013.3,182.8 1012.9,185.2C1012.6,187.6 1014.8,190.5 1013.9,192.3C1013.1,194.2 1010.2,195.3 1007.8,196.4C1005.4,197.6 1002.0,198.0 999.6,199.5C997.2,201.1 995.5,203.6 993.4,205.7C991.4,207.7 989.3,210.5 987.3,211.8C985.2,213.2 982.7,214.6 981.1,213.9C979.6,213.2 978.2,210.5 978.1,207.7C977.9,205.0 979.9,200.4 980.1,197.5C980.3,194.6 980.3,192.0 979.1,190.3C977.9,188.6 974.6,189.1 972.9,187.2C971.2,185.3 969.0,181.6 968.8,179.0Z" fill="#1f5fe0"/>
<circle cx="983.2" cy="181.7" r="2.1" fill="#ffff1e"/>
<circle cx="983.2" cy="140.5" r="2.5" fill="#1f5fe0"/>
<circle cx="983.6" cy="161.6" r="2.3" fill="#1f5fe0"/>
<circle cx="1001.6" cy="162.0" r="2.9" fill="#1f5fe0"/>
<circle cx="956.5" cy="191.7" r="3.7" fill="#1f5fe0"/>
<circle cx="938.7" cy="191.7" r="2.5" fill="#1f5fe0"/>
<circle cx="902.6" cy="182.1" r="1.2" fill="#1f5fe0"/>
<circle cx="902.6" cy="191.7" r="2.1" fill="#1f5fe0"/>
<circle cx="938.1" cy="211.8" r="2.9" fill="#1f5fe0"/>
<circle cx="965.8" cy="211.8" r="1.6" fill="#1f5fe0"/>
<circle cx="956.5" cy="202.0" r="1.2" fill="#1f5fe0"/>
<circle cx="956.5" cy="221.1" r="1.6" fill="#1f5fe0"/>
<circle cx="965.8" cy="230.9" r="2.9" fill="#1f5fe0"/>
<circle cx="1028.3" cy="202.0" r="2.5" fill="#1f5fe0"/>
<circle cx="1028.3" cy="221.1" r="2.9" fill="#1f5fe0"/>
<circle cx="1082.0" cy="221.1" r="2.1" fill="#1f5fe0"/>
<ellipse cx="935.0" cy="230.7" rx="8.2" ry="5.5" fill="#1f5fe0"/>
<circle cx="920.6" cy="239.9" r="2.5" fill="#1f5fe0"/>
<circle cx="946.3" cy="240.5" r="2.9" fill="#1f5fe0"/>
<path d="M895.0,238.5C896.7,237.4 903.7,236.5 905.3,237.5C906.8,238.4 905.9,242.9 904.2,244.0C902.5,245.1 896.5,245.0 895.0,244.0C893.5,243.1 893.3,239.6 895.0,238.5Z" fill="#1f5fe0"/>
<ellipse cx="995.5" cy="239.9" rx="6.2" ry="4.1" fill="#1f5fe0"/>
<path d="M1052.9,238.5C1054.1,236.9 1057.2,235.8 1059.1,234.4C1060.9,233.0 1062.8,229.9 1064.2,230.3C1065.6,230.6 1066.4,234.2 1067.3,236.4C1068.1,238.7 1071.9,242.8 1069.3,244.0C1066.8,245.3 1054.6,245.0 1051.9,244.0C1049.2,243.1 1051.7,240.1 1052.9,238.5Z" fill="#1f5fe0"/>
<path d="M1078.6,228.2C1079.1,227.0 1081.5,225.8 1083.7,225.8C1085.9,225.8 1090.2,227.1 1091.9,228.2C1093.6,229.3 1094.6,231.2 1093.9,232.3C1093.2,233.4 1090.0,234.6 1087.8,234.8C1085.6,235.0 1082.1,234.5 1080.6,233.4C1079.1,232.3 1078.0,229.5 1078.6,228.2Z" fill="#1f5fe0"/>
<circle cx="982.8" cy="191.3" r="1.2" fill="#7f9fdc"/></g>
<clipPath id="cbpt6"><rect x="900" y="241" width="250" height="111"/></clipPath>
<g clip-path="url(#cbpt6)"><rect x="900" y="241" width="250" height="111" fill="#a9a18f"/>
<path d="M895.0,241.1C896.4,238.9 901.5,239.9 903.2,241.1C904.9,242.3 905.6,246.0 905.3,248.3C904.9,250.5 902.9,253.4 901.2,254.4C899.4,255.4 896.0,256.6 895.0,254.4C894.0,252.2 893.6,243.3 895.0,241.1Z" fill="#1f5fe0"/>
<path d="M926.8,250.3C927.3,248.1 929.5,246.0 931.9,245.2C934.3,244.3 938.9,244.0 941.1,245.2C943.4,246.4 944.9,249.8 945.2,252.4C945.6,254.9 944.2,258.2 943.2,260.6C942.2,263.0 941.0,265.0 939.1,266.7C937.2,268.4 933.8,270.8 931.9,270.8C930.0,270.8 928.3,268.8 927.8,266.7C927.3,264.7 929.0,261.2 928.8,258.5C928.7,255.8 926.3,252.5 926.8,250.3Z" fill="#1f5fe0"/>
<ellipse cx="945.2" cy="241.1" rx="3.1" ry="5.1" fill="#1f5fe0"/>
<circle cx="955.5" cy="250.3" r="2.9" fill="#1f5fe0"/>
<path d="M985.2,241.1C986.1,239.4 988.3,238.5 991.4,238.0C994.5,237.5 1001.3,236.6 1003.7,238.0C1006.1,239.4 1006.1,243.8 1005.7,246.2C1005.4,248.6 1003.0,250.3 1001.6,252.4C1000.3,254.4 998.9,256.5 997.5,258.5C996.2,260.6 995.2,263.1 993.4,264.7C991.7,266.2 989.3,267.7 987.3,267.7C985.2,267.7 982.7,266.2 981.1,264.7C979.6,263.1 977.7,260.2 978.1,258.5C978.4,256.8 981.8,256.1 983.2,254.4C984.6,252.7 985.9,250.5 986.3,248.3C986.6,246.0 984.4,242.8 985.2,241.1Z" fill="#1f5fe0"/>
<path d="M986.3,274.9C986.8,273.1 989.2,270.9 991.4,270.4C993.6,269.9 997.9,270.7 999.6,271.8C1001.3,272.9 1002.2,275.3 1001.6,277.0C1001.1,278.7 998.7,281.4 996.5,282.1C994.3,282.8 990.0,282.3 988.3,281.1C986.6,279.9 985.8,276.7 986.3,274.9Z" fill="#1f5fe0"/>
<path d="M983.2,289.3C983.5,287.4 986.6,285.5 989.3,284.1C992.1,282.8 996.9,282.3 999.6,281.1C1002.3,279.9 1003.5,277.6 1005.7,277.0C1008.0,276.3 1011.6,275.9 1012.9,277.0C1014.3,278.0 1014.5,281.1 1013.9,283.1C1013.4,285.2 1011.2,287.4 1009.8,289.3C1008.5,291.2 1007.5,292.9 1005.7,294.4C1004.0,295.9 1001.6,297.6 999.6,298.5C997.5,299.4 995.5,300.0 993.4,299.5C991.4,299.0 989.0,297.1 987.3,295.4C985.6,293.7 982.8,291.2 983.2,289.3Z" fill="#1f5fe0"/>
<path d="M1015.0,284.1C1016.1,282.1 1020.8,281.9 1022.2,283.1C1023.5,284.3 1023.5,288.9 1023.2,291.3C1022.8,293.7 1021.4,296.8 1020.1,297.5C1018.8,298.2 1016.4,297.6 1015.6,295.4C1014.7,293.2 1013.9,286.2 1015.0,284.1Z" fill="#1f5fe0"/>
<path d="M998.6,303.6C999.8,302.4 1004.2,301.1 1005.7,301.6C1007.3,302.1 1008.3,305.3 1007.8,306.7C1007.3,308.1 1004.2,309.4 1002.7,309.8C1001.1,310.1 999.3,309.8 998.6,308.8C997.9,307.7 997.4,304.8 998.6,303.6Z" fill="#1f5fe0"/>
<path d="M1026.3,268.8C1027.6,267.2 1031.6,266.0 1034.5,265.7C1037.4,265.3 1042.0,265.3 1043.7,266.7C1045.4,268.1 1045.6,271.8 1044.7,273.9C1043.9,275.9 1041.0,278.0 1038.6,279.0C1036.2,280.0 1032.4,280.7 1030.4,280.0C1028.3,279.4 1026.9,276.8 1026.3,274.9C1025.6,273.0 1024.9,270.3 1026.3,268.8Z" fill="#1f5fe0"/>
<circle cx="1037.5" cy="278.0" r="3.3" fill="#ffff1e"/>
<circle cx="1038.6" cy="287.8" r="4.1" fill="#1f5fe0"/>
<path d="M936.0,297.5C936.9,296.4 941.1,296.1 944.2,295.4C947.3,294.7 951.1,293.5 954.5,293.4C957.9,293.2 962.3,293.0 964.7,294.4C967.1,295.8 968.0,299.0 968.8,301.6C969.7,304.1 970.9,307.9 969.9,309.8C968.8,311.7 965.2,312.5 962.7,312.9C960.1,313.2 956.9,311.1 954.5,311.8C952.1,312.5 950.2,316.4 948.3,317.0C946.4,317.5 943.9,316.4 943.2,314.9C942.5,313.4 944.9,310.0 944.2,307.7C943.5,305.5 940.5,303.3 939.1,301.6C937.7,299.9 935.2,298.5 936.0,297.5Z" fill="#1f5fe0"/>
<path d="M918.6,306.7C919.3,304.7 921.8,303.8 922.7,304.7C923.5,305.5 922.3,310.5 923.7,311.8C925.1,313.2 929.6,311.8 930.9,312.9C932.2,313.9 932.7,317.0 931.5,318.0C930.3,319.0 925.9,319.2 923.7,319.0C921.6,318.8 919.4,319.0 918.6,317.0C917.7,314.9 917.9,308.8 918.6,306.7Z" fill="#1f5fe0"/>
<path d="M895.0,311.8C895.9,307.0 898.8,312.9 900.1,314.9C901.5,317.0 902.3,320.9 903.2,324.1C904.1,327.4 905.6,331.1 905.3,334.4C904.9,337.7 902.9,342.4 901.2,344.0C899.4,345.6 896.0,349.4 895.0,344.0C894.0,338.7 894.1,316.7 895.0,311.8Z" fill="#1f5fe0"/>
<circle cx="902.6" cy="278.0" r="2.5" fill="#1f5fe0"/>
<circle cx="920.2" cy="287.8" r="2.9" fill="#1f5fe0"/>
<circle cx="911.4" cy="297.5" r="2.1" fill="#1f5fe0"/>
<circle cx="911.4" cy="323.7" r="2.1" fill="#1f5fe0"/>
<circle cx="983.6" cy="306.7" r="1.4" fill="#1f5fe0"/>
<circle cx="921.0" cy="240.5" r="2.5" fill="#1f5fe0"/>
<circle cx="974.6" cy="240.5" r="1.4" fill="#1f5fe0"/>
<path d="M1052.9,241.1C1052.9,239.5 1056.3,238.5 1059.1,238.0C1061.8,237.5 1068.0,237.0 1069.3,238.0C1070.7,239.0 1069.0,242.6 1067.3,244.2C1065.6,245.7 1061.5,247.7 1059.1,247.2C1056.7,246.7 1052.9,242.6 1052.9,241.1Z" fill="#1f5fe0"/>
<path d="M895.0,258.5C896.4,255.8 899.8,257.0 903.2,256.5C906.6,255.9 912.3,255.1 915.5,255.4C918.8,255.8 921.1,256.6 922.7,258.5C924.2,260.4 924.9,264.3 924.7,266.7C924.6,269.1 923.5,271.6 921.7,272.9C919.8,274.2 916.5,274.4 913.5,274.5C910.4,274.6 906.3,273.5 903.2,273.3C900.1,273.0 896.4,275.3 895.0,272.9C893.6,270.4 893.6,261.2 895.0,258.5Z" fill="#ffff1e"/>
<circle cx="911.4" cy="268.8" r="2.9" fill="#ff9a0a"/>
<circle cx="920.6" cy="268.8" r="1.2" fill="#ff9a0a"/>
<path d="M895.0,285.2C896.0,282.1 899.1,282.8 901.2,283.1C903.2,283.5 906.5,284.8 907.3,287.2C908.2,289.6 907.3,294.7 906.3,297.5C905.3,300.2 903.0,302.9 901.2,303.6C899.3,304.3 896.0,304.7 895.0,301.6C894.0,298.5 894.0,288.2 895.0,285.2Z" fill="#ffff1e"/>
<circle cx="902.2" cy="287.8" r="2.1" fill="#ff9a0a"/>
<path d="M924.7,279.0C925.4,277.6 927.6,276.3 929.9,275.9C932.1,275.6 935.7,277.6 938.1,277.0C940.5,276.3 942.0,273.7 944.2,271.8C946.4,270.0 949.3,266.2 951.4,265.7C953.4,265.2 955.0,267.6 956.5,268.8C958.1,270.0 958.2,272.2 960.6,272.9C963.0,273.5 967.8,272.4 970.9,272.9C974.0,273.4 977.4,274.2 979.1,275.9C980.8,277.6 981.1,280.9 981.1,283.1C981.1,285.3 978.4,287.7 979.1,289.3C979.8,290.8 983.5,290.8 985.2,292.3C986.9,293.9 989.3,296.4 989.3,298.5C989.3,300.6 987.3,303.5 985.2,304.7C983.2,305.8 979.1,306.5 977.0,305.7C975.0,304.8 974.6,301.6 972.9,299.5C971.2,297.5 969.2,294.7 966.8,293.4C964.4,292.0 961.0,291.3 958.6,291.3C956.2,291.3 954.8,292.9 952.4,293.4C950.0,293.9 947.0,294.2 944.2,294.4C941.5,294.6 938.4,295.3 936.0,294.4C933.6,293.5 931.6,291.0 929.9,289.3C928.2,287.6 926.6,285.9 925.8,284.1C924.9,282.4 924.1,280.4 924.7,279.0Z" fill="#ffff1e"/>
<path d="M932.9,286.2C933.6,284.8 936.4,284.0 938.1,282.1C939.8,280.2 941.3,276.3 943.2,274.9C945.1,273.5 947.6,273.2 949.3,273.9C951.1,274.6 952.9,276.8 953.4,279.0C954.0,281.2 953.6,285.0 952.4,287.2C951.2,289.4 948.7,291.4 946.3,292.3C943.9,293.3 940.1,293.3 938.1,293.0C936.0,292.6 934.8,291.4 934.0,290.3C933.1,289.2 932.3,287.6 932.9,286.2Z" fill="#ff9a0a"/>
<circle cx="938.7" cy="287.6" r="3.7" fill="#ff3a0e"/>
<circle cx="947.3" cy="278.6" r="2.5" fill="#ff3a0e"/>
<path d="M961.7,278.0C962.3,276.4 963.5,275.1 965.8,274.5C968.0,273.9 972.9,273.6 975.0,274.5C977.0,275.4 978.1,278.1 978.1,280.0C978.1,282.0 976.5,284.5 975.0,286.2C973.4,287.9 970.7,289.8 968.8,290.3C967.0,290.8 964.9,290.3 963.7,289.3C962.5,288.2 962.0,286.0 961.7,284.1C961.3,282.3 961.0,279.6 961.7,278.0Z" fill="#ff9a0a"/>
<circle cx="965.3" cy="278.6" r="1.2" fill="#ff3a0e"/>
<circle cx="983.2" cy="297.1" r="4.1" fill="#ff9a0a"/>
<circle cx="983.2" cy="297.1" r="2.1" fill="#ff3a0e"/>
<circle cx="956.5" cy="278.6" r="2.1" fill="#a9a18f"/>
<circle cx="956.5" cy="287.8" r="2.5" fill="#1f5fe0"/>
<circle cx="975.0" cy="287.8" r="1.6" fill="#a9a18f"/>
<circle cx="938.7" cy="278.6" r="1.2" fill="#1f5fe0"/>
<ellipse cx="965.3" cy="257.5" rx="5.7" ry="9.2" fill="#ffff1e"/>
<circle cx="965.3" cy="258.5" r="3.1" fill="#ff9a0a"/>
<circle cx="965.3" cy="268.8" r="2.1" fill="#1f5fe0"/>
<path d="M997.5,260.6C997.5,259.0 999.6,256.5 1001.6,255.4C1003.7,254.4 1007.5,253.9 1009.8,254.4C1012.2,254.9 1015.0,256.6 1016.0,258.5C1017.0,260.4 1016.7,263.6 1016.0,265.7C1015.3,267.7 1013.4,270.3 1011.9,270.8C1010.4,271.3 1008.5,269.8 1006.8,268.8C1005.1,267.7 1003.2,266.0 1001.6,264.7C1000.1,263.3 997.5,262.1 997.5,260.6Z" fill="#ffff1e"/>
<circle cx="1010.3" cy="259.5" r="2.1" fill="#ff9a0a"/>
<ellipse cx="956.5" cy="241.1" rx="2.5" ry="3.7" fill="#ffff1e"/>
<ellipse cx="983.2" cy="242.1" rx="3.1" ry="6.2" fill="#ffff1e"/>
<circle cx="983.2" cy="241.1" r="2.1" fill="#ff9a0a"/>
<path d="M1007.4,241.1C1010.0,240.4 1021.6,240.4 1024.2,241.1C1026.8,241.8 1024.5,244.3 1023.2,245.2C1021.8,246.0 1018.4,246.2 1016.0,246.2C1013.6,246.2 1010.3,246.0 1008.8,245.2C1007.4,244.3 1004.8,241.8 1007.4,241.1Z" fill="#ffff1e"/>
<path d="M1030.4,241.1C1034.5,240.4 1048.0,240.1 1050.9,241.1C1053.8,242.1 1049.8,246.0 1047.8,247.2C1045.7,248.4 1041.5,247.4 1038.6,248.3C1035.7,249.1 1032.4,252.0 1030.4,252.4C1028.3,252.7 1026.9,251.5 1026.3,250.3C1025.6,249.1 1025.6,246.7 1026.3,245.2C1026.9,243.6 1026.3,241.8 1030.4,241.1Z" fill="#ffff1e"/>
<circle cx="1046.4" cy="241.1" r="2.5" fill="#ff9a0a"/>
<circle cx="1082.0" cy="241.5" r="3.3" fill="#ffff1e"/>
<circle cx="921.0" cy="297.5" r="3.7" fill="#ffff1e"/>
<circle cx="911.4" cy="306.3" r="2.5" fill="#ffff1e"/>
<circle cx="929.5" cy="306.3" r="2.9" fill="#ffff1e"/>
<circle cx="911.4" cy="315.5" r="1.6" fill="#ffff1e"/>
<circle cx="1028.3" cy="287.8" r="2.1" fill="#ffff1e"/>
<circle cx="1037.5" cy="296.9" r="2.1" fill="#ffff1e"/>
<ellipse cx="1010.5" cy="297.5" rx="2.5" ry="3.7" fill="#ffff1e"/>
<path d="M935.0,315.9C935.5,314.2 937.7,311.0 939.1,310.8C940.5,310.6 942.3,313.4 943.2,314.9C944.0,316.4 942.3,319.0 944.2,320.0C946.1,321.1 951.7,320.4 954.5,321.1C957.2,321.7 960.3,322.8 960.6,324.1C961.0,325.5 958.6,328.4 956.5,329.3C954.5,330.1 951.1,329.9 948.3,329.3C945.6,328.6 942.2,326.5 940.1,325.2C938.1,323.8 936.9,322.6 936.0,321.1C935.2,319.5 934.5,317.6 935.0,315.9Z" fill="#ffff1e"/>
<path d="M908.3,330.3C909.0,328.8 912.6,327.4 915.5,327.2C918.4,327.0 923.7,327.7 925.8,329.3C927.8,330.8 928.2,334.0 927.8,336.4C927.5,338.9 925.8,342.8 923.7,344.0C921.7,345.3 917.6,345.3 915.5,344.0C913.5,342.8 912.6,338.7 911.4,336.4C910.2,334.2 907.6,331.8 908.3,330.3Z" fill="#ffff1e"/>
<ellipse cx="919.6" cy="336.4" rx="4.1" ry="6.2" fill="#ff9a0a"/>
<circle cx="920.6" cy="342.6" r="2.1" fill="#ff3a0e"/></g>
</g>
<path d="M776.5,61.6L784.4,58.4L788.7,55.2L794.7,50.2L801.6,49.4L808.5,48.7L814.5,47.6L819.9,47.0L827.4,45.1L833.8,45.1L840.3,44.4L848.8,44.0L854.2,42.7L861.7,42.9L868.2,43.3L873.5,45.1L877.8,47.6L883.2,50.9L888.6,52.4L893.9,52.6L900.4,51.3L905.8,53.0L911.1,55.2L915.4,58.4L920.8,61.6L922.9,64.8L921.9,68.0L926.1,72.3L930.4,76.6L934.2,83.1L938.5,90.6L942.8,97.0L945.0,103.5L949.3,108.8L952.5,115.3L953.6,121.7L958.9,123.9L960.0,131.4L964.3,136.7L965.4,137.6L974.0,139.3L982.6,139.7L990.1,140.8L997.6,142.9L1004.0,141.9L1010.5,147.2L1019.1,152.6L1027.7,154.3L1031.9,155.8L1030.9,161.2L1035.2,165.5L1036.2,170.9L1034.1,174.1L1038.4,179.4L1042.7,182.7L1053.4,182.2L1064.2,182.7L1072.7,182.7L1079.2,180.9L1083.5,177.3L1089.9,175.2L1096.4,174.1L1102.8,171.9L1109.2,169.8L1117.8,168.7L1126.4,167.6L1132.9,166.6L1138.2,165.5L1137.2,168.1L1130.7,169.8L1126.4,173.0L1128.6,177.3L1130.7,181.6L1127.5,185.9L1122.1,189.1L1117.8,193.4L1114.6,196.6L1115.7,202.0L1111.4,205.2L1109.2,211.7L1110.3,217.0L1105.0,222.4L1100.7,226.7L1098.5,231.0L1094.2,236.3L1092.1,242.1L1089.9,245.5L1079.2,244.9L1070.6,246.1L1062.0,246.6L1053.4,248.3L1044.8,249.8L1041.6,253.0L1043.8,259.5L1045.9,265.9L1047.0,272.3L1045.9,278.8L1047.0,285.2L1044.8,289.5L1040.5,293.8L1036.2,298.1L1029.8,300.2L1025.5,302.4L1030.9,308.8L1027.7,307.8L1023.4,303.5L1019.1,300.2L1014.8,298.1L1011.5,302.4L1010.5,308.8L1004.0,311.0L997.6,314.2L993.3,316.4L989.0,318.5L982.6,319.6L976.1,320.6L970.8,321.7L971.8,326.0L974.0,330.3L971.8,333.5L965.4,332.5L958.9,330.3L952.5,329.2L948.2,330.3L943.9,326.0L939.6,328.2L933.2,332.5L928.9,336.8L920.3,341.0L913.8,345.3L904.7,350.5L898.2,354.8L889.6,360.1L881.1,364.4L872.5,368.7L863.9,370.9L855.3,373.0L846.7,376.2L840.3,379.4L833.8,382.7L827.4,385.9L823.1,390.2L816.6,393.4L810.2,396.6L803.8,398.8L801.6,394.5L805.9,391.3L812.3,388.0L814.5,384.8L809.1,383.7L805.9,380.5L809.1,376.2L811.3,371.9L816.6,369.8L823.1,365.5L827.4,360.1L831.7,354.8L827.4,350.5L823.1,346.2L816.6,344.0L810.2,345.1L803.8,346.2L799.5,349.4L795.2,353.7L790.9,358.0L784.4,362.3L778.0,365.5L771.5,367.6L767.3,362.3L765.1,356.9L760.8,353.7L754.4,351.5L749.0,347.2L751.1,342.9L756.5,338.7L752.2,336.5L741.5,334.4L735.0,330.1L734.0,321.5L729.7,317.2L727.5,310.7L723.2,306.4L717.9,307.5L709.3,308.6L702.8,307.5L698.5,303.2L697.5,297.8L693.2,294.6L691.0,290.3L697.5,286.0L702.8,281.7L705.0,276.4L703.9,272.1L708.2,267.8L713.6,267.3L720.0,268.8L728.6,267.8L735.0,264.6L741.5,262.4L747.9,260.3L752.2,257.0L756.5,252.7L759.7,246.3L758.7,244.7L759.7,239.3L767.3,236.1L771.5,229.6L773.7,221.0L774.8,212.5L774.2,204.5L772.6,200.3L768.9,194.9L762.4,190.6L757.0,187.4L753.8,183.6L747.4,182.0L743.1,178.8L737.7,176.6L729.1,175.6L722.7,176.1L717.3,180.4L712.0,184.1L706.6,180.4L701.2,178.8L692.6,178.8L684.0,179.9L678.7,183.1L674.4,181.5L670.1,178.2L669.0,173.4L672.2,171.1L675.5,166.8L676.0,163.6L679.7,157.2L684.0,150.7L688.3,144.3L692.6,137.8L696.9,131.4L701.2,133.0L705.5,135.2L710.9,136.8L717.3,137.8L722.7,139.5L729.1,137.3L735.6,134.1L740.9,130.9L747.4,128.7L753.8,127.1L758.1,125.0L759.7,125.4L760.4,121.7L756.9,121.3L754.8,120.2L756.9,116.8L759.7,113.8L763.0,109.9L766.2,105.6L769.8,101.3L772.6,97.0L775.8,93.2L780.1,88.4L785.5,85.2L790.9,82.0L793.0,77.7L791.5,74.5L792.6,71.3L794.7,67.4L790.9,65.9L784.4,65.5L777.1,65.9Z" fill="none" stroke="#000" stroke-width="1.5" stroke-linejoin="round"/>
<path d="M814.5,47.6L817.7,55.2L811.3,59.4L805.9,64.8L814.5,69.1L823.1,71.3L827.4,69.1L836.0,72.3L841.3,75.6L842.4,82.0L846.7,92.7L855.3,97.0L870.3,96.0L876.8,93.8L888.6,93.8L896.1,89.5L900.4,88.4L907.9,91.7L913.3,98.1L921.9,102.4L921.9,105.6L915.4,107.8L914.3,116.3L906.8,122.8L901.5,127.1L900.4,135.7L902.5,141.6L900.4,147.0L891.8,151.3L888.6,157.7L886.4,165.2L884.3,173.8L882.1,169.5L878.9,164.1L870.3,168.4L859.6,176.0L848.8,182.4L840.3,186.7L833.8,192.1L837.0,195.3L842.4,199.6L848.8,203.9L852.1,206.0L855.3,202.8L859.6,201.7L862.8,204.9L859.6,208.2L853.1,208.2L848.8,210.7" fill="none" stroke="#000" stroke-width="1.5" stroke-linejoin="round" stroke-linecap="round"/>
<path d="M848.8,210.7L851.0,214.6L855.3,217.8L863.9,217.8L869.2,218.9L871.4,224.3L873.5,229.6L878.9,233.9L885.4,237.2L891.8,238.2L902.5,236.1L911.1,238.2L915.4,241.4L924.0,244.7L916.0,242.3L924.6,244.4L935.3,245.5L943.9,247.6L947.1,250.9L945.0,256.2L950.4,258.4L956.8,260.5L961.1,267.0L965.4,269.1L969.7,263.7L976.1,261.6L979.3,265.9L981.5,271.3L985.8,276.6L987.9,282.0L993.3,280.9L997.6,277.7L1004.0,275.6L1010.5,274.5L1014.8,272.3L1019.1,275.6L1023.4,272.3L1025.5,276.6L1026.6,280.9L1031.9,283.1L1038.4,286.3L1045.9,285.2" fill="none" stroke="#000" stroke-width="1.5" stroke-linejoin="round" stroke-linecap="round"/>
<path d="M848.8,210.7L846.7,216.8L843.5,222.1L836.0,223.2L827.4,225.3L819.9,224.3L817.7,229.6L823.1,232.9L828.4,236.1L830.6,241.4L827.4,246.8L825.2,246.3L827.4,252.7L830.6,259.2L831.7,264.6L840.3,263.1L848.8,260.3L853.1,265.6L857.4,272.1L860.7,278.5L857.4,283.9L861.7,286.0" fill="none" stroke="#000" stroke-width="1.5" stroke-linejoin="round" stroke-linecap="round"/>
<path d="M861.7,286.0L863.9,290.3L859.6,294.6L853.1,297.8L844.6,301.1L836.0,302.6L827.4,303.2L823.1,306.4L816.6,307.5L810.2,309.6L803.8,311.8L797.3,315.0L790.9,319.3L784.4,322.5L778.0,326.2L774.8,321.5L771.5,315.0L766.2,312.9L759.7,313.9L758.7,319.3L760.8,325.7L759.7,332.2L757.6,338.6" fill="none" stroke="#000" stroke-width="1.5" stroke-linejoin="round" stroke-linecap="round"/>
<path d="M861.7,286.0L868.2,288.2L874.6,291.4L881.1,296.8L884.3,300.0L888.6,296.8L891.8,293.5L893.9,300.0L898.2,307.5L902.5,312.9L906.8,318.2L904.7,320.4L907.9,327.9L911.1,334.3L914.3,340.8L913.3,346.1" fill="none" stroke="#000" stroke-width="1.5" stroke-linejoin="round" stroke-linecap="round"/>
<path d="M805.5,379.0L808.5,377.7L810.6,379.9L809.8,382.7L806.8,382.9Z" fill="#000" stroke="#000" stroke-width="0.6"/>
<path d="M799.9,393.6L803.8,392.3L805.9,393.6L802.7,394.9Z" fill="#000" stroke="#000" stroke-width="0.6"/>
<path d="M831.7,386.3L840.3,385.0L845.6,385.5L840.3,387.2L834.9,388.0Z" fill="#000" stroke="#000" stroke-width="0.6"/>
<path d="M841.3,390.8L845.6,390.2L844.6,392.3Z" fill="#000" stroke="#000" stroke-width="0.6"/>
<path d="M846.7,379.0L850.6,378.6L848.8,381.2Z" fill="#000" stroke="#000" stroke-width="0.6"/>
<path d="M850.6,389.8L853.6,389.3L852.3,391.9Z" fill="#000" stroke="#000" stroke-width="0.6"/>
<path d="M805.9,387.0L811.3,386.3L812.3,388.5L807.0,389.1Z" fill="#000" stroke="#000" stroke-width="0.6"/>
<path d="M804.9,378.9L808.6,376.8L812.9,376.2L814.0,378.9L812.9,382.1L817.2,382.7L821.5,382.1L819.3,384.3L815.1,385.4L811.8,388.0L808.6,386.4L805.9,383.2Z" fill="#000" stroke="#000" stroke-width="0.6"/>
<path d="M802.7,389.1L806.5,388.6L807.0,389.9L803.2,390.3Z" fill="#000" stroke="#000" stroke-width="0.6"/>
<path d="M798.9,393.1L803.2,392.3L803.2,393.9L799.5,394.2Z" fill="#000" stroke="#000" stroke-width="0.6"/>
<path d="M846.2,377.8L850.5,378.4L851.6,380.5L848.3,381.6L846.7,380.0Z" fill="#000" stroke="#000" stroke-width="0.6"/>
<path d="M830.6,386.4L833.3,384.8L841.9,385.1L844.6,386.4L839.7,387.3L833.3,388.0Z" fill="#000" stroke="#000" stroke-width="0.6"/>
<path d="M840.3,390.9L845.1,389.9L845.6,391.6L841.4,392.7Z" fill="#000" stroke="#000" stroke-width="0.6"/>
<path d="M850.5,390.2L853.2,389.7L853.5,391.6L851.0,392.0Z" fill="#000" stroke="#000" stroke-width="0.6"/>
<path d="M847.3,385.1L849.4,384.8L849.6,386.4L847.5,386.6Z" fill="#000" stroke="#000" stroke-width="0.6"/>

<path d="M73.7,406V28.3H591.8V406" fill="none" stroke="#000" stroke-width="1.15"/>
<path d="M73.10000000000001,406H592.4" fill="none" stroke="#000" stroke-width="1.7"/>
<path d="M109.4,28.3v-4.5M109.4,406v4.5" stroke="#000" stroke-width="1.1"/>
<path d="M224.3,28.3v-4.5M224.3,406v4.5" stroke="#000" stroke-width="1.1"/>
<path d="M339.2,28.3v-4.5M339.2,406v4.5" stroke="#000" stroke-width="1.1"/>
<path d="M454,28.3v-4.5M454,406v4.5" stroke="#000" stroke-width="1.1"/>
<path d="M568.7,28.3v-4.5M568.7,406v4.5" stroke="#000" stroke-width="1.1"/>
<path d="M73.7,127.2h-4.5M592,127.2h4.5" stroke="#000" stroke-width="1.1"/>
<path d="M73.7,241.5h-4.5M592,241.5h4.5" stroke="#000" stroke-width="1.1"/>
<path d="M73.7,355.6h-4.5M592,355.6h4.5" stroke="#000" stroke-width="1.1"/>
<rect x="638.8" y="25.8" width="518.8" height="378.2" fill="none" stroke="#000" stroke-width="1.9"/>
<path d="M655.5,25.8v-4.5M655.5,404v4.5" stroke="#000" stroke-width="1.1"/>
<path d="M775.7,25.8v-4.5M775.7,404v4.5" stroke="#000" stroke-width="1.1"/>
<path d="M895.9,25.8v-4.5M895.9,404v4.5" stroke="#000" stroke-width="1.1"/>
<path d="M1016.3,25.8v-4.5M1016.3,404v4.5" stroke="#000" stroke-width="1.1"/>
<path d="M1136.6,25.8v-4.5M1136.6,404v4.5" stroke="#000" stroke-width="1.1"/>
<path d="M638.8,128.2h-4.5M1157.6,128.2h4.5" stroke="#000" stroke-width="1.1"/>
<path d="M638.8,247.6h-4.5M1157.6,247.6h4.5" stroke="#000" stroke-width="1.1"/>
<path d="M638.8,367.4h-4.5M1157.6,367.4h4.5" stroke="#000" stroke-width="1.1"/>
<rect x="94" y="448.8" width="451" height="21.6" fill="url(#cb)"/>
<rect x="669.2" y="448.8" width="452" height="21.6" fill="url(#cb)"/>
<path d="M551.6,55.3L538.5,99.3L551.6,85.5Z" fill="#000" stroke="#000" stroke-width="0.8" stroke-linejoin="miter"/>
<path d="M551.6,55.3L565.2,99.3L551.6,85.5Z" fill="#fff" stroke="#000" stroke-width="0.9" stroke-linejoin="miter"/>
<rect x="452.5" y="390" width="104" height="3.2" fill="#000"/>
<rect x="466" y="390.9" width="12" height="1.4" fill="#ccc"/>
<rect x="491" y="390.9" width="12" height="1.4" fill="#ccc"/>
<path d="M466.9,127.8L425.0,171.0" fill="none" stroke="#000" stroke-width="1.1"/>
<path d="M425.0,171.0L426.8,166.5L429.4,169.0Z" fill="#000"/>
<path d="M174.0,236.7L226.4,262.1" fill="none" stroke="#000" stroke-width="1.1"/>
<path d="M226.4,262.1L221.6,261.8L223.1,258.5Z" fill="#000"/>
<path d="M471.0,326.4L386.0,279.8" fill="none" stroke="#000" stroke-width="1.1"/>
<path d="M386.0,279.8L390.8,280.4L389.1,283.5Z" fill="#000"/>
<path d="M343.3,369.2L297.1,326.2" fill="none" stroke="#000" stroke-width="1.1"/>
<path d="M297.1,326.2L301.6,327.9L299.2,330.6Z" fill="#000"/>
<text x="109.9" y="432" font-size="22" text-anchor="middle">115° E</text>
<text x="224.8" y="432" font-size="22" text-anchor="middle">120° E</text>
<text x="339.7" y="432" font-size="22" text-anchor="middle">125° E</text>
<text x="454.5" y="432" font-size="22" text-anchor="middle">130° E</text>
<text x="569.2" y="432" font-size="22" text-anchor="middle">135° E</text>
<text x="68.6" y="135.6" font-size="22" text-anchor="end">50° N</text>
<text x="68.6" y="249.9" font-size="22" text-anchor="end">45° N</text>
<text x="68.6" y="364.0" font-size="22" text-anchor="end">40° N</text>
<text x="96" y="499.8" font-size="21.5" text-anchor="middle">2</text>
<text x="209" y="499.8" font-size="21.5" text-anchor="middle">7</text>
<text x="322" y="499.8" font-size="21.5" text-anchor="middle">12</text>
<text x="435" y="499.8" font-size="21.5" text-anchor="middle">17</text>
<text x="548" y="499.8" font-size="21.5" text-anchor="middle">22</text>
<text x="656.0" y="429" font-size="21.5" text-anchor="middle">115°E</text>
<text x="776.2" y="429" font-size="21.5" text-anchor="middle">120°E</text>
<text x="896.4" y="429" font-size="21.5" text-anchor="middle">125°E</text>
<text x="1016.8" y="429" font-size="21.5" text-anchor="middle">130°E</text>
<text x="1137.1" y="429" font-size="21.5" text-anchor="middle">135°E</text>
<text x="1161.8" y="135.89999999999998" font-size="21.5" text-anchor="start">50°N</text>
<text x="1161.8" y="255.29999999999998" font-size="21.5" text-anchor="start">45°N</text>
<text x="1161.8" y="375.09999999999997" font-size="21.5" text-anchor="start">40°N</text>
<text x="671" y="496.2" font-size="21.5" text-anchor="middle">22</text>
<text x="783" y="496.2" font-size="21.5" text-anchor="middle">28</text>
<text x="896" y="496.2" font-size="21.5" text-anchor="middle">32</text>
<text x="1008.7" y="496.2" font-size="21.5" text-anchor="middle">40</text>
<text x="1122" y="496.2" font-size="21.5" text-anchor="middle">62</text>
<text x="122.6" y="72" font-size="21.6" text-anchor="middle">(a)</text>
<text x="688.4" y="72.5" font-size="21.6" text-anchor="middle">(b)</text>
<text x="552" y="50.3" font-size="17.5" text-anchor="middle">N</text>
<text x="473.8" y="102.5" font-size="15.5" text-anchor="middle" class="h">Heilongjiang</text>
<text x="474" y="120.4" font-size="15.5" text-anchor="middle" class="h">Province</text>
<text x="142.4" y="214.3" font-size="15.5" text-anchor="middle" class="h">East Inner</text>
<text x="144.4" y="231.4" font-size="15.5" text-anchor="middle" class="h">Mongolia Province</text>
<text x="497.5" y="332" font-size="15.5" text-anchor="middle" class="h">Jinlin</text>
<text x="499" y="349.5" font-size="15.5" text-anchor="middle" class="h">Province</text>
<text x="359" y="369.8" font-size="15.5" text-anchor="middle" class="h">Liao</text>
<text x="361.3" y="387.7" font-size="15.5" text-anchor="middle" class="h">Province</text>
<text x="452.5" y="383.3" font-size="12" text-anchor="middle">0</text>
<text x="478.6" y="383.3" font-size="12" text-anchor="middle">125</text>
<text x="503.8" y="383.3" font-size="12" text-anchor="middle">250</text>
<text x="555.5" y="383.3" font-size="12" text-anchor="middle">500</text>
<text x="569.5" y="392.5" font-size="12" text-anchor="middle">Km</text>
</svg>
</body></html>
